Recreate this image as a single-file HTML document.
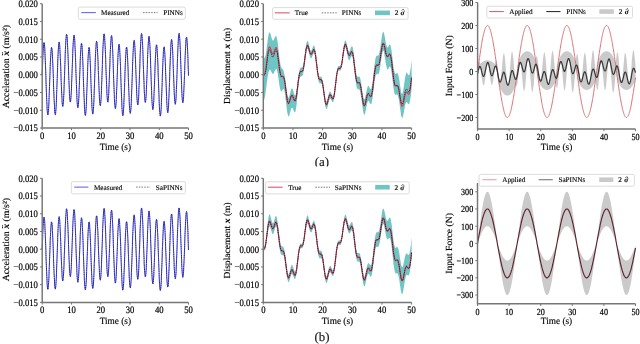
<!DOCTYPE html>
<html><head><meta charset="utf-8"><style>
html,body{margin:0;padding:0;background:#fff;width:640px;height:344px;overflow:hidden}
svg{display:block}
#root{filter:blur(0.3px)}
text{font-family:"Liberation Serif", serif;fill:#000;text-rendering:geometricPrecision}
.tk{font-size:8.8px;stroke:#000;stroke-width:0.2px}
.lb{font-size:9.7px;stroke:#000;stroke-width:0.15px}
.lg{font-size:7.15px;stroke:#000;stroke-width:0.5px}
.cap{font-size:12.8px;fill:#111;stroke:#111;stroke-width:0.12px}
</style></head><body>
<svg id="root" width="640" height="344" viewBox="0 0 640 344">
<rect width="640" height="344" fill="#fff"/>
<path d="M42.2 74.7L42.4 69.7L42.6 64.8L42.7 60.1L42.9 55.8L43.1 51.9L43.3 48.7L43.5 46.0L43.7 44.1L43.8 42.9L44.0 42.5L44.2 42.9L44.4 44.1L44.6 46.1L44.8 48.8L44.9 52.2L45.1 56.2L45.3 60.7L45.5 65.6L45.7 70.8L45.9 76.2L46.0 81.7L46.2 87.1L46.4 92.3L46.6 97.2L46.8 101.6L47.0 105.6L47.1 108.9L47.3 111.6L47.5 113.5L47.7 114.7L47.9 115.0L48.1 114.5L48.2 113.3L48.4 111.2L48.6 108.5L48.8 105.1L49.0 101.1L49.1 96.6L49.3 91.8L49.5 86.8L49.7 81.6L49.9 76.4L50.1 71.3L50.2 66.5L50.4 62.0L50.6 57.9L50.8 54.4L51.0 51.6L51.2 49.4L51.3 48.0L51.5 47.4L51.7 47.6L51.9 48.6L52.1 50.3L52.3 52.8L52.4 56.0L52.6 59.7L52.8 64.0L53.0 68.6L53.2 73.6L53.4 78.7L53.5 83.9L53.7 89.1L53.9 94.0L54.1 98.6L54.3 102.9L54.5 106.6L54.6 109.6L54.8 112.1L55.0 113.7L55.2 114.6L55.4 114.7L55.5 113.9L55.7 112.4L55.9 110.1L56.1 107.1L56.3 103.4L56.5 99.2L56.6 94.5L56.8 89.5L57.0 84.1L57.2 78.7L57.4 73.3L57.6 67.9L57.7 62.8L57.9 58.1L58.1 53.8L58.3 50.1L58.5 47.0L58.7 44.6L58.8 43.0L59.0 42.2L59.2 42.2L59.4 42.9L59.6 44.5L59.8 46.8L59.9 49.7L60.1 53.3L60.3 57.4L60.5 61.9L60.7 66.7L60.9 71.7L61.0 76.7L61.2 81.7L61.4 86.5L61.6 91.0L61.8 95.1L62.0 98.7L62.1 101.7L62.3 104.0L62.5 105.6L62.7 106.4L62.9 106.5L63.0 105.7L63.2 104.1L63.4 101.7L63.6 98.7L63.8 95.0L64.0 90.8L64.1 86.1L64.3 81.0L64.5 75.7L64.7 70.3L64.9 64.8L65.1 59.5L65.2 54.5L65.4 49.8L65.6 45.6L65.8 41.9L66.0 38.9L66.2 36.6L66.3 35.0L66.5 34.3L66.7 34.3L66.9 35.2L67.1 36.9L67.3 39.3L67.4 42.4L67.6 46.1L67.8 50.3L68.0 54.9L68.2 59.9L68.4 65.1L68.5 70.3L68.7 75.4L68.9 80.4L69.1 85.1L69.3 89.5L69.4 93.3L69.6 96.5L69.8 99.0L70.0 100.8L70.2 101.8L70.4 102.1L70.5 101.5L70.7 100.2L70.9 98.1L71.1 95.3L71.3 91.9L71.5 87.9L71.6 83.4L71.8 78.6L72.0 73.6L72.2 68.4L72.4 63.2L72.6 58.2L72.7 53.4L72.9 49.0L73.1 45.0L73.3 41.6L73.5 38.8L73.7 36.8L73.8 35.5L74.0 35.0L74.2 35.3L74.4 36.5L74.6 38.4L74.8 41.0L74.9 44.4L75.1 48.3L75.3 52.8L75.5 57.7L75.7 62.9L75.8 68.3L76.0 73.8L76.2 79.2L76.4 84.4L76.6 89.3L76.8 93.9L76.9 97.9L77.1 101.3L77.3 104.1L77.5 106.1L77.7 107.4L77.9 107.8L78.0 107.5L78.2 106.3L78.4 104.4L78.6 101.8L78.8 98.5L79.0 94.7L79.1 90.4L79.3 85.8L79.5 80.8L79.7 75.8L79.9 70.8L80.1 65.8L80.2 61.2L80.4 56.8L80.6 53.0L80.8 49.6L81.0 47.0L81.2 45.0L81.3 43.7L81.5 43.3L81.7 43.7L81.9 44.8L82.1 46.8L82.2 49.5L82.4 52.8L82.6 56.8L82.8 61.3L83.0 66.1L83.2 71.3L83.3 76.7L83.5 82.1L83.7 87.5L83.9 92.7L84.1 97.6L84.3 102.0L84.4 106.0L84.6 109.4L84.8 112.0L85.0 114.0L85.2 115.1L85.4 115.5L85.5 115.0L85.7 113.7L85.9 111.7L86.1 108.9L86.3 105.5L86.5 101.6L86.6 97.1L86.8 92.3L87.0 87.2L87.2 82.0L87.4 76.8L87.6 71.6L87.7 66.8L87.9 62.2L88.1 58.1L88.3 54.6L88.5 51.7L88.7 49.5L88.8 48.0L89.0 47.3L89.2 47.5L89.4 48.4L89.6 50.1L89.7 52.5L89.9 55.6L90.1 59.3L90.3 63.5L90.5 68.2L90.7 73.1L90.8 78.2L91.0 83.4L91.2 88.5L91.4 93.4L91.6 98.0L91.8 102.2L91.9 105.9L92.1 109.0L92.3 111.4L92.5 113.1L92.7 114.0L92.9 114.1L93.0 113.4L93.2 111.9L93.4 109.6L93.6 106.6L93.8 102.9L94.0 98.7L94.1 94.0L94.3 88.9L94.5 83.6L94.7 78.2L94.9 72.7L95.1 67.3L95.2 62.2L95.4 57.5L95.6 53.2L95.8 49.4L96.0 46.3L96.1 43.9L96.3 42.2L96.5 41.3L96.7 41.3L96.9 42.0L97.1 43.5L97.2 45.8L97.4 48.7L97.6 52.3L97.8 56.3L98.0 60.8L98.2 65.6L98.3 70.6L98.5 75.6L98.7 80.6L98.9 85.5L99.1 90.0L99.3 94.1L99.4 97.8L99.6 100.8L99.8 103.1L100.0 104.8L100.2 105.6L100.4 105.7L100.5 104.9L100.7 103.4L100.9 101.1L101.1 98.1L101.3 94.5L101.5 90.2L101.6 85.6L101.8 80.5L102.0 75.3L102.2 69.8L102.4 64.4L102.5 59.1L102.7 54.1L102.9 49.4L103.1 45.2L103.3 41.5L103.5 38.5L103.6 36.2L103.8 34.6L104.0 33.9L104.2 33.9L104.4 34.8L104.6 36.5L104.7 38.9L104.9 41.9L105.1 45.6L105.3 49.9L105.5 54.5L105.7 59.5L105.8 64.7L106.0 69.9L106.2 75.1L106.4 80.2L106.6 84.9L106.8 89.3L106.9 93.1L107.1 96.4L107.3 99.0L107.5 100.8L107.7 101.9L107.9 102.2L108.0 101.7L108.2 100.5L108.4 98.4L108.6 95.7L108.8 92.3L108.9 88.3L109.1 83.9L109.3 79.2L109.5 74.1L109.7 69.0L109.9 63.9L110.0 58.8L110.2 54.0L110.4 49.6L110.6 45.7L110.8 42.2L111.0 39.5L111.1 37.4L111.3 36.1L111.5 35.6L111.7 35.9L111.9 37.1L112.1 39.0L112.2 41.6L112.4 44.9L112.6 48.9L112.8 53.4L113.0 58.2L113.2 63.5L113.3 68.9L113.5 74.3L113.7 79.8L113.9 85.0L114.1 90.0L114.3 94.5L114.4 98.6L114.6 102.1L114.8 104.9L115.0 106.9L115.2 108.2L115.4 108.7L115.5 108.4L115.7 107.3L115.9 105.4L116.1 102.8L116.3 99.6L116.4 95.7L116.6 91.5L116.8 86.8L117.0 81.9L117.2 76.9L117.4 71.8L117.5 66.9L117.7 62.2L117.9 57.8L118.1 53.9L118.3 50.6L118.5 47.9L118.6 45.8L118.8 44.6L119.0 44.1L119.2 44.4L119.4 45.5L119.6 47.4L119.7 50.1L119.9 53.4L120.1 57.3L120.3 61.7L120.5 66.6L120.7 71.7L120.8 77.1L121.0 82.5L121.2 87.9L121.4 93.0L121.6 97.9L121.8 102.4L121.9 106.3L122.1 109.7L122.3 112.4L122.5 114.3L122.7 115.5L122.8 115.8L123.0 115.4L123.2 114.1L123.4 112.1L123.6 109.3L123.8 105.9L123.9 101.9L124.1 97.5L124.3 92.6L124.5 87.5L124.7 82.3L124.9 77.0L125.0 71.9L125.2 67.0L125.4 62.4L125.6 58.2L125.8 54.6L126.0 51.7L126.1 49.4L126.3 47.9L126.5 47.2L126.7 47.2L126.9 48.1L127.1 49.7L127.2 52.1L127.4 55.2L127.6 58.8L127.8 63.0L128.0 67.6L128.2 72.5L128.3 77.5L128.5 82.7L128.7 87.8L128.9 92.7L129.1 97.3L129.2 101.5L129.4 105.2L129.6 108.3L129.8 110.7L130.0 112.4L130.2 113.3L130.3 113.4L130.5 112.7L130.7 111.2L130.9 109.0L131.1 106.0L131.3 102.3L131.4 98.1L131.6 93.4L131.8 88.3L132.0 83.0L132.2 77.6L132.4 72.1L132.5 66.7L132.7 61.6L132.9 56.8L133.1 52.5L133.3 48.7L133.5 45.5L133.6 43.1L133.8 41.4L134.0 40.5L134.2 40.4L134.4 41.1L134.6 42.6L134.7 44.8L134.9 47.7L135.1 51.2L135.3 55.3L135.5 59.7L135.6 64.5L135.8 69.5L136.0 74.6L136.2 79.6L136.4 84.4L136.6 89.0L136.7 93.2L136.9 96.8L137.1 99.9L137.3 102.3L137.5 103.9L137.7 104.8L137.8 105.0L138.0 104.3L138.2 102.8L138.4 100.5L138.6 97.6L138.8 93.9L138.9 89.8L139.1 85.1L139.3 80.1L139.5 74.9L139.7 69.5L139.9 64.1L140.0 58.8L140.2 53.8L140.4 49.1L140.6 44.9L140.8 41.2L141.0 38.2L141.1 35.9L141.3 34.3L141.5 33.6L141.7 33.6L141.9 34.5L142.0 36.1L142.2 38.5L142.4 41.6L142.6 45.3L142.8 49.6L143.0 54.2L143.1 59.2L143.3 64.4L143.5 69.7L143.7 74.9L143.9 80.0L144.1 84.8L144.2 89.2L144.4 93.1L144.6 96.4L144.8 99.0L145.0 101.0L145.2 102.1L145.3 102.5L145.5 102.1L145.7 100.8L145.9 98.8L146.1 96.1L146.3 92.8L146.4 88.9L146.6 84.5L146.8 79.8L147.0 74.8L147.2 69.7L147.4 64.6L147.5 59.6L147.7 54.8L147.9 50.4L148.1 46.4L148.3 43.0L148.5 40.2L148.6 38.1L148.8 36.8L149.0 36.3L149.2 36.6L149.4 37.7L149.5 39.6L149.7 42.2L149.9 45.6L150.1 49.5L150.3 54.0L150.5 58.9L150.6 64.1L150.8 69.5L151.0 75.0L151.2 80.4L151.4 85.7L151.6 90.7L151.7 95.2L151.9 99.3L152.1 102.8L152.3 105.6L152.5 107.7L152.7 109.1L152.8 109.6L153.0 109.3L153.2 108.2L153.4 106.4L153.6 103.8L153.8 100.6L153.9 96.8L154.1 92.5L154.3 87.9L154.5 83.0L154.7 77.9L154.9 72.9L155.0 67.9L155.2 63.2L155.4 58.8L155.6 54.9L155.8 51.5L155.9 48.7L156.1 46.7L156.3 45.3L156.5 44.8L156.7 45.1L156.9 46.2L157.0 48.0L157.2 50.6L157.4 53.9L157.6 57.7L157.8 62.1L158.0 66.9L158.1 72.1L158.3 77.4L158.5 82.8L158.7 88.1L158.9 93.3L159.1 98.2L159.2 102.6L159.4 106.6L159.6 109.9L159.8 112.6L160.0 114.6L160.2 115.7L160.3 116.1L160.5 115.6L160.7 114.4L160.9 112.3L161.1 109.6L161.3 106.2L161.4 102.2L161.6 97.7L161.8 92.9L162.0 87.7L162.2 82.5L162.3 77.2L162.5 72.0L162.7 67.1L162.9 62.4L163.1 58.2L163.3 54.6L163.4 51.6L163.6 49.3L163.8 47.7L164.0 46.9L164.2 46.9L164.4 47.7L164.5 49.3L164.7 51.6L164.9 54.6L165.1 58.2L165.3 62.4L165.5 66.9L165.6 71.8L165.8 76.8L166.0 81.9L166.2 87.0L166.4 91.9L166.6 96.5L166.7 100.7L166.9 104.4L167.1 107.5L167.3 110.0L167.5 111.7L167.7 112.6L167.8 112.7L168.0 112.0L168.2 110.5L168.4 108.3L168.6 105.3L168.7 101.7L168.9 97.5L169.1 92.8L169.3 87.7L169.5 82.4L169.7 76.9L169.8 71.4L170.0 66.1L170.2 60.9L170.4 56.1L170.6 51.7L170.8 47.9L170.9 44.8L171.1 42.3L171.3 40.5L171.5 39.6L171.7 39.5L171.9 40.2L172.0 41.6L172.2 43.8L172.4 46.7L172.6 50.2L172.8 54.3L173.0 58.7L173.1 63.5L173.3 68.5L173.5 73.6L173.7 78.6L173.9 83.5L174.1 88.0L174.2 92.2L174.4 95.9L174.6 99.0L174.8 101.5L175.0 103.2L175.2 104.1L175.3 104.3L175.5 103.6L175.7 102.2L175.9 100.0L176.1 97.1L176.2 93.5L176.4 89.4L176.6 84.8L176.8 79.8L177.0 74.6L177.2 69.3L177.3 63.9L177.5 58.6L177.7 53.6L177.9 48.9L178.1 44.7L178.3 41.0L178.4 38.0L178.6 35.7L178.8 34.1L179.0 33.4L179.2 33.4L179.4 34.3L179.5 35.9L179.7 38.3L179.9 41.4L180.1 45.1L180.3 49.4L180.5 54.0L180.6 59.1L180.8 64.3L181.0 69.6L181.2 74.8L181.4 79.9L181.6 84.8L181.7 89.2L181.9 93.2L182.1 96.5L182.3 99.2L182.5 101.2L182.6 102.4L182.8 102.8L183.0 102.5L183.2 101.3L183.4 99.4L183.6 96.7L183.7 93.4L183.9 89.6L184.1 85.2L184.3 80.5L184.5 75.6L184.7 70.5L184.8 65.4L185.0 60.4L185.2 55.6L185.4 51.2L185.6 47.2L185.8 43.8L185.9 41.0L186.1 38.9L186.3 37.6L186.5 37.1L186.7 37.4L186.9 38.4L187.0 40.3L187.2 42.9L187.4 46.2L187.6 50.2L187.8 54.6L188.0 59.5L188.1 64.7L188.3 70.1L188.5 75.6" fill="none" stroke="#3434f0" stroke-width="0.95"/>
<path d="M42.2 74.7L42.4 69.7L42.6 64.8L42.7 60.1L42.9 55.8L43.1 51.9L43.3 48.7L43.5 46.0L43.7 44.1L43.8 42.9L44.0 42.5L44.2 42.9L44.4 44.1L44.6 46.1L44.8 48.8L44.9 52.2L45.1 56.2L45.3 60.7L45.5 65.6L45.7 70.8L45.9 76.2L46.0 81.7L46.2 87.1L46.4 92.3L46.6 97.2L46.8 101.6L47.0 105.6L47.1 108.9L47.3 111.6L47.5 113.5L47.7 114.7L47.9 115.0L48.1 114.5L48.2 113.3L48.4 111.2L48.6 108.5L48.8 105.1L49.0 101.1L49.1 96.6L49.3 91.8L49.5 86.8L49.7 81.6L49.9 76.4L50.1 71.3L50.2 66.5L50.4 62.0L50.6 57.9L50.8 54.4L51.0 51.6L51.2 49.4L51.3 48.0L51.5 47.4L51.7 47.6L51.9 48.6L52.1 50.3L52.3 52.8L52.4 56.0L52.6 59.7L52.8 64.0L53.0 68.6L53.2 73.6L53.4 78.7L53.5 83.9L53.7 89.1L53.9 94.0L54.1 98.6L54.3 102.9L54.5 106.6L54.6 109.6L54.8 112.1L55.0 113.7L55.2 114.6L55.4 114.7L55.5 113.9L55.7 112.4L55.9 110.1L56.1 107.1L56.3 103.4L56.5 99.2L56.6 94.5L56.8 89.5L57.0 84.1L57.2 78.7L57.4 73.3L57.6 67.9L57.7 62.8L57.9 58.1L58.1 53.8L58.3 50.1L58.5 47.0L58.7 44.6L58.8 43.0L59.0 42.2L59.2 42.2L59.4 42.9L59.6 44.5L59.8 46.8L59.9 49.7L60.1 53.3L60.3 57.4L60.5 61.9L60.7 66.7L60.9 71.7L61.0 76.7L61.2 81.7L61.4 86.5L61.6 91.0L61.8 95.1L62.0 98.7L62.1 101.7L62.3 104.0L62.5 105.6L62.7 106.4L62.9 106.5L63.0 105.7L63.2 104.1L63.4 101.7L63.6 98.7L63.8 95.0L64.0 90.8L64.1 86.1L64.3 81.0L64.5 75.7L64.7 70.3L64.9 64.8L65.1 59.5L65.2 54.5L65.4 49.8L65.6 45.6L65.8 41.9L66.0 38.9L66.2 36.6L66.3 35.0L66.5 34.3L66.7 34.3L66.9 35.2L67.1 36.9L67.3 39.3L67.4 42.4L67.6 46.1L67.8 50.3L68.0 54.9L68.2 59.9L68.4 65.1L68.5 70.3L68.7 75.4L68.9 80.4L69.1 85.1L69.3 89.5L69.4 93.3L69.6 96.5L69.8 99.0L70.0 100.8L70.2 101.8L70.4 102.1L70.5 101.5L70.7 100.2L70.9 98.1L71.1 95.3L71.3 91.9L71.5 87.9L71.6 83.4L71.8 78.6L72.0 73.6L72.2 68.4L72.4 63.2L72.6 58.2L72.7 53.4L72.9 49.0L73.1 45.0L73.3 41.6L73.5 38.8L73.7 36.8L73.8 35.5L74.0 35.0L74.2 35.3L74.4 36.5L74.6 38.4L74.8 41.0L74.9 44.4L75.1 48.3L75.3 52.8L75.5 57.7L75.7 62.9L75.8 68.3L76.0 73.8L76.2 79.2L76.4 84.4L76.6 89.3L76.8 93.9L76.9 97.9L77.1 101.3L77.3 104.1L77.5 106.1L77.7 107.4L77.9 107.8L78.0 107.5L78.2 106.3L78.4 104.4L78.6 101.8L78.8 98.5L79.0 94.7L79.1 90.4L79.3 85.8L79.5 80.8L79.7 75.8L79.9 70.8L80.1 65.8L80.2 61.2L80.4 56.8L80.6 53.0L80.8 49.6L81.0 47.0L81.2 45.0L81.3 43.7L81.5 43.3L81.7 43.7L81.9 44.8L82.1 46.8L82.2 49.5L82.4 52.8L82.6 56.8L82.8 61.3L83.0 66.1L83.2 71.3L83.3 76.7L83.5 82.1L83.7 87.5L83.9 92.7L84.1 97.6L84.3 102.0L84.4 106.0L84.6 109.4L84.8 112.0L85.0 114.0L85.2 115.1L85.4 115.5L85.5 115.0L85.7 113.7L85.9 111.7L86.1 108.9L86.3 105.5L86.5 101.6L86.6 97.1L86.8 92.3L87.0 87.2L87.2 82.0L87.4 76.8L87.6 71.6L87.7 66.8L87.9 62.2L88.1 58.1L88.3 54.6L88.5 51.7L88.7 49.5L88.8 48.0L89.0 47.3L89.2 47.5L89.4 48.4L89.6 50.1L89.7 52.5L89.9 55.6L90.1 59.3L90.3 63.5L90.5 68.2L90.7 73.1L90.8 78.2L91.0 83.4L91.2 88.5L91.4 93.4L91.6 98.0L91.8 102.2L91.9 105.9L92.1 109.0L92.3 111.4L92.5 113.1L92.7 114.0L92.9 114.1L93.0 113.4L93.2 111.9L93.4 109.6L93.6 106.6L93.8 102.9L94.0 98.7L94.1 94.0L94.3 88.9L94.5 83.6L94.7 78.2L94.9 72.7L95.1 67.3L95.2 62.2L95.4 57.5L95.6 53.2L95.8 49.4L96.0 46.3L96.1 43.9L96.3 42.2L96.5 41.3L96.7 41.3L96.9 42.0L97.1 43.5L97.2 45.8L97.4 48.7L97.6 52.3L97.8 56.3L98.0 60.8L98.2 65.6L98.3 70.6L98.5 75.6L98.7 80.6L98.9 85.5L99.1 90.0L99.3 94.1L99.4 97.8L99.6 100.8L99.8 103.1L100.0 104.8L100.2 105.6L100.4 105.7L100.5 104.9L100.7 103.4L100.9 101.1L101.1 98.1L101.3 94.5L101.5 90.2L101.6 85.6L101.8 80.5L102.0 75.3L102.2 69.8L102.4 64.4L102.5 59.1L102.7 54.1L102.9 49.4L103.1 45.2L103.3 41.5L103.5 38.5L103.6 36.2L103.8 34.6L104.0 33.9L104.2 33.9L104.4 34.8L104.6 36.5L104.7 38.9L104.9 41.9L105.1 45.6L105.3 49.9L105.5 54.5L105.7 59.5L105.8 64.7L106.0 69.9L106.2 75.1L106.4 80.2L106.6 84.9L106.8 89.3L106.9 93.1L107.1 96.4L107.3 99.0L107.5 100.8L107.7 101.9L107.9 102.2L108.0 101.7L108.2 100.5L108.4 98.4L108.6 95.7L108.8 92.3L108.9 88.3L109.1 83.9L109.3 79.2L109.5 74.1L109.7 69.0L109.9 63.9L110.0 58.8L110.2 54.0L110.4 49.6L110.6 45.7L110.8 42.2L111.0 39.5L111.1 37.4L111.3 36.1L111.5 35.6L111.7 35.9L111.9 37.1L112.1 39.0L112.2 41.6L112.4 44.9L112.6 48.9L112.8 53.4L113.0 58.2L113.2 63.5L113.3 68.9L113.5 74.3L113.7 79.8L113.9 85.0L114.1 90.0L114.3 94.5L114.4 98.6L114.6 102.1L114.8 104.9L115.0 106.9L115.2 108.2L115.4 108.7L115.5 108.4L115.7 107.3L115.9 105.4L116.1 102.8L116.3 99.6L116.4 95.7L116.6 91.5L116.8 86.8L117.0 81.9L117.2 76.9L117.4 71.8L117.5 66.9L117.7 62.2L117.9 57.8L118.1 53.9L118.3 50.6L118.5 47.9L118.6 45.8L118.8 44.6L119.0 44.1L119.2 44.4L119.4 45.5L119.6 47.4L119.7 50.1L119.9 53.4L120.1 57.3L120.3 61.7L120.5 66.6L120.7 71.7L120.8 77.1L121.0 82.5L121.2 87.9L121.4 93.0L121.6 97.9L121.8 102.4L121.9 106.3L122.1 109.7L122.3 112.4L122.5 114.3L122.7 115.5L122.8 115.8L123.0 115.4L123.2 114.1L123.4 112.1L123.6 109.3L123.8 105.9L123.9 101.9L124.1 97.5L124.3 92.6L124.5 87.5L124.7 82.3L124.9 77.0L125.0 71.9L125.2 67.0L125.4 62.4L125.6 58.2L125.8 54.6L126.0 51.7L126.1 49.4L126.3 47.9L126.5 47.2L126.7 47.2L126.9 48.1L127.1 49.7L127.2 52.1L127.4 55.2L127.6 58.8L127.8 63.0L128.0 67.6L128.2 72.5L128.3 77.5L128.5 82.7L128.7 87.8L128.9 92.7L129.1 97.3L129.2 101.5L129.4 105.2L129.6 108.3L129.8 110.7L130.0 112.4L130.2 113.3L130.3 113.4L130.5 112.7L130.7 111.2L130.9 109.0L131.1 106.0L131.3 102.3L131.4 98.1L131.6 93.4L131.8 88.3L132.0 83.0L132.2 77.6L132.4 72.1L132.5 66.7L132.7 61.6L132.9 56.8L133.1 52.5L133.3 48.7L133.5 45.5L133.6 43.1L133.8 41.4L134.0 40.5L134.2 40.4L134.4 41.1L134.6 42.6L134.7 44.8L134.9 47.7L135.1 51.2L135.3 55.3L135.5 59.7L135.6 64.5L135.8 69.5L136.0 74.6L136.2 79.6L136.4 84.4L136.6 89.0L136.7 93.2L136.9 96.8L137.1 99.9L137.3 102.3L137.5 103.9L137.7 104.8L137.8 105.0L138.0 104.3L138.2 102.8L138.4 100.5L138.6 97.6L138.8 93.9L138.9 89.8L139.1 85.1L139.3 80.1L139.5 74.9L139.7 69.5L139.9 64.1L140.0 58.8L140.2 53.8L140.4 49.1L140.6 44.9L140.8 41.2L141.0 38.2L141.1 35.9L141.3 34.3L141.5 33.6L141.7 33.6L141.9 34.5L142.0 36.1L142.2 38.5L142.4 41.6L142.6 45.3L142.8 49.6L143.0 54.2L143.1 59.2L143.3 64.4L143.5 69.7L143.7 74.9L143.9 80.0L144.1 84.8L144.2 89.2L144.4 93.1L144.6 96.4L144.8 99.0L145.0 101.0L145.2 102.1L145.3 102.5L145.5 102.1L145.7 100.8L145.9 98.8L146.1 96.1L146.3 92.8L146.4 88.9L146.6 84.5L146.8 79.8L147.0 74.8L147.2 69.7L147.4 64.6L147.5 59.6L147.7 54.8L147.9 50.4L148.1 46.4L148.3 43.0L148.5 40.2L148.6 38.1L148.8 36.8L149.0 36.3L149.2 36.6L149.4 37.7L149.5 39.6L149.7 42.2L149.9 45.6L150.1 49.5L150.3 54.0L150.5 58.9L150.6 64.1L150.8 69.5L151.0 75.0L151.2 80.4L151.4 85.7L151.6 90.7L151.7 95.2L151.9 99.3L152.1 102.8L152.3 105.6L152.5 107.7L152.7 109.1L152.8 109.6L153.0 109.3L153.2 108.2L153.4 106.4L153.6 103.8L153.8 100.6L153.9 96.8L154.1 92.5L154.3 87.9L154.5 83.0L154.7 77.9L154.9 72.9L155.0 67.9L155.2 63.2L155.4 58.8L155.6 54.9L155.8 51.5L155.9 48.7L156.1 46.7L156.3 45.3L156.5 44.8L156.7 45.1L156.9 46.2L157.0 48.0L157.2 50.6L157.4 53.9L157.6 57.7L157.8 62.1L158.0 66.9L158.1 72.1L158.3 77.4L158.5 82.8L158.7 88.1L158.9 93.3L159.1 98.2L159.2 102.6L159.4 106.6L159.6 109.9L159.8 112.6L160.0 114.6L160.2 115.7L160.3 116.1L160.5 115.6L160.7 114.4L160.9 112.3L161.1 109.6L161.3 106.2L161.4 102.2L161.6 97.7L161.8 92.9L162.0 87.7L162.2 82.5L162.3 77.2L162.5 72.0L162.7 67.1L162.9 62.4L163.1 58.2L163.3 54.6L163.4 51.6L163.6 49.3L163.8 47.7L164.0 46.9L164.2 46.9L164.4 47.7L164.5 49.3L164.7 51.6L164.9 54.6L165.1 58.2L165.3 62.4L165.5 66.9L165.6 71.8L165.8 76.8L166.0 81.9L166.2 87.0L166.4 91.9L166.6 96.5L166.7 100.7L166.9 104.4L167.1 107.5L167.3 110.0L167.5 111.7L167.7 112.6L167.8 112.7L168.0 112.0L168.2 110.5L168.4 108.3L168.6 105.3L168.7 101.7L168.9 97.5L169.1 92.8L169.3 87.7L169.5 82.4L169.7 76.9L169.8 71.4L170.0 66.1L170.2 60.9L170.4 56.1L170.6 51.7L170.8 47.9L170.9 44.8L171.1 42.3L171.3 40.5L171.5 39.6L171.7 39.5L171.9 40.2L172.0 41.6L172.2 43.8L172.4 46.7L172.6 50.2L172.8 54.3L173.0 58.7L173.1 63.5L173.3 68.5L173.5 73.6L173.7 78.6L173.9 83.5L174.1 88.0L174.2 92.2L174.4 95.9L174.6 99.0L174.8 101.5L175.0 103.2L175.2 104.1L175.3 104.3L175.5 103.6L175.7 102.2L175.9 100.0L176.1 97.1L176.2 93.5L176.4 89.4L176.6 84.8L176.8 79.8L177.0 74.6L177.2 69.3L177.3 63.9L177.5 58.6L177.7 53.6L177.9 48.9L178.1 44.7L178.3 41.0L178.4 38.0L178.6 35.7L178.8 34.1L179.0 33.4L179.2 33.4L179.4 34.3L179.5 35.9L179.7 38.3L179.9 41.4L180.1 45.1L180.3 49.4L180.5 54.0L180.6 59.1L180.8 64.3L181.0 69.6L181.2 74.8L181.4 79.9L181.6 84.8L181.7 89.2L181.9 93.2L182.1 96.5L182.3 99.2L182.5 101.2L182.6 102.4L182.8 102.8L183.0 102.5L183.2 101.3L183.4 99.4L183.6 96.7L183.7 93.4L183.9 89.6L184.1 85.2L184.3 80.5L184.5 75.6L184.7 70.5L184.8 65.4L185.0 60.4L185.2 55.6L185.4 51.2L185.6 47.2L185.8 43.8L185.9 41.0L186.1 38.9L186.3 37.6L186.5 37.1L186.7 37.4L186.9 38.4L187.0 40.3L187.2 42.9L187.4 46.2L187.6 50.2L187.8 54.6L188.0 59.5L188.1 64.7L188.3 70.1L188.5 75.6" fill="none" stroke="#181828" stroke-width="0.8" stroke-dasharray="1.1,1.1" stroke-opacity="0.7"/>
<path d="M42.20,3.70 L42.20,128.00 L188.50,128.00" fill="none" stroke="#767676" stroke-width="1.45"/>
<line x1="42.20" y1="128.00" x2="42.20" y2="130.20" stroke="#767676" stroke-width="1"/>
<text transform="translate(42.20,139.05) scale(0.880,1)" text-anchor="middle" class="tk" style="font-size:9.85px">0</text>
<line x1="71.46" y1="128.00" x2="71.46" y2="130.20" stroke="#767676" stroke-width="1"/>
<text transform="translate(71.46,139.05) scale(0.880,1)" text-anchor="middle" class="tk" style="font-size:9.85px">10</text>
<line x1="100.72" y1="128.00" x2="100.72" y2="130.20" stroke="#767676" stroke-width="1"/>
<text transform="translate(100.72,139.05) scale(0.880,1)" text-anchor="middle" class="tk" style="font-size:9.85px">20</text>
<line x1="129.98" y1="128.00" x2="129.98" y2="130.20" stroke="#767676" stroke-width="1"/>
<text transform="translate(129.98,139.05) scale(0.880,1)" text-anchor="middle" class="tk" style="font-size:9.85px">30</text>
<line x1="159.24" y1="128.00" x2="159.24" y2="130.20" stroke="#767676" stroke-width="1"/>
<text transform="translate(159.24,139.05) scale(0.880,1)" text-anchor="middle" class="tk" style="font-size:9.85px">40</text>
<line x1="188.50" y1="128.00" x2="188.50" y2="130.20" stroke="#767676" stroke-width="1"/>
<text transform="translate(188.50,139.05) scale(0.880,1)" text-anchor="middle" class="tk" style="font-size:9.85px">50</text>
<line x1="40.00" y1="128.00" x2="42.20" y2="128.00" stroke="#767676" stroke-width="1"/>
<text transform="translate(37.90,131.45) scale(0.880,1)" text-anchor="end" class="tk" style="font-size:9.85px">−0.015</text>
<line x1="40.00" y1="110.24" x2="42.20" y2="110.24" stroke="#767676" stroke-width="1"/>
<text transform="translate(37.90,113.69) scale(0.880,1)" text-anchor="end" class="tk" style="font-size:9.85px">−0.010</text>
<line x1="40.00" y1="92.49" x2="42.20" y2="92.49" stroke="#767676" stroke-width="1"/>
<text transform="translate(37.90,95.94) scale(0.880,1)" text-anchor="end" class="tk" style="font-size:9.85px">−0.005</text>
<line x1="40.00" y1="74.73" x2="42.20" y2="74.73" stroke="#767676" stroke-width="1"/>
<text transform="translate(37.90,78.18) scale(0.880,1)" text-anchor="end" class="tk" style="font-size:9.85px">0.000</text>
<line x1="40.00" y1="56.97" x2="42.20" y2="56.97" stroke="#767676" stroke-width="1"/>
<text transform="translate(37.90,60.42) scale(0.880,1)" text-anchor="end" class="tk" style="font-size:9.85px">0.005</text>
<line x1="40.00" y1="39.21" x2="42.20" y2="39.21" stroke="#767676" stroke-width="1"/>
<text transform="translate(37.90,42.66) scale(0.880,1)" text-anchor="end" class="tk" style="font-size:9.85px">0.010</text>
<line x1="40.00" y1="21.46" x2="42.20" y2="21.46" stroke="#767676" stroke-width="1"/>
<text transform="translate(37.90,24.91) scale(0.880,1)" text-anchor="end" class="tk" style="font-size:9.85px">0.015</text>
<line x1="40.00" y1="3.70" x2="42.20" y2="3.70" stroke="#767676" stroke-width="1"/>
<text transform="translate(37.90,7.15) scale(0.880,1)" text-anchor="end" class="tk" style="font-size:9.85px">0.020</text>
<text transform="translate(115.35,149.80) scale(0.960,1)" text-anchor="middle" class="lb">Time (s)</text>
<text transform="translate(9.00,66.60) scale(0.960,1) rotate(-90)" text-anchor="middle" class="lb" style="font-size:9.80px">Acceleration <tspan font-weight="bold" font-style="italic">x</tspan><tspan dx="-4.6" dy="-6.4" font-weight="bold" style="font-size:7px">..</tspan><tspan dx="1.1" dy="6.4"> (m/s²)</tspan></text>
<rect x="78.30" y="7.10" width="107.00" height="12.20" rx="1.5" fill="#fff" stroke="#d8d8d8" stroke-width="0.9"/>
<line x1="81.30" y1="12.60" x2="95.90" y2="12.60" stroke="#6a6af0" stroke-width="1.1"/>
<text transform="translate(101.00,14.80) scale(0.2500,0.2500)" class="lg" style="font-size:28.80px">Measured</text>
<line x1="143.10" y1="12.60" x2="157.60" y2="12.60" stroke="#555" stroke-width="0.8" stroke-dasharray="1.5,1.2"/>
<text transform="translate(163.20,14.80) scale(0.2500,0.2500)" class="lg" style="font-size:28.80px">PINNs</text>
<path d="M263.3 57.0L263.5 57.2L263.7 57.5L263.9 57.7L264.0 57.8L264.2 57.9L264.4 57.9L264.6 57.8L264.8 57.5L265.0 57.2L265.2 56.7L265.3 56.1L265.5 55.4L265.7 54.6L265.9 53.7L266.1 52.6L266.3 51.5L266.5 50.1L266.6 48.6L266.8 47.0L267.0 45.5L267.2 44.0L267.4 42.4L267.6 41.0L267.7 39.6L267.9 38.3L268.1 37.0L268.3 35.9L268.5 35.0L268.7 34.1L268.9 33.5L269.0 32.9L269.2 32.5L269.4 32.4L269.6 32.4L269.8 32.5L270.0 32.7L270.2 33.1L270.3 33.6L270.5 34.1L270.7 34.7L270.9 35.4L271.1 36.1L271.3 36.7L271.5 37.4L271.6 38.0L271.8 38.6L272.0 39.1L272.2 39.6L272.4 40.0L272.6 40.3L272.8 40.5L272.9 40.7L273.1 40.7L273.3 40.6L273.5 40.4L273.7 40.1L273.9 39.8L274.1 39.3L274.2 38.9L274.4 38.4L274.6 37.9L274.8 37.5L275.0 37.0L275.2 36.7L275.3 36.4L275.5 36.1L275.7 36.0L275.9 36.0L276.1 36.1L276.3 36.3L276.5 36.7L276.6 37.2L276.8 37.9L277.0 38.8L277.2 39.7L277.4 40.8L277.6 42.1L277.8 43.4L277.9 44.8L278.1 46.3L278.3 47.9L278.5 49.5L278.7 51.1L278.9 52.7L279.1 54.3L279.2 56.0L279.4 57.6L279.6 59.1L279.8 60.5L280.0 61.8L280.2 63.0L280.4 64.0L280.5 65.0L280.7 65.8L280.9 66.5L281.1 67.1L281.3 67.5L281.5 67.9L281.7 68.2L281.8 68.5L282.0 68.6L282.2 68.8L282.4 69.0L282.6 69.1L282.8 69.3L282.9 69.5L283.1 69.8L283.3 70.2L283.5 70.7L283.7 71.3L283.9 71.9L284.1 72.7L284.2 73.7L284.4 74.6L284.6 75.6L284.8 76.6L285.0 77.8L285.2 79.1L285.4 80.4L285.5 81.8L285.7 83.3L285.9 84.7L286.1 86.2L286.3 87.7L286.5 89.1L286.7 90.5L286.8 91.8L287.0 93.0L287.2 94.0L287.4 95.0L287.6 95.8L287.8 96.5L288.0 97.0L288.1 97.4L288.3 97.6L288.5 97.7L288.7 97.7L288.9 97.4L289.1 97.0L289.3 96.5L289.4 95.9L289.6 95.3L289.8 94.6L290.0 93.8L290.2 93.0L290.4 92.3L290.6 91.5L290.7 90.8L290.9 90.2L291.1 89.6L291.3 89.1L291.5 88.7L291.7 88.5L291.8 88.3L292.0 88.2L292.2 88.4L292.4 88.7L292.6 89.0L292.8 89.5L293.0 90.1L293.1 90.7L293.3 91.3L293.5 91.9L293.7 92.6L293.9 93.2L294.1 93.8L294.3 94.3L294.4 94.7L294.6 95.0L294.8 95.3L295.0 95.3L295.2 95.3L295.4 95.1L295.6 94.8L295.7 94.3L295.9 93.7L296.1 92.9L296.3 92.0L296.5 90.9L296.7 89.7L296.9 88.5L297.0 87.1L297.2 85.7L297.4 84.3L297.6 82.8L297.8 81.3L298.0 79.8L298.2 78.4L298.3 77.0L298.5 75.7L298.7 74.5L298.9 73.4L299.1 72.3L299.3 71.3L299.4 70.4L299.6 69.7L299.8 69.1L300.0 68.6L300.2 68.2L300.4 68.0L300.6 67.8L300.7 67.7L300.9 67.6L301.1 67.6L301.3 67.6L301.5 67.6L301.7 67.6L301.9 67.6L302.0 67.5L302.2 67.4L302.4 67.2L302.6 66.8L302.8 66.4L303.0 65.8L303.2 65.2L303.3 64.4L303.5 63.5L303.7 62.4L303.9 61.3L304.1 60.1L304.3 58.8L304.5 57.4L304.6 56.0L304.8 54.5L305.0 53.0L305.2 51.5L305.4 50.1L305.6 48.7L305.8 47.4L305.9 46.1L306.1 45.0L306.3 43.9L306.5 43.0L306.7 42.3L306.9 41.7L307.0 41.2L307.2 40.9L307.4 40.8L307.6 40.8L307.8 41.1L308.0 41.4L308.2 41.9L308.3 42.5L308.5 43.1L308.7 43.8L308.9 44.6L309.1 45.4L309.3 46.2L309.5 47.0L309.6 47.7L309.8 48.5L310.0 49.1L310.2 49.7L310.4 50.1L310.6 50.5L310.8 50.8L310.9 50.9L311.1 50.8L311.3 50.7L311.5 50.4L311.7 50.1L311.9 49.7L312.1 49.3L312.2 48.8L312.4 48.2L312.6 47.7L312.8 47.2L313.0 46.7L313.2 46.3L313.4 45.9L313.5 45.6L313.7 45.4L313.9 45.4L314.1 45.5L314.3 45.7L314.5 46.1L314.6 46.7L314.8 47.4L315.0 48.3L315.2 49.3L315.4 50.5L315.6 51.8L315.8 53.2L315.9 54.6L316.1 56.2L316.3 57.8L316.5 59.4L316.7 61.1L316.9 62.7L317.1 64.3L317.2 65.9L317.4 67.4L317.6 68.8L317.8 70.1L318.0 71.3L318.2 72.4L318.4 73.4L318.5 74.2L318.7 74.9L318.9 75.5L319.1 76.0L319.3 76.3L319.5 76.6L319.7 76.8L319.8 76.8L320.0 76.8L320.2 76.7L320.4 76.7L320.6 76.6L320.8 76.6L321.0 76.6L321.1 76.6L321.3 76.8L321.5 77.0L321.7 77.3L321.9 77.7L322.1 78.3L322.2 78.9L322.4 79.7L322.6 80.6L322.8 81.6L323.0 82.7L323.2 83.9L323.4 85.2L323.5 86.5L323.7 87.9L323.9 89.3L324.1 90.7L324.3 92.1L324.5 93.5L324.7 94.8L324.8 96.0L325.0 97.1L325.2 98.1L325.4 99.0L325.6 99.7L325.8 100.3L326.0 100.8L326.1 101.1L326.3 101.2L326.5 101.2L326.7 101.0L326.9 100.7L327.1 100.3L327.3 99.8L327.4 99.2L327.6 98.5L327.8 97.8L328.0 97.1L328.2 96.3L328.4 95.6L328.6 94.8L328.7 94.2L328.9 93.5L329.1 93.0L329.3 92.5L329.5 92.1L329.7 91.8L329.8 91.6L330.0 91.5L330.2 91.6L330.4 91.7L330.6 91.9L330.8 92.2L331.0 92.6L331.1 93.0L331.3 93.5L331.5 94.0L331.7 94.4L331.9 94.9L332.1 95.3L332.3 95.6L332.4 95.9L332.6 96.1L332.8 96.1L333.0 96.1L333.2 95.9L333.4 95.5L333.6 95.1L333.7 94.4L333.9 93.7L334.1 92.7L334.3 91.7L334.5 90.5L334.7 89.2L334.9 87.8L335.0 86.3L335.2 84.8L335.4 83.2L335.6 81.6L335.8 80.0L336.0 78.5L336.2 76.9L336.3 75.4L336.5 74.0L336.7 72.7L336.9 71.5L337.1 70.4L337.3 69.4L337.5 68.6L337.6 67.9L337.8 67.3L338.0 66.8L338.2 66.5L338.4 66.2L338.6 66.1L338.7 66.0L338.9 66.0L339.1 66.0L339.3 66.0L339.5 66.0L339.7 66.0L339.9 66.0L340.0 65.9L340.2 65.8L340.4 65.6L340.6 65.3L340.8 64.8L341.0 64.3L341.2 63.7L341.3 62.9L341.5 62.0L341.7 61.0L341.9 59.9L342.1 58.7L342.3 57.5L342.5 56.1L342.6 54.7L342.8 53.3L343.0 51.9L343.2 50.5L343.4 49.1L343.6 47.7L343.8 46.4L343.9 45.2L344.1 44.1L344.3 43.2L344.5 42.3L344.7 41.6L344.9 41.1L345.1 40.7L345.2 40.5L345.4 40.4L345.6 40.5L345.8 40.8L346.0 41.2L346.2 41.7L346.3 42.3L346.5 43.0L346.7 43.8L346.9 44.6L347.1 45.5L347.3 46.3L347.5 47.2L347.6 48.0L347.8 48.8L348.0 49.5L348.2 50.1L348.4 50.6L348.6 51.1L348.8 51.4L348.9 51.6L349.1 51.7L349.3 51.8L349.5 51.5L349.7 51.2L349.9 50.8L350.1 50.3L350.2 49.8L350.4 49.2L350.6 48.7L350.8 48.1L351.0 47.6L351.2 47.2L351.4 46.8L351.5 46.4L351.7 46.2L351.9 46.1L352.1 46.2L352.3 46.6L352.5 47.0L352.7 47.6L352.8 48.3L353.0 49.2L353.2 50.2L353.4 51.4L353.6 52.7L353.8 54.0L353.9 55.5L354.1 57.0L354.3 58.6L354.5 60.2L354.7 61.9L354.9 63.5L355.1 65.1L355.2 66.6L355.4 68.1L355.6 69.4L355.8 70.7L356.0 71.9L356.2 72.9L356.4 73.9L356.5 74.7L356.7 75.3L356.9 75.8L357.1 76.3L357.3 76.5L357.5 76.7L357.7 76.8L357.8 76.9L358.0 76.8L358.2 76.8L358.4 76.7L358.6 76.6L358.8 76.5L359.0 76.5L359.1 76.5L359.3 76.6L359.5 76.8L359.7 77.1L359.9 77.5L360.1 78.0L360.3 78.6L360.4 79.3L360.6 80.1L360.8 81.1L361.0 82.1L361.2 83.3L361.4 84.5L361.5 85.8L361.7 87.1L361.9 88.4L362.1 89.7L362.3 91.0L362.5 92.3L362.7 93.5L362.8 94.7L363.0 95.7L363.2 96.6L363.4 97.4L363.6 98.1L363.8 98.6L364.0 99.0L364.1 99.2L364.3 99.3L364.5 99.1L364.7 98.8L364.9 98.4L365.1 97.8L365.3 97.2L365.4 96.4L365.6 95.6L365.8 94.7L366.0 93.7L366.2 92.8L366.4 91.8L366.6 90.9L366.7 90.0L366.9 89.2L367.1 88.4L367.3 87.7L367.5 87.1L367.7 86.7L367.9 86.3L368.0 86.0L368.2 85.8L368.4 85.8L368.6 85.8L368.8 86.1L369.0 86.4L369.1 86.8L369.3 87.2L369.5 87.7L369.7 88.1L369.9 88.6L370.1 89.0L370.3 89.2L370.4 89.3L370.6 89.3L370.8 89.2L371.0 89.0L371.2 88.7L371.4 88.2L371.6 87.6L371.7 86.8L371.9 85.9L372.1 84.9L372.3 83.7L372.5 82.4L372.7 80.9L372.9 79.4L373.0 77.8L373.2 76.2L373.4 74.5L373.6 72.8L373.8 71.1L374.0 69.4L374.2 67.8L374.3 66.2L374.5 64.7L374.7 63.3L374.9 61.9L375.1 60.8L375.3 59.7L375.5 58.8L375.6 58.0L375.8 57.3L376.0 56.8L376.2 56.4L376.4 56.0L376.6 55.8L376.7 55.7L376.9 55.6L377.1 55.6L377.3 55.7L377.5 55.7L377.7 55.7L377.9 55.7L378.0 55.6L378.2 55.5L378.4 55.3L378.6 55.1L378.8 54.7L379.0 54.2L379.2 53.6L379.3 52.9L379.5 52.1L379.7 51.1L379.9 50.1L380.1 48.9L380.3 47.7L380.5 46.5L380.6 45.1L380.8 43.8L381.0 42.4L381.2 41.0L381.4 39.7L381.6 38.4L381.8 37.2L381.9 36.1L382.1 35.0L382.3 34.1L382.5 33.4L382.7 32.8L382.9 32.3L383.1 32.0L383.2 31.8L383.4 31.8L383.6 32.1L383.8 32.6L384.0 33.2L384.2 33.9L384.3 34.7L384.5 35.6L384.7 36.6L384.9 37.6L385.1 38.6L385.3 39.7L385.5 40.7L385.6 41.7L385.8 42.7L386.0 43.6L386.2 44.4L386.4 45.2L386.6 45.8L386.8 46.3L386.9 46.7L387.1 47.1L387.3 47.3L387.5 47.4L387.7 47.4L387.9 47.3L388.1 47.2L388.2 47.0L388.4 46.6L388.6 46.2L388.8 45.8L389.0 45.4L389.2 45.1L389.4 44.8L389.5 44.6L389.7 44.5L389.9 44.6L390.1 44.7L390.3 45.0L390.5 45.5L390.7 46.0L390.8 46.7L391.0 47.6L391.2 48.6L391.4 49.7L391.6 51.0L391.8 52.3L392.0 53.7L392.1 55.2L392.3 56.8L392.5 58.3L392.7 59.9L392.9 61.5L393.1 63.0L393.2 64.5L393.4 65.9L393.6 67.2L393.8 68.5L394.0 69.6L394.2 70.5L394.4 71.4L394.5 72.1L394.7 72.7L394.9 73.2L395.1 73.5L395.3 73.7L395.5 73.8L395.7 73.8L395.8 73.7L396.0 73.6L396.2 73.4L396.4 73.3L396.6 73.2L396.8 73.2L397.0 73.1L397.1 73.1L397.3 73.2L397.5 73.3L397.7 73.5L397.9 73.9L398.1 74.3L398.3 74.9L398.4 75.6L398.6 76.4L398.8 77.3L399.0 78.3L399.2 79.3L399.4 80.5L399.6 81.7L399.7 82.9L399.9 84.2L400.1 85.5L400.3 86.7L400.5 87.9L400.7 89.1L400.8 90.2L401.0 91.1L401.2 92.0L401.4 92.7L401.6 93.3L401.8 93.8L402.0 94.1L402.1 94.1L402.3 93.8L402.5 93.3L402.7 92.7L402.9 91.9L403.1 91.0L403.3 90.0L403.4 88.9L403.6 87.7L403.8 86.4L404.0 85.1L404.2 83.8L404.4 82.5L404.6 81.3L404.7 80.0L404.9 78.8L405.1 77.7L405.3 76.7L405.5 75.8L405.7 74.9L405.9 74.2L406.0 73.6L406.2 73.1L406.4 72.7L406.6 72.4L406.8 72.6L407.0 72.8L407.2 73.1L407.3 73.4L407.5 73.8L407.7 74.1L407.9 74.5L408.1 74.8L408.3 75.0L408.4 75.2L408.6 75.3L408.8 75.3L409.0 75.2L409.2 74.9L409.4 74.5L409.6 74.0L409.7 73.3L409.9 72.5L410.1 71.5L410.3 70.4L410.5 69.2L410.7 67.9L410.9 66.5L411.0 65.0L411.2 63.5L411.4 61.8L411.6 60.2L411.6 88.6L411.4 90.2L411.2 91.9L411.0 93.5L410.9 95.0L410.7 96.5L410.5 97.8L410.3 99.1L410.1 100.2L409.9 101.2L409.7 102.1L409.6 102.8L409.4 103.4L409.2 103.8L409.0 104.1L408.8 104.3L408.6 104.3L408.4 104.3L408.3 104.1L408.1 103.9L407.9 103.7L407.7 103.4L407.5 103.1L407.3 102.7L407.2 102.5L407.0 102.2L406.8 102.0L406.6 101.9L406.4 102.0L406.2 102.1L406.0 102.4L405.9 102.8L405.7 103.3L405.5 103.9L405.3 104.6L405.1 105.3L404.9 106.2L404.7 107.2L404.6 108.2L404.4 109.2L404.2 110.3L404.0 111.3L403.8 112.4L403.6 113.4L403.4 114.4L403.3 115.2L403.1 116.0L402.9 116.7L402.7 117.2L402.5 117.6L402.3 117.9L402.1 118.0L402.0 117.8L401.8 117.4L401.6 116.9L401.4 116.2L401.2 115.4L401.0 114.4L400.8 113.4L400.7 112.2L400.5 111.0L400.3 109.7L400.1 108.3L399.9 107.0L399.7 105.6L399.6 104.3L399.4 103.0L399.2 101.7L399.0 100.6L398.8 99.5L398.6 98.5L398.4 97.6L398.3 96.8L398.1 96.2L397.9 95.7L397.7 95.2L397.5 94.9L397.3 94.7L397.1 94.5L397.0 94.4L396.8 94.4L396.6 94.4L396.4 94.4L396.2 94.4L396.0 94.6L395.8 94.7L395.7 94.8L395.5 94.9L395.3 94.8L395.1 94.6L394.9 94.3L394.7 93.9L394.5 93.4L394.4 92.7L394.2 91.9L394.0 90.9L393.8 89.8L393.6 88.6L393.4 87.4L393.2 86.0L393.1 84.5L392.9 83.0L392.7 81.5L392.5 79.9L392.3 78.4L392.1 76.9L392.0 75.4L391.8 74.0L391.6 72.7L391.4 71.5L391.2 70.4L391.0 69.5L390.8 68.6L390.7 68.0L390.5 67.4L390.3 67.0L390.1 66.8L389.9 66.6L389.7 66.6L389.5 66.8L389.4 67.0L389.2 67.3L389.0 67.6L388.8 68.0L388.6 68.5L388.4 68.9L388.2 69.3L388.1 69.5L387.9 69.5L387.7 69.4L387.5 69.3L387.3 69.0L387.1 68.7L386.9 68.2L386.8 67.6L386.6 67.0L386.4 66.2L386.2 65.3L386.0 64.4L385.8 63.3L385.6 62.2L385.5 61.1L385.3 59.9L385.1 58.7L384.9 57.5L384.7 56.4L384.5 55.3L384.3 54.2L384.2 53.3L384.0 52.4L383.8 51.7L383.6 51.1L383.4 50.6L383.2 50.6L383.1 50.8L382.9 51.1L382.7 51.5L382.5 52.2L382.3 52.9L382.1 53.8L381.9 54.8L381.8 55.9L381.6 57.1L381.4 58.4L381.2 59.7L381.0 61.1L380.8 62.5L380.6 63.8L380.5 65.1L380.3 66.4L380.1 67.6L379.9 68.7L379.7 69.8L379.5 70.7L379.3 71.5L379.2 72.2L379.0 72.8L378.8 73.3L378.6 73.6L378.4 73.9L378.2 74.1L378.0 74.2L377.9 74.2L377.7 74.2L377.5 74.2L377.3 74.2L377.1 74.1L376.9 74.1L376.7 74.2L376.6 74.3L376.4 74.4L376.2 74.6L376.0 74.9L375.8 75.3L375.6 75.9L375.5 76.6L375.3 77.4L375.1 78.3L374.9 79.4L374.7 80.6L374.5 81.9L374.3 83.3L374.2 84.8L374.0 86.3L373.8 87.9L373.6 89.5L373.4 91.1L373.2 92.6L373.0 94.2L372.9 95.7L372.7 97.1L372.5 98.4L372.3 99.6L372.1 100.6L371.9 101.6L371.7 102.4L371.6 103.0L371.4 103.5L371.2 103.9L371.0 104.1L370.8 104.2L370.6 104.2L370.4 104.0L370.3 103.8L370.1 103.5L369.9 103.2L369.7 102.8L369.5 102.4L369.3 102.0L369.1 101.6L369.0 101.2L368.8 100.9L368.6 100.7L368.4 100.7L368.2 100.8L368.0 101.0L367.9 101.3L367.7 101.7L367.5 102.2L367.3 102.9L367.1 103.6L366.9 104.4L366.7 105.2L366.6 106.2L366.4 107.1L366.2 108.1L366.0 109.1L365.8 110.1L365.6 111.0L365.4 111.9L365.3 112.7L365.1 113.4L364.9 114.0L364.7 114.4L364.5 114.7L364.3 114.8L364.1 114.7L364.0 114.4L363.8 113.9L363.6 113.3L363.4 112.5L363.2 111.6L363.0 110.6L362.8 109.5L362.7 108.3L362.5 106.9L362.3 105.6L362.1 104.2L361.9 102.7L361.7 101.3L361.5 99.9L361.4 98.5L361.2 97.2L361.0 96.0L360.8 94.9L360.6 93.8L360.4 92.9L360.3 92.0L360.1 91.3L359.9 90.7L359.7 90.3L359.5 89.9L359.3 89.6L359.1 89.4L359.0 89.3L358.8 89.2L358.6 89.2L358.4 89.2L358.2 89.2L358.0 89.2L357.8 89.2L357.7 89.0L357.5 88.9L357.3 88.6L357.1 88.2L356.9 87.8L356.7 87.2L356.5 86.4L356.4 85.6L356.2 84.6L356.0 83.4L355.8 82.2L355.6 80.8L355.4 79.4L355.2 77.8L355.1 76.2L354.9 74.6L354.7 72.9L354.5 71.2L354.3 69.5L354.1 67.8L353.9 66.2L353.8 64.7L353.6 63.2L353.4 61.9L353.2 60.7L353.0 59.6L352.8 58.6L352.7 57.8L352.5 57.1L352.3 56.6L352.1 56.2L351.9 56.0L351.7 56.0L351.5 56.2L351.4 56.4L351.2 56.7L351.0 57.0L350.8 57.5L350.6 57.9L350.4 58.4L350.2 58.8L350.1 59.2L349.9 59.6L349.7 59.9L349.5 60.1L349.3 60.3L349.1 60.2L348.9 60.0L348.8 59.8L348.6 59.4L348.4 58.9L348.2 58.3L348.0 57.6L347.8 56.9L347.6 56.1L347.5 55.2L347.3 54.3L347.1 53.4L346.9 52.5L346.7 51.6L346.5 50.8L346.3 50.0L346.2 49.3L346.0 48.8L345.8 48.3L345.6 48.0L345.4 47.8L345.2 47.8L345.1 47.9L344.9 48.3L344.7 48.7L344.5 49.3L344.3 50.1L344.1 50.9L343.9 51.9L343.8 53.0L343.6 54.2L343.4 55.5L343.2 56.8L343.0 58.1L342.8 59.5L342.6 60.8L342.5 62.1L342.3 63.4L342.1 64.6L341.9 65.7L341.7 66.7L341.5 67.6L341.3 68.3L341.2 69.0L341.0 69.6L340.8 70.0L340.6 70.3L340.4 70.6L340.2 70.7L340.0 70.7L339.9 70.7L339.7 70.7L339.5 70.6L339.3 70.5L339.1 70.4L338.9 70.3L338.7 70.4L338.6 70.5L338.4 70.7L338.2 71.0L338.0 71.4L337.8 71.9L337.6 72.5L337.5 73.3L337.3 74.2L337.1 75.2L336.9 76.3L336.7 77.6L336.5 79.0L336.3 80.4L336.2 82.0L336.0 83.6L335.8 85.2L335.6 86.9L335.4 88.5L335.2 90.1L335.0 91.7L334.9 93.3L334.7 94.7L334.5 96.0L334.3 97.3L334.1 98.4L333.9 99.4L333.7 100.2L333.6 100.9L333.4 101.4L333.2 101.8L333.0 102.0L332.8 102.2L332.6 102.1L332.4 102.0L332.3 101.8L332.1 101.5L331.9 101.2L331.7 100.8L331.5 100.4L331.3 100.0L331.1 99.6L331.0 99.2L330.8 98.9L330.6 98.7L330.4 98.6L330.2 98.5L330.0 98.6L329.8 98.7L329.7 99.0L329.5 99.4L329.3 99.8L329.1 100.4L328.9 101.0L328.7 101.7L328.6 102.5L328.4 103.3L328.2 104.2L328.0 105.0L327.8 105.8L327.6 106.6L327.4 107.3L327.3 107.9L327.1 108.4L326.9 108.8L326.7 109.0L326.5 109.2L326.3 109.1L326.1 108.9L326.0 108.6L325.8 108.1L325.6 107.5L325.4 106.7L325.2 105.8L325.0 104.7L324.8 103.6L324.7 102.3L324.5 101.0L324.3 99.6L324.1 98.1L323.9 96.7L323.7 95.3L323.5 93.8L323.4 92.5L323.2 91.1L323.0 89.9L322.8 88.7L322.6 87.7L322.4 86.7L322.2 85.9L322.1 85.2L321.9 84.6L321.7 84.2L321.5 83.8L321.3 83.5L321.1 83.4L321.0 83.3L320.8 83.2L320.6 83.2L320.4 83.2L320.2 83.3L320.0 83.3L319.8 83.2L319.7 83.2L319.5 83.0L319.3 82.8L319.1 82.5L318.9 82.1L318.7 81.6L318.5 80.9L318.4 80.1L318.2 79.2L318.0 78.2L317.8 77.0L317.6 75.7L317.4 74.4L317.2 72.9L317.1 71.4L316.9 69.8L316.7 68.3L316.5 66.7L316.3 65.1L316.1 63.5L315.9 62.0L315.8 60.6L315.6 59.3L315.4 58.0L315.2 56.9L315.0 55.9L314.8 55.1L314.6 54.4L314.5 53.9L314.3 53.5L314.1 53.2L313.9 53.2L313.7 53.2L313.5 53.4L313.4 53.6L313.2 54.0L313.0 54.4L312.8 54.9L312.6 55.4L312.4 55.9L312.2 56.4L312.1 56.9L311.9 57.3L311.7 57.7L311.5 58.0L311.3 58.2L311.1 58.3L310.9 58.3L310.8 58.2L310.6 58.0L310.4 57.7L310.2 57.2L310.0 56.7L309.8 56.1L309.6 55.4L309.5 54.7L309.3 54.0L309.1 53.2L308.9 52.5L308.7 51.7L308.5 51.1L308.3 50.5L308.2 49.9L308.0 49.5L307.8 49.2L307.6 49.0L307.4 49.0L307.2 49.1L307.0 49.4L306.9 49.9L306.7 50.5L306.5 51.3L306.3 52.2L306.1 53.2L305.9 54.4L305.8 55.7L305.6 57.0L305.4 58.4L305.2 59.9L305.0 61.4L304.8 62.9L304.6 64.4L304.5 65.8L304.3 67.2L304.1 68.5L303.9 69.8L303.7 70.9L303.5 72.0L303.3 72.9L303.2 73.7L303.0 74.4L302.8 74.9L302.6 75.4L302.4 75.7L302.2 76.0L302.0 76.2L301.9 76.2L301.7 76.3L301.5 76.3L301.3 76.3L301.1 76.3L300.9 76.3L300.7 76.4L300.6 76.5L300.4 76.7L300.2 77.0L300.0 77.4L299.8 77.9L299.6 78.5L299.4 79.3L299.3 80.2L299.1 81.2L298.9 82.3L298.7 83.8L298.5 85.4L298.3 87.1L298.2 88.9L298.0 90.7L297.8 92.6L297.6 94.5L297.4 96.4L297.2 98.3L297.0 100.1L296.9 101.8L296.7 103.5L296.5 105.1L296.3 106.5L296.1 107.9L295.9 109.0L295.7 110.1L295.6 111.0L295.4 111.7L295.2 112.1L295.0 112.3L294.8 112.4L294.6 112.3L294.4 112.2L294.3 111.9L294.1 111.5L293.9 111.1L293.7 110.7L293.5 110.2L293.3 109.7L293.1 109.2L293.0 108.8L292.8 108.4L292.6 108.1L292.4 107.9L292.2 107.8L292.0 107.7L291.8 107.7L291.7 107.9L291.5 108.1L291.3 108.5L291.1 108.9L290.9 109.5L290.7 110.1L290.6 110.7L290.4 111.4L290.2 112.2L290.0 112.9L289.8 113.6L289.6 114.3L289.4 114.9L289.3 115.5L289.1 115.9L288.9 116.3L288.7 116.4L288.5 116.4L288.3 116.2L288.1 115.8L288.0 115.3L287.8 114.7L287.6 113.9L287.4 112.9L287.2 111.8L287.0 110.6L286.8 109.3L286.7 107.9L286.5 106.4L286.3 104.9L286.1 103.3L285.9 101.7L285.7 100.1L285.5 98.6L285.4 97.0L285.2 95.6L285.0 94.2L284.8 92.9L284.6 91.7L284.4 90.7L284.2 89.9L284.1 89.5L283.9 89.2L283.7 89.0L283.5 89.0L283.3 89.0L283.1 89.1L282.9 89.3L282.8 89.6L282.6 89.9L282.4 90.2L282.2 90.6L282.0 90.9L281.8 91.1L281.7 91.3L281.5 91.4L281.3 91.4L281.1 91.3L280.9 91.1L280.7 90.7L280.5 90.3L280.4 89.7L280.2 89.0L280.0 88.2L279.8 87.3L279.6 86.3L279.4 85.1L279.2 83.9L279.1 82.7L278.9 81.4L278.7 80.0L278.5 78.7L278.3 77.4L278.1 76.1L277.9 74.9L277.8 73.7L277.6 72.7L277.4 71.7L277.2 70.9L277.0 70.2L276.8 69.7L276.6 69.3L276.5 69.0L276.3 68.9L276.1 69.0L275.9 69.2L275.7 69.4L275.5 69.5L275.3 69.7L275.2 70.1L275.0 70.4L274.8 70.9L274.6 71.3L274.4 71.8L274.2 72.3L274.1 72.7L273.9 73.1L273.7 73.5L273.5 73.8L273.3 73.9L273.1 74.0L272.9 74.0L272.8 73.9L272.6 73.7L272.4 73.4L272.2 73.0L272.0 72.8L271.8 72.6L271.6 72.3L271.5 71.9L271.3 71.6L271.1 71.2L270.9 70.8L270.7 70.4L270.5 70.1L270.3 69.8L270.2 69.7L270.0 69.6L269.8 69.6L269.6 69.8L269.4 70.1L269.2 70.5L269.0 70.8L268.9 71.1L268.7 71.7L268.5 72.3L268.3 73.2L268.1 74.1L267.9 75.2L267.7 76.3L267.6 77.6L267.4 78.9L267.2 80.2L267.0 81.6L266.8 83.0L266.6 84.4L266.5 85.7L266.3 87.0L266.1 88.7L265.9 90.3L265.7 91.8L265.5 93.2L265.3 94.4L265.2 95.6L265.0 96.6L264.8 97.5L264.6 98.3L264.4 98.9L264.2 99.5L264.0 100.0L263.9 100.4L263.7 100.7L263.5 101.1L263.3 101.4Z" fill="#6fc4c4" stroke="none"/>
<path d="M263.3 74.7L263.5 74.8L263.7 74.8L263.9 74.8L264.0 74.7L264.2 74.5L264.4 74.3L264.6 74.0L264.8 73.5L265.0 72.9L265.2 72.3L265.3 71.4L265.5 70.5L265.7 69.5L265.9 68.3L266.1 67.0L266.3 65.7L266.5 64.3L266.6 62.8L266.8 61.3L267.0 59.8L267.2 58.3L267.4 56.8L267.6 55.3L267.7 54.0L267.9 52.7L268.1 51.5L268.3 50.4L268.5 49.4L268.7 48.6L268.9 48.0L269.0 47.5L269.2 47.1L269.4 46.9L269.6 46.8L269.8 46.9L270.0 47.1L270.2 47.4L270.3 47.9L270.5 48.4L270.7 48.9L270.9 49.5L271.1 50.2L271.3 50.8L271.5 51.4L271.6 52.0L271.8 52.6L272.0 53.0L272.2 53.4L272.4 53.7L272.6 54.0L272.8 54.1L272.9 54.1L273.1 54.0L273.3 53.8L273.5 53.5L273.7 53.1L273.9 52.6L274.1 52.1L274.2 51.5L274.4 50.9L274.6 50.4L274.8 49.8L275.0 49.2L275.2 48.7L275.3 48.3L275.5 48.0L275.7 47.8L275.9 47.7L276.1 47.7L276.3 47.9L276.5 48.2L276.6 48.7L276.8 49.3L277.0 50.1L277.2 51.0L277.4 52.0L277.6 53.2L277.8 54.5L277.9 55.8L278.1 57.3L278.3 58.8L278.5 60.3L278.7 61.9L278.9 63.4L279.1 64.9L279.2 66.4L279.4 67.8L279.6 69.2L279.8 70.4L280.0 71.5L280.2 72.5L280.4 73.4L280.5 74.2L280.7 74.8L280.9 75.3L281.1 75.7L281.3 76.0L281.5 76.2L281.7 76.4L281.8 76.4L282.0 76.4L282.2 76.4L282.4 76.3L282.6 76.3L282.8 76.3L282.9 76.3L283.1 76.4L283.3 76.6L283.5 76.9L283.7 77.3L283.9 77.8L284.1 78.4L284.2 79.1L284.4 80.0L284.6 80.9L284.8 82.0L285.0 83.2L285.2 84.5L285.4 85.8L285.5 87.2L285.7 88.7L285.9 90.2L286.1 91.7L286.3 93.2L286.5 94.6L286.7 96.0L286.8 97.3L287.0 98.5L287.2 99.6L287.4 100.6L287.6 101.4L287.8 102.1L288.0 102.7L288.1 103.0L288.3 103.3L288.5 103.4L288.7 103.3L288.9 103.1L289.1 102.8L289.3 102.4L289.4 101.9L289.6 101.3L289.8 100.7L290.0 100.0L290.2 99.3L290.4 98.6L290.6 98.0L290.7 97.4L290.9 96.8L291.1 96.3L291.3 95.9L291.5 95.6L291.7 95.4L291.8 95.3L292.0 95.3L292.2 95.4L292.4 95.6L292.6 95.9L292.8 96.2L293.0 96.7L293.1 97.2L293.3 97.7L293.5 98.2L293.7 98.8L293.9 99.3L294.1 99.8L294.3 100.2L294.4 100.5L294.6 100.7L294.8 100.9L295.0 100.9L295.2 100.7L295.4 100.4L295.6 100.0L295.7 99.4L295.9 98.7L296.1 97.8L296.3 96.8L296.5 95.7L296.7 94.4L296.9 93.0L297.0 91.6L297.2 90.1L297.4 88.5L297.6 87.0L297.8 85.4L298.0 83.8L298.2 82.3L298.3 80.9L298.5 79.5L298.7 78.2L298.9 77.0L299.1 75.9L299.3 74.9L299.4 74.1L299.6 73.4L299.8 72.8L300.0 72.3L300.2 71.9L300.4 71.7L300.6 71.5L300.7 71.4L300.9 71.4L301.1 71.4L301.3 71.5L301.5 71.5L301.7 71.5L301.9 71.5L302.0 71.5L302.2 71.3L302.4 71.1L302.6 70.8L302.8 70.4L303.0 69.9L303.2 69.2L303.3 68.5L303.5 67.6L303.7 66.6L303.9 65.5L304.1 64.3L304.3 63.0L304.5 61.6L304.6 60.2L304.8 58.8L305.0 57.3L305.2 55.9L305.4 54.4L305.6 53.1L305.8 51.8L305.9 50.5L306.1 49.4L306.3 48.4L306.5 47.5L306.7 46.8L306.9 46.2L307.0 45.8L307.2 45.5L307.4 45.4L307.6 45.4L307.8 45.6L308.0 45.9L308.2 46.3L308.3 46.8L308.5 47.4L308.7 48.1L308.9 48.8L309.1 49.5L309.3 50.2L309.5 51.0L309.6 51.7L309.8 52.3L310.0 52.9L310.2 53.4L310.4 53.8L310.6 54.1L310.8 54.3L310.9 54.4L311.1 54.4L311.3 54.3L311.5 54.1L311.7 53.9L311.9 53.5L312.1 53.1L312.2 52.6L312.4 52.1L312.6 51.6L312.8 51.2L313.0 50.7L313.2 50.3L313.4 50.0L313.5 49.7L313.7 49.6L313.9 49.6L314.1 49.7L314.3 49.9L314.5 50.3L314.6 50.9L314.8 51.5L315.0 52.4L315.2 53.4L315.4 54.5L315.6 55.7L315.8 57.0L315.9 58.5L316.1 60.0L316.3 61.5L316.5 63.1L316.7 64.7L316.9 66.3L317.1 67.9L317.2 69.4L317.4 70.8L317.6 72.2L317.8 73.5L318.0 74.6L318.2 75.7L318.4 76.6L318.5 77.4L318.7 78.0L318.9 78.6L319.1 79.0L319.3 79.3L319.5 79.5L319.7 79.6L319.8 79.7L320.0 79.7L320.2 79.6L320.4 79.6L320.6 79.5L320.8 79.5L321.0 79.5L321.1 79.6L321.3 79.7L321.5 80.0L321.7 80.3L321.9 80.8L322.1 81.3L322.2 82.0L322.4 82.8L322.6 83.7L322.8 84.8L323.0 85.9L323.2 87.1L323.4 88.4L323.5 89.7L323.7 91.1L323.9 92.6L324.1 94.0L324.3 95.4L324.5 96.8L324.7 98.1L324.8 99.3L325.0 100.4L325.2 101.5L325.4 102.3L325.6 103.1L325.8 103.7L326.0 104.2L326.1 104.5L326.3 104.7L326.5 104.7L326.7 104.5L326.9 104.2L327.1 103.8L327.3 103.3L327.4 102.7L327.6 102.0L327.8 101.3L328.0 100.5L328.2 99.7L328.4 99.0L328.6 98.2L328.7 97.5L328.9 96.8L329.1 96.2L329.3 95.7L329.5 95.3L329.7 95.0L329.8 94.7L330.0 94.6L330.2 94.6L330.4 94.7L330.6 94.9L330.8 95.2L331.0 95.5L331.1 95.9L331.3 96.4L331.5 96.8L331.7 97.3L331.9 97.7L332.1 98.1L332.3 98.4L332.4 98.7L332.6 98.8L332.8 98.9L333.0 98.8L333.2 98.6L333.4 98.2L333.6 97.7L333.7 97.1L333.9 96.3L334.1 95.3L334.3 94.3L334.5 93.1L334.7 91.7L334.9 90.3L335.0 88.8L335.2 87.3L335.4 85.7L335.6 84.1L335.8 82.5L336.0 80.9L336.2 79.3L336.3 77.8L336.5 76.4L336.7 75.1L336.9 73.8L337.1 72.7L337.3 71.7L337.5 70.9L337.6 70.1L337.8 69.5L338.0 69.0L338.2 68.7L338.4 68.4L338.6 68.3L338.7 68.2L338.9 68.2L339.1 68.2L339.3 68.3L339.5 68.3L339.7 68.4L339.9 68.4L340.0 68.4L340.2 68.3L340.4 68.1L340.6 67.8L340.8 67.5L341.0 67.0L341.2 66.4L341.3 65.7L341.5 64.9L341.7 63.9L341.9 62.9L342.1 61.7L342.3 60.5L342.5 59.2L342.6 57.9L342.8 56.5L343.0 55.1L343.2 53.7L343.4 52.4L343.6 51.1L343.8 49.9L343.9 48.7L344.1 47.7L344.3 46.8L344.5 46.0L344.7 45.3L344.9 44.8L345.1 44.5L345.2 44.3L345.4 44.3L345.6 44.4L345.8 44.6L346.0 45.0L346.2 45.5L346.3 46.1L346.5 46.8L346.7 47.6L346.9 48.4L347.1 49.2L347.3 50.1L347.5 50.9L347.6 51.7L347.8 52.5L348.0 53.1L348.2 53.7L348.4 54.3L348.6 54.7L348.8 55.0L348.9 55.2L349.1 55.3L349.3 55.3L349.5 55.2L349.7 55.0L349.9 54.8L350.1 54.4L350.2 54.1L350.4 53.7L350.6 53.3L350.8 52.9L351.0 52.5L351.2 52.2L351.4 51.9L351.5 51.8L351.7 51.7L351.9 51.8L352.1 51.9L352.3 52.2L352.5 52.7L352.7 53.3L352.8 54.1L353.0 55.0L353.2 56.0L353.4 57.1L353.6 58.4L353.8 59.8L353.9 61.3L354.1 62.8L354.3 64.4L354.5 66.1L354.7 67.7L354.9 69.3L355.1 70.9L355.2 72.5L355.4 73.9L355.6 75.3L355.8 76.6L356.0 77.8L356.2 78.9L356.4 79.8L356.5 80.6L356.7 81.3L356.9 81.8L357.1 82.2L357.3 82.5L357.5 82.7L357.7 82.8L357.8 82.9L358.0 82.9L358.2 82.8L358.4 82.7L358.6 82.7L358.8 82.6L359.0 82.6L359.1 82.6L359.3 82.7L359.5 82.9L359.7 83.2L359.9 83.6L360.1 84.1L360.3 84.7L360.4 85.5L360.6 86.3L360.8 87.3L361.0 88.3L361.2 89.5L361.4 90.7L361.5 92.0L361.7 93.3L361.9 94.6L362.1 96.0L362.3 97.3L362.5 98.6L362.7 99.8L362.8 101.0L363.0 102.0L363.2 103.0L363.4 103.8L363.6 104.5L363.8 105.0L364.0 105.4L364.1 105.6L364.3 105.6L364.5 105.6L364.7 105.3L364.9 104.9L365.1 104.5L365.3 103.8L365.4 103.1L365.6 102.4L365.8 101.5L366.0 100.7L366.2 99.8L366.4 98.9L366.6 98.0L366.7 97.2L366.9 96.4L367.1 95.7L367.3 95.1L367.5 94.6L367.7 94.2L367.9 93.8L368.0 93.6L368.2 93.5L368.4 93.5L368.6 93.6L368.8 93.8L369.0 94.0L369.1 94.3L369.3 94.7L369.5 95.1L369.7 95.4L369.9 95.8L370.1 96.1L370.3 96.3L370.4 96.5L370.6 96.6L370.8 96.6L371.0 96.4L371.2 96.1L371.4 95.7L371.6 95.2L371.7 94.5L371.9 93.6L372.1 92.6L372.3 91.5L372.5 90.3L372.7 88.9L372.9 87.4L373.0 85.9L373.2 84.3L373.4 82.7L373.6 81.0L373.8 79.4L374.0 77.8L374.2 76.2L374.3 74.7L374.5 73.2L374.7 71.9L374.9 70.6L375.1 69.5L375.3 68.5L375.5 67.6L375.6 66.9L375.8 66.3L376.0 65.8L376.2 65.5L376.4 65.2L376.6 65.1L376.7 65.0L376.9 65.0L377.1 65.1L377.3 65.1L377.5 65.2L377.7 65.3L377.9 65.4L378.0 65.4L378.2 65.4L378.4 65.2L378.6 65.0L378.8 64.7L379.0 64.3L379.2 63.8L379.3 63.1L379.5 62.4L379.7 61.5L379.9 60.5L380.1 59.5L380.3 58.3L380.5 57.1L380.6 55.8L380.8 54.5L381.0 53.2L381.2 51.9L381.4 50.7L381.6 49.5L381.8 48.3L381.9 47.2L382.1 46.3L382.3 45.5L382.5 44.8L382.7 44.2L382.9 43.8L383.1 43.5L383.2 43.5L383.4 43.5L383.6 43.7L383.8 44.1L384.0 44.6L384.2 45.2L384.3 45.9L384.5 46.7L384.7 47.5L384.9 48.4L385.1 49.4L385.3 50.3L385.5 51.2L385.6 52.1L385.8 53.0L386.0 53.8L386.2 54.5L386.4 55.1L386.6 55.6L386.8 56.0L386.9 56.4L387.1 56.6L387.3 56.7L387.5 56.7L387.7 56.6L387.9 56.4L388.1 56.2L388.2 55.9L388.4 55.6L388.6 55.2L388.8 54.9L389.0 54.6L389.2 54.4L389.4 54.2L389.5 54.1L389.7 54.1L389.9 54.2L390.1 54.5L390.3 54.8L390.5 55.4L390.7 56.0L390.8 56.8L391.0 57.7L391.2 58.8L391.4 60.0L391.6 61.3L391.8 62.8L392.0 64.3L392.1 65.9L392.3 67.5L392.5 69.1L392.7 70.8L392.9 72.4L393.1 74.1L393.2 75.6L393.4 77.1L393.6 78.5L393.8 79.8L394.0 81.0L394.2 82.1L394.4 83.0L394.5 83.8L394.7 84.5L394.9 85.0L395.1 85.4L395.3 85.7L395.5 85.9L395.7 86.0L395.8 86.0L396.0 86.0L396.2 85.9L396.4 85.8L396.6 85.6L396.8 85.5L397.0 85.5L397.1 85.5L397.3 85.5L397.5 85.7L397.7 85.9L397.9 86.2L398.1 86.6L398.3 87.2L398.4 87.9L398.6 88.6L398.8 89.5L399.0 90.5L399.2 91.6L399.4 92.7L399.6 93.9L399.7 95.2L399.9 96.4L400.1 97.7L400.3 98.9L400.5 100.1L400.7 101.3L400.8 102.3L401.0 103.3L401.2 104.1L401.4 104.8L401.6 105.4L401.8 105.9L402.0 106.2L402.1 106.3L402.3 106.2L402.5 106.1L402.7 105.7L402.9 105.3L403.1 104.7L403.3 104.0L403.4 103.2L403.6 102.3L403.8 101.4L404.0 100.4L404.2 99.4L404.4 98.4L404.6 97.4L404.7 96.5L404.9 95.6L405.1 94.8L405.3 94.1L405.5 93.5L405.7 93.0L405.9 92.6L406.0 92.3L406.2 92.1L406.4 92.0L406.6 92.0L406.8 92.0L407.0 92.2L407.2 92.4L407.3 92.7L407.5 93.0L407.7 93.2L407.9 93.5L408.1 93.8L408.3 93.9L408.4 94.0L408.6 94.1L408.8 94.0L409.0 93.8L409.2 93.5L409.4 93.0L409.6 92.4L409.7 91.6L409.9 90.7L410.1 89.7L410.3 88.6L410.5 87.3L410.7 85.9L410.9 84.4L411.0 82.9L411.2 81.2L411.4 79.6L411.6 77.9" fill="none" stroke="#d8405e" stroke-width="1.2"/>
<path d="M263.3 74.7L263.5 74.9L263.7 75.0L263.9 75.2L264.0 75.2L264.2 75.2L264.4 75.1L264.6 74.9L264.8 74.6L265.0 74.1L265.2 73.6L265.3 72.9L265.5 72.1L265.7 71.2L265.9 70.2L266.1 69.0L266.3 67.8L266.5 66.4L266.6 65.0L266.8 63.5L267.0 62.0L267.2 60.6L267.4 59.1L267.6 57.7L267.7 56.3L267.9 55.1L268.1 53.9L268.3 52.9L268.5 52.0L268.7 51.2L268.9 50.6L269.0 50.1L269.2 49.8L269.4 49.6L269.6 49.6L269.8 49.7L270.0 49.9L270.2 50.3L270.3 50.7L270.5 51.3L270.7 51.9L270.9 52.5L271.1 53.2L271.3 53.8L271.5 54.5L271.6 55.1L271.8 55.7L272.0 56.2L272.2 56.6L272.4 56.9L272.6 57.0L272.8 57.1L272.9 57.0L273.1 56.9L273.3 56.6L273.5 56.3L273.7 55.8L273.9 55.3L274.1 54.7L274.2 54.1L274.4 53.5L274.6 52.8L274.8 52.2L275.0 51.6L275.2 51.1L275.3 50.6L275.5 50.2L275.7 49.9L275.9 49.8L276.1 49.7L276.3 49.9L276.5 50.1L276.6 50.5L276.8 51.1L277.0 51.8L277.2 52.7L277.4 53.7L277.6 54.8L277.8 56.0L277.9 57.3L278.1 58.7L278.3 60.2L278.5 61.7L278.7 63.2L278.9 64.7L279.1 66.1L279.2 67.6L279.4 68.9L279.6 70.2L279.8 71.4L280.0 72.5L280.2 73.5L280.4 74.3L280.5 75.0L280.7 75.6L280.9 76.1L281.1 76.4L281.3 76.7L281.5 76.9L281.7 76.9L281.8 76.9L282.0 76.9L282.2 76.8L282.4 76.7L282.6 76.7L282.8 76.6L282.9 76.6L283.1 76.7L283.3 76.8L283.5 77.0L283.7 77.4L283.9 77.8L284.1 78.4L284.2 79.1L284.4 80.0L284.6 80.9L284.8 82.0L285.0 83.2L285.2 84.5L285.4 85.8L285.5 87.2L285.7 88.7L285.9 90.2L286.1 91.7L286.3 93.2L286.5 94.6L286.7 96.0L286.8 97.3L287.0 98.5L287.2 99.6L287.4 100.6L287.6 101.4L287.8 102.1L288.0 102.7L288.1 103.0L288.3 103.3L288.5 103.4L288.7 103.3L288.9 103.1L289.1 102.8L289.3 102.4L289.4 101.9L289.6 101.3L289.8 100.7L290.0 100.0L290.2 99.3L290.4 98.6L290.6 98.0L290.7 97.4L290.9 96.8L291.1 96.3L291.3 95.9L291.5 95.6L291.7 95.4L291.8 95.3L292.0 95.3L292.2 95.4L292.4 95.6L292.6 95.9L292.8 96.2L293.0 96.7L293.1 97.2L293.3 97.7L293.5 98.2L293.7 98.8L293.9 99.3L294.1 99.8L294.3 100.2L294.4 100.5L294.6 100.7L294.8 100.9L295.0 100.9L295.2 100.7L295.4 100.4L295.6 100.0L295.7 99.4L295.9 98.7L296.1 97.8L296.3 96.8L296.5 95.7L296.7 94.4L296.9 93.0L297.0 91.6L297.2 90.1L297.4 88.5L297.6 87.0L297.8 85.4L298.0 83.8L298.2 82.3L298.3 80.9L298.5 79.5L298.7 78.2L298.9 77.0L299.1 75.9L299.3 74.9L299.4 74.1L299.6 73.4L299.8 72.8L300.0 72.3L300.2 71.9L300.4 71.7L300.6 71.5L300.7 71.4L300.9 71.4L301.1 71.4L301.3 71.5L301.5 71.5L301.7 71.5L301.9 71.5L302.0 71.5L302.2 71.3L302.4 71.1L302.6 70.8L302.8 70.4L303.0 69.9L303.2 69.2L303.3 68.5L303.5 67.6L303.7 66.6L303.9 65.5L304.1 64.3L304.3 63.0L304.5 61.6L304.6 60.2L304.8 58.8L305.0 57.3L305.2 55.9L305.4 54.4L305.6 53.1L305.8 51.8L305.9 50.5L306.1 49.4L306.3 48.4L306.5 47.5L306.7 46.8L306.9 46.2L307.0 45.8L307.2 45.5L307.4 45.4L307.6 45.4L307.8 45.6L308.0 45.9L308.2 46.3L308.3 46.8L308.5 47.4L308.7 48.1L308.9 48.8L309.1 49.5L309.3 50.2L309.5 51.0L309.6 51.7L309.8 52.3L310.0 52.9L310.2 53.4L310.4 53.8L310.6 54.1L310.8 54.3L310.9 54.4L311.1 54.4L311.3 54.3L311.5 54.1L311.7 53.9L311.9 53.5L312.1 53.1L312.2 52.6L312.4 52.1L312.6 51.6L312.8 51.2L313.0 50.7L313.2 50.3L313.4 50.0L313.5 49.7L313.7 49.6L313.9 49.6L314.1 49.7L314.3 49.9L314.5 50.3L314.6 50.9L314.8 51.5L315.0 52.4L315.2 53.4L315.4 54.5L315.6 55.7L315.8 57.0L315.9 58.5L316.1 60.0L316.3 61.5L316.5 63.1L316.7 64.7L316.9 66.3L317.1 67.9L317.2 69.4L317.4 70.8L317.6 72.2L317.8 73.5L318.0 74.6L318.2 75.7L318.4 76.6L318.5 77.4L318.7 78.0L318.9 78.6L319.1 79.0L319.3 79.3L319.5 79.5L319.7 79.6L319.8 79.7L320.0 79.7L320.2 79.6L320.4 79.6L320.6 79.5L320.8 79.5L321.0 79.5L321.1 79.6L321.3 79.7L321.5 80.0L321.7 80.3L321.9 80.8L322.1 81.3L322.2 82.0L322.4 82.8L322.6 83.7L322.8 84.8L323.0 85.9L323.2 87.1L323.4 88.4L323.5 89.7L323.7 91.1L323.9 92.6L324.1 94.0L324.3 95.4L324.5 96.8L324.7 98.1L324.8 99.3L325.0 100.4L325.2 101.5L325.4 102.3L325.6 103.1L325.8 103.7L326.0 104.2L326.1 104.5L326.3 104.7L326.5 104.7L326.7 104.5L326.9 104.2L327.1 103.8L327.3 103.3L327.4 102.7L327.6 102.0L327.8 101.3L328.0 100.5L328.2 99.7L328.4 99.0L328.6 98.2L328.7 97.5L328.9 96.8L329.1 96.2L329.3 95.7L329.5 95.3L329.7 95.0L329.8 94.7L330.0 94.6L330.2 94.6L330.4 94.7L330.6 94.9L330.8 95.2L331.0 95.5L331.1 95.9L331.3 96.4L331.5 96.8L331.7 97.3L331.9 97.7L332.1 98.1L332.3 98.4L332.4 98.7L332.6 98.8L332.8 98.9L333.0 98.8L333.2 98.6L333.4 98.2L333.6 97.7L333.7 97.1L333.9 96.3L334.1 95.3L334.3 94.3L334.5 93.1L334.7 91.7L334.9 90.3L335.0 88.8L335.2 87.3L335.4 85.7L335.6 84.1L335.8 82.5L336.0 80.9L336.2 79.3L336.3 77.8L336.5 76.4L336.7 75.1L336.9 73.8L337.1 72.7L337.3 71.7L337.5 70.9L337.6 70.1L337.8 69.5L338.0 69.0L338.2 68.7L338.4 68.4L338.6 68.3L338.7 68.2L338.9 68.2L339.1 68.2L339.3 68.3L339.5 68.3L339.7 68.4L339.9 68.4L340.0 68.4L340.2 68.3L340.4 68.1L340.6 67.8L340.8 67.5L341.0 67.0L341.2 66.4L341.3 65.7L341.5 64.9L341.7 63.9L341.9 62.9L342.1 61.7L342.3 60.5L342.5 59.2L342.6 57.9L342.8 56.5L343.0 55.1L343.2 53.7L343.4 52.4L343.6 51.1L343.8 49.9L343.9 48.7L344.1 47.7L344.3 46.8L344.5 46.0L344.7 45.3L344.9 44.8L345.1 44.5L345.2 44.3L345.4 44.3L345.6 44.4L345.8 44.6L346.0 45.0L346.2 45.5L346.3 46.1L346.5 46.8L346.7 47.6L346.9 48.4L347.1 49.2L347.3 50.1L347.5 50.9L347.6 51.7L347.8 52.5L348.0 53.1L348.2 53.7L348.4 54.3L348.6 54.7L348.8 55.0L348.9 55.2L349.1 55.3L349.3 55.3L349.5 55.2L349.7 55.0L349.9 54.8L350.1 54.4L350.2 54.1L350.4 53.7L350.6 53.3L350.8 52.9L351.0 52.5L351.2 52.2L351.4 51.9L351.5 51.8L351.7 51.7L351.9 51.8L352.1 51.9L352.3 52.2L352.5 52.7L352.7 53.3L352.8 54.1L353.0 55.0L353.2 56.0L353.4 57.1L353.6 58.4L353.8 59.8L353.9 61.3L354.1 62.8L354.3 64.4L354.5 66.1L354.7 67.7L354.9 69.3L355.1 70.9L355.2 72.5L355.4 73.9L355.6 75.3L355.8 76.6L356.0 77.8L356.2 78.9L356.4 79.8L356.5 80.6L356.7 81.3L356.9 81.8L357.1 82.2L357.3 82.5L357.5 82.7L357.7 82.8L357.8 82.9L358.0 82.9L358.2 82.8L358.4 82.7L358.6 82.7L358.8 82.6L359.0 82.6L359.1 82.6L359.3 82.7L359.5 82.9L359.7 83.2L359.9 83.6L360.1 84.1L360.3 84.7L360.4 85.5L360.6 86.3L360.8 87.3L361.0 88.3L361.2 89.5L361.4 90.7L361.5 92.0L361.7 93.3L361.9 94.6L362.1 96.0L362.3 97.3L362.5 98.6L362.7 99.8L362.8 101.0L363.0 102.0L363.2 103.0L363.4 103.8L363.6 104.5L363.8 105.0L364.0 105.4L364.1 105.6L364.3 105.6L364.5 105.6L364.7 105.3L364.9 104.9L365.1 104.5L365.3 103.8L365.4 103.1L365.6 102.4L365.8 101.5L366.0 100.7L366.2 99.8L366.4 98.9L366.6 98.0L366.7 97.2L366.9 96.4L367.1 95.7L367.3 95.1L367.5 94.6L367.7 94.2L367.9 93.8L368.0 93.6L368.2 93.5L368.4 93.5L368.6 93.6L368.8 93.8L369.0 94.0L369.1 94.3L369.3 94.7L369.5 95.1L369.7 95.4L369.9 95.8L370.1 96.1L370.3 96.3L370.4 96.5L370.6 96.6L370.8 96.6L371.0 96.4L371.2 96.1L371.4 95.7L371.6 95.2L371.7 94.5L371.9 93.6L372.1 92.6L372.3 91.5L372.5 90.3L372.7 88.9L372.9 87.4L373.0 85.9L373.2 84.3L373.4 82.7L373.6 81.0L373.8 79.4L374.0 77.8L374.2 76.2L374.3 74.7L374.5 73.2L374.7 71.9L374.9 70.6L375.1 69.5L375.3 68.5L375.5 67.6L375.6 66.9L375.8 66.3L376.0 65.8L376.2 65.5L376.4 65.2L376.6 65.1L376.7 65.0L376.9 65.0L377.1 65.1L377.3 65.1L377.5 65.2L377.7 65.3L377.9 65.4L378.0 65.4L378.2 65.4L378.4 65.2L378.6 65.0L378.8 64.7L379.0 64.3L379.2 63.8L379.3 63.1L379.5 62.4L379.7 61.5L379.9 60.5L380.1 59.5L380.3 58.3L380.5 57.1L380.6 55.8L380.8 54.5L381.0 53.2L381.2 51.9L381.4 50.7L381.6 49.5L381.8 48.3L381.9 47.2L382.1 46.3L382.3 45.5L382.5 44.8L382.7 44.2L382.9 43.8L383.1 43.5L383.2 43.5L383.4 43.5L383.6 43.7L383.8 44.1L384.0 44.6L384.2 45.2L384.3 45.9L384.5 46.7L384.7 47.5L384.9 48.4L385.1 49.4L385.3 50.3L385.5 51.2L385.6 52.1L385.8 53.0L386.0 53.8L386.2 54.5L386.4 55.1L386.6 55.6L386.8 56.0L386.9 56.4L387.1 56.6L387.3 56.7L387.5 56.7L387.7 56.6L387.9 56.4L388.1 56.2L388.2 55.9L388.4 55.6L388.6 55.2L388.8 54.9L389.0 54.6L389.2 54.4L389.4 54.2L389.5 54.1L389.7 54.1L389.9 54.2L390.1 54.5L390.3 54.8L390.5 55.4L390.7 56.0L390.8 56.8L391.0 57.7L391.2 58.8L391.4 60.0L391.6 61.3L391.8 62.8L392.0 64.3L392.1 65.9L392.3 67.5L392.5 69.1L392.7 70.8L392.9 72.4L393.1 74.1L393.2 75.6L393.4 77.1L393.6 78.5L393.8 79.8L394.0 81.0L394.2 82.1L394.4 83.0L394.5 83.8L394.7 84.5L394.9 85.0L395.1 85.4L395.3 85.7L395.5 85.9L395.7 86.0L395.8 86.0L396.0 86.0L396.2 85.9L396.4 85.8L396.6 85.6L396.8 85.5L397.0 85.5L397.1 85.5L397.3 85.5L397.5 85.7L397.7 85.9L397.9 86.2L398.1 86.6L398.3 87.2L398.4 87.9L398.6 88.6L398.8 89.5L399.0 90.5L399.2 91.6L399.4 92.7L399.6 93.9L399.7 95.2L399.9 96.2L400.1 97.3L400.3 98.4L400.5 99.4L400.7 100.4L400.8 101.2L401.0 102.0L401.2 102.7L401.4 103.3L401.6 103.7L401.8 103.9L402.0 104.0L402.1 104.0L402.3 103.8L402.5 103.4L402.7 102.9L402.9 102.4L403.1 101.8L403.3 101.1L403.4 100.3L403.6 99.5L403.8 98.5L404.0 97.5L404.2 96.6L404.4 95.6L404.6 94.6L404.7 93.7L404.9 92.8L405.1 92.0L405.3 91.3L405.5 90.6L405.7 90.1L405.9 89.7L406.0 89.4L406.2 89.2L406.4 89.1L406.6 89.1L406.8 89.2L407.0 89.4L407.2 89.6L407.3 89.9L407.5 90.3L407.7 90.6L407.9 91.0L408.1 91.3L408.3 91.5L408.4 91.7L408.6 91.8L408.8 91.8L409.0 91.7L409.2 91.4L409.4 91.0L409.6 90.5L409.7 89.8L409.9 89.0L410.1 88.1L410.3 87.0L410.5 85.8L410.7 84.5L410.9 83.0L411.0 81.6L411.2 80.0L411.4 78.4L411.6 76.8" fill="none" stroke="#181818" stroke-width="0.9" stroke-dasharray="1.4,0.9"/>
<path d="M263.30,3.70 L263.30,128.00 L411.60,128.00" fill="none" stroke="#767676" stroke-width="1.45"/>
<line x1="263.30" y1="128.00" x2="263.30" y2="130.20" stroke="#767676" stroke-width="1"/>
<text transform="translate(263.30,139.05) scale(0.880,1)" text-anchor="middle" class="tk" style="font-size:9.85px">0</text>
<line x1="292.96" y1="128.00" x2="292.96" y2="130.20" stroke="#767676" stroke-width="1"/>
<text transform="translate(292.96,139.05) scale(0.880,1)" text-anchor="middle" class="tk" style="font-size:9.85px">10</text>
<line x1="322.62" y1="128.00" x2="322.62" y2="130.20" stroke="#767676" stroke-width="1"/>
<text transform="translate(322.62,139.05) scale(0.880,1)" text-anchor="middle" class="tk" style="font-size:9.85px">20</text>
<line x1="352.28" y1="128.00" x2="352.28" y2="130.20" stroke="#767676" stroke-width="1"/>
<text transform="translate(352.28,139.05) scale(0.880,1)" text-anchor="middle" class="tk" style="font-size:9.85px">30</text>
<line x1="381.94" y1="128.00" x2="381.94" y2="130.20" stroke="#767676" stroke-width="1"/>
<text transform="translate(381.94,139.05) scale(0.880,1)" text-anchor="middle" class="tk" style="font-size:9.85px">40</text>
<line x1="411.60" y1="128.00" x2="411.60" y2="130.20" stroke="#767676" stroke-width="1"/>
<text transform="translate(411.60,139.05) scale(0.880,1)" text-anchor="middle" class="tk" style="font-size:9.85px">50</text>
<line x1="261.10" y1="128.00" x2="263.30" y2="128.00" stroke="#767676" stroke-width="1"/>
<text transform="translate(259.00,131.45) scale(0.880,1)" text-anchor="end" class="tk" style="font-size:9.85px">−0.015</text>
<line x1="261.10" y1="110.24" x2="263.30" y2="110.24" stroke="#767676" stroke-width="1"/>
<text transform="translate(259.00,113.69) scale(0.880,1)" text-anchor="end" class="tk" style="font-size:9.85px">−0.010</text>
<line x1="261.10" y1="92.49" x2="263.30" y2="92.49" stroke="#767676" stroke-width="1"/>
<text transform="translate(259.00,95.94) scale(0.880,1)" text-anchor="end" class="tk" style="font-size:9.85px">−0.005</text>
<line x1="261.10" y1="74.73" x2="263.30" y2="74.73" stroke="#767676" stroke-width="1"/>
<text transform="translate(259.00,78.18) scale(0.880,1)" text-anchor="end" class="tk" style="font-size:9.85px">0.000</text>
<line x1="261.10" y1="56.97" x2="263.30" y2="56.97" stroke="#767676" stroke-width="1"/>
<text transform="translate(259.00,60.42) scale(0.880,1)" text-anchor="end" class="tk" style="font-size:9.85px">0.005</text>
<line x1="261.10" y1="39.21" x2="263.30" y2="39.21" stroke="#767676" stroke-width="1"/>
<text transform="translate(259.00,42.66) scale(0.880,1)" text-anchor="end" class="tk" style="font-size:9.85px">0.010</text>
<line x1="261.10" y1="21.46" x2="263.30" y2="21.46" stroke="#767676" stroke-width="1"/>
<text transform="translate(259.00,24.91) scale(0.880,1)" text-anchor="end" class="tk" style="font-size:9.85px">0.015</text>
<line x1="261.10" y1="3.70" x2="263.30" y2="3.70" stroke="#767676" stroke-width="1"/>
<text transform="translate(259.00,7.15) scale(0.880,1)" text-anchor="end" class="tk" style="font-size:9.85px">0.020</text>
<text transform="translate(337.45,149.80) scale(0.960,1)" text-anchor="middle" class="lb">Time (s)</text>
<text transform="translate(229.80,65.85) scale(0.960,1) rotate(-90)" text-anchor="middle" class="lb" style="font-size:9.60px">Displacement <tspan font-weight="bold" font-style="italic">x</tspan> (m)</text>
<rect x="272.60" y="7.60" width="135.50" height="11.70" rx="1.5" fill="#fff" stroke="#d8d8d8" stroke-width="0.9"/>
<line x1="274.80" y1="12.85" x2="289.70" y2="12.85" stroke="#e2566e" stroke-width="1.1"/>
<text transform="translate(294.70,15.05) scale(0.2500,0.2500)" class="lg" style="font-size:28.80px">True</text>
<line x1="321.80" y1="12.85" x2="336.70" y2="12.85" stroke="#555" stroke-width="0.8" stroke-dasharray="1.5,1.2"/>
<text transform="translate(341.80,15.05) scale(0.2500,0.2500)" class="lg" style="font-size:28.80px">PINNs</text>
<rect x="375.00" y="10.55" width="14.90" height="4.6" fill="#6fc4c4"/>
<text transform="translate(394.70,15.05) scale(0.2500)" class="lg" style="font-size:28.80px;stroke-width:0.8px">2</text>
<text transform="translate(400.60,15.05) scale(0.2500)" class="lg" font-weight="bold" font-style="italic" style="font-size:28.80px">σ</text>
<path d="M401.80,10.55 l1.3,-1.3 l1.3,1.3" fill="none" stroke="#111" stroke-width="0.75"/>
<path d="M477.6 67.9L477.8 66.6L478.0 65.4L478.2 64.3L478.4 63.5L478.6 62.8L478.8 62.3L479.0 62.0L479.2 61.8L479.4 61.8L479.6 61.9L479.8 62.2L480.0 62.5L480.2 63.0L480.4 63.6L480.6 63.7L480.8 63.5L481.0 63.3L481.2 63.1L481.4 62.9L481.5 62.8L481.7 62.6L481.9 62.4L482.1 62.3L482.3 62.1L482.5 62.0L482.7 61.9L482.9 61.7L483.1 61.6L483.3 61.5L483.5 61.4L483.7 61.3L483.9 61.2L484.1 61.1L484.3 61.0L484.5 60.9L484.7 60.9L484.9 60.8L485.1 60.7L485.3 60.7L485.5 60.6L485.7 60.6L485.9 60.5L486.1 60.5L486.3 60.5L486.5 60.4L486.7 60.4L486.9 60.4L487.1 60.4L487.3 60.4L487.5 60.3L487.7 60.2L487.9 60.2L488.1 60.4L488.3 60.4L488.5 60.4L488.7 60.4L488.9 60.5L489.0 60.5L489.2 60.6L489.4 60.6L489.6 60.7L489.8 60.7L490.0 60.8L490.2 60.8L490.4 60.9L490.6 61.0L490.8 61.1L491.0 61.2L491.2 61.2L491.4 61.3L491.6 61.4L491.8 61.6L492.0 61.7L492.2 61.8L492.4 61.9L492.6 62.1L492.8 62.2L493.0 62.3L493.2 62.5L493.4 62.7L493.6 62.8L493.8 63.0L494.0 63.2L494.2 63.4L494.4 63.6L494.6 63.8L494.8 63.7L495.0 63.0L495.2 62.3L495.4 61.7L495.6 61.2L495.8 60.8L496.0 60.5L496.2 60.4L496.4 60.5L496.5 60.7L496.7 61.1L496.9 61.7L497.1 62.6L497.3 63.6L497.5 64.9L497.7 66.4L497.9 68.0L498.1 69.8L498.3 71.6L498.5 73.4L498.7 75.2L498.9 76.9L499.1 78.0L499.3 78.7L499.5 79.2L499.7 79.5L499.9 79.7L500.1 79.8L500.3 79.7L500.5 79.5L500.7 79.1L500.9 77.7L501.1 76.0L501.3 74.1L501.5 72.1L501.7 69.9L501.9 67.7L502.1 65.4L502.3 63.2L502.5 61.1L502.7 59.1L502.9 57.4L503.1 55.9L503.3 54.7L503.5 53.8L503.7 53.2L503.9 53.0L504.0 53.2L504.2 53.7L504.4 54.6L504.6 55.8L504.8 57.3L505.0 59.0L505.2 61.0L505.4 63.2L505.6 65.5L505.8 67.9L506.0 70.3L506.2 72.7L506.4 75.0L506.6 77.2L506.8 79.2L507.0 80.9L507.2 82.0L507.4 82.4L507.6 82.7L507.8 82.9L508.0 82.9L508.2 82.7L508.4 82.5L508.6 82.0L508.8 81.4L509.0 79.8L509.2 77.9L509.4 75.7L509.6 73.4L509.8 71.0L510.0 68.5L510.2 66.1L510.4 63.6L510.6 61.3L510.8 59.1L511.0 57.1L511.2 55.4L511.4 54.0L511.5 52.9L511.7 52.1L511.9 51.7L512.1 51.6L512.3 52.0L512.5 52.6L512.7 53.6L512.9 54.9L513.1 56.5L513.3 58.3L513.5 60.2L513.7 62.3L513.9 64.5L514.1 66.7L514.3 68.9L514.5 70.9L514.7 72.8L514.9 74.5L515.1 75.9L515.3 76.8L515.5 77.0L515.7 77.1L515.9 77.1L516.1 76.9L516.3 76.6L516.5 76.2L516.7 75.5L516.9 74.8L517.1 73.4L517.3 72.0L517.5 67.4L517.7 65.8L517.9 64.6L518.1 63.6L518.3 62.8L518.5 62.0L518.7 61.4L518.9 60.7L519.0 60.2L519.2 59.6L519.4 59.1L519.6 58.6L519.8 58.2L520.0 57.8L520.2 57.4L520.4 57.0L520.6 56.6L520.8 56.3L521.0 55.9L521.2 55.6L521.4 55.3L521.6 55.0L521.8 54.7L522.0 54.5L522.2 54.2L522.4 54.0L522.6 53.8L522.8 53.5L523.0 53.3L523.2 53.1L523.4 53.0L523.6 52.8L523.8 52.6L524.0 52.5L524.2 52.3L524.4 52.2L524.6 52.1L524.8 51.9L525.0 51.8L525.2 51.7L525.4 51.6L525.6 51.6L525.8 51.5L526.0 51.4L526.2 51.4L526.4 51.3L526.5 51.3L526.7 51.3L526.9 51.3L527.1 51.3L527.3 51.3L527.5 51.3L527.7 51.3L527.9 51.3L528.1 51.4L528.3 51.4L528.5 51.5L528.7 51.5L528.9 51.6L529.1 51.7L529.3 51.8L529.5 51.9L529.7 52.0L529.9 52.1L530.1 52.2L530.3 52.4L530.5 52.5L530.7 52.7L530.9 52.8L531.1 53.0L531.3 53.2L531.5 53.4L531.7 53.6L531.9 53.8L532.1 54.1L532.3 54.3L532.5 54.6L532.7 54.8L532.9 55.1L533.1 55.4L533.3 55.7L533.5 56.0L533.7 56.4L533.9 56.7L534.0 57.1L534.2 57.5L534.4 57.9L534.6 58.4L534.8 58.8L535.0 59.3L535.2 59.8L535.4 59.9L535.6 59.1L535.8 58.3L536.0 57.5L536.2 57.0L536.4 56.5L536.6 56.3L536.8 56.3L537.0 56.5L537.2 57.0L537.4 57.8L537.6 58.9L537.8 60.2L538.0 61.9L538.2 63.7L538.4 65.7L538.6 67.7L538.8 69.8L539.0 71.9L539.2 73.9L539.4 75.7L539.6 77.0L539.8 77.6L540.0 78.1L540.2 78.5L540.4 78.8L540.6 78.8L540.8 78.8L541.0 78.6L541.2 78.2L541.4 76.9L541.5 75.2L541.7 73.4L541.9 71.3L542.1 69.1L542.3 66.9L542.5 64.7L542.7 62.5L542.9 60.4L543.1 58.4L543.3 56.7L543.5 55.2L543.7 54.0L543.9 53.1L544.1 52.5L544.3 52.3L544.5 52.4L544.7 52.9L544.9 53.8L545.1 55.0L545.3 56.5L545.5 58.2L545.7 60.2L545.9 62.4L546.1 64.7L546.3 67.1L546.5 69.5L546.7 71.9L546.9 74.2L547.1 76.4L547.3 78.3L547.5 80.1L547.7 81.2L547.9 81.6L548.1 81.9L548.3 82.1L548.5 82.1L548.7 82.0L548.9 81.7L549.0 81.2L549.2 80.6L549.4 79.0L549.6 77.1L549.8 75.0L550.0 72.7L550.2 70.2L550.4 67.8L550.6 65.3L550.8 62.8L551.0 60.5L551.2 58.3L551.4 56.3L551.6 54.6L551.8 53.2L552.0 52.0L552.2 51.3L552.4 50.9L552.6 50.8L552.8 51.1L553.0 51.8L553.2 52.8L553.4 54.1L553.6 55.6L553.8 57.4L554.0 59.4L554.2 61.5L554.4 63.7L554.6 65.9L554.8 68.0L555.0 70.0L555.2 71.9L555.4 73.5L555.6 74.8L555.8 75.7L556.0 75.9L556.2 76.1L556.4 76.0L556.5 75.9L556.7 75.6L556.9 75.1L557.1 67.5L557.3 65.9L557.5 64.7L557.7 63.7L557.9 62.8L558.1 62.1L558.3 61.4L558.5 60.8L558.7 60.2L558.9 59.7L559.1 59.2L559.3 58.7L559.5 58.2L559.7 57.8L559.9 57.4L560.1 57.0L560.3 56.6L560.5 56.3L560.7 56.0L560.9 55.6L561.1 55.3L561.3 55.0L561.5 54.8L561.7 54.5L561.9 54.2L562.1 54.0L562.3 53.8L562.5 53.6L562.7 53.4L562.9 53.2L563.1 53.0L563.3 52.8L563.5 52.6L563.7 52.5L563.9 52.3L564.1 52.2L564.2 52.1L564.4 51.9L564.6 51.8L564.8 51.7L565.0 51.7L565.2 51.6L565.4 51.5L565.6 51.4L565.8 51.4L566.0 51.3L566.2 51.3L566.4 51.3L566.6 51.3L566.8 51.3L567.0 51.3L567.2 51.3L567.4 51.3L567.6 51.3L567.8 51.4L568.0 51.4L568.2 51.5L568.4 51.5L568.6 51.6L568.8 51.7L569.0 51.8L569.2 51.9L569.4 52.0L569.6 52.1L569.8 52.2L570.0 52.4L570.2 52.5L570.4 52.7L570.6 52.8L570.8 53.0L571.0 53.2L571.2 53.4L571.4 53.6L571.6 53.8L571.7 54.1L571.9 54.3L572.1 54.6L572.3 54.8L572.5 55.1L572.7 55.4L572.9 55.7L573.1 56.0L573.3 56.4L573.5 56.7L573.7 57.1L573.9 57.5L574.1 57.9L574.3 58.3L574.5 58.8L574.7 59.3L574.9 59.8L575.1 60.3L575.3 60.9L575.5 61.4L575.7 60.1L575.9 58.9L576.1 57.7L576.3 56.6L576.5 55.6L576.7 54.9L576.9 54.3L577.1 54.1L577.3 54.1L577.5 54.5L577.7 55.2L577.9 56.3L578.1 57.7L578.3 59.4L578.5 61.3L578.7 63.5L578.9 65.7L579.1 68.0L579.2 70.3L579.4 72.5L579.6 74.5L579.8 76.4L580.0 77.7L580.2 78.4L580.4 78.9L580.6 79.3L580.8 79.5L581.0 79.6L581.2 79.5L581.4 79.3L581.6 79.0L581.8 77.6L582.0 75.9L582.2 74.0L582.4 72.0L582.6 69.8L582.8 67.5L583.0 65.3L583.2 63.1L583.4 60.9L583.6 59.0L583.8 57.2L584.0 55.7L584.2 54.4L584.4 53.5L584.6 52.9L584.8 52.6L585.0 52.7L585.2 53.2L585.4 54.0L585.6 55.2L585.8 56.6L586.0 58.4L586.2 60.3L586.4 62.5L586.6 64.7L586.7 67.1L586.9 69.5L587.1 71.8L587.3 74.1L587.5 76.3L587.7 78.2L587.9 79.9L588.1 81.1L588.3 81.5L588.5 81.8L588.7 81.9L588.9 81.9L589.1 81.7L589.3 81.4L589.5 80.9L589.7 80.3L589.9 78.7L590.1 76.8L590.3 74.7L590.5 72.4L590.7 69.9L590.9 67.4L591.1 64.9L591.3 62.5L591.5 60.1L591.7 57.9L591.9 55.9L592.1 54.2L592.3 52.7L592.5 51.6L592.7 50.9L592.9 50.4L593.1 50.4L593.3 50.7L593.5 51.4L593.7 52.4L593.9 53.8L594.1 55.4L594.2 57.2L594.4 59.2L594.6 61.3L594.8 63.4L595.0 65.6L595.2 67.6L595.4 69.6L595.6 71.3L595.8 72.8L596.0 74.0L596.2 74.8L596.4 75.1L596.6 75.2L596.8 67.6L597.0 65.9L597.2 64.7L597.4 63.7L597.6 62.9L597.8 62.1L598.0 61.4L598.2 60.8L598.4 60.2L598.6 59.7L598.8 59.2L599.0 58.7L599.2 58.3L599.4 57.8L599.6 57.4L599.8 57.0L600.0 56.7L600.2 56.3L600.4 56.0L600.6 55.7L600.8 55.3L601.0 55.1L601.2 54.8L601.4 54.5L601.6 54.3L601.7 54.0L601.9 53.8L602.1 53.6L602.3 53.4L602.5 53.2L602.7 53.0L602.9 52.8L603.1 52.6L603.3 52.5L603.5 52.3L603.7 52.2L603.9 52.1L604.1 52.0L604.3 51.8L604.5 51.7L604.7 51.7L604.9 51.6L605.1 51.5L605.3 51.4L605.5 51.4L605.7 51.3L605.9 51.3L606.1 51.3L606.3 51.3L606.5 51.3L606.7 51.3L606.9 51.3L607.1 51.3L607.3 51.3L607.5 51.4L607.7 51.4L607.9 51.5L608.1 51.5L608.3 51.6L608.5 51.7L608.7 51.8L608.9 51.9L609.1 52.0L609.2 52.1L609.4 52.2L609.6 52.3L609.8 52.5L610.0 52.7L610.2 52.8L610.4 53.0L610.6 53.2L610.8 53.4L611.0 53.6L611.2 53.8L611.4 54.0L611.6 54.3L611.8 54.5L612.0 54.8L612.2 55.1L612.4 55.4L612.6 55.7L612.8 56.0L613.0 56.3L613.2 56.7L613.4 57.1L613.6 57.5L613.8 57.9L614.0 58.3L614.2 58.8L614.4 59.2L614.6 59.7L614.8 60.3L615.0 60.9L615.2 61.5L615.4 62.2L615.6 63.0L615.8 61.9L616.0 60.3L616.2 58.7L616.4 57.2L616.6 55.8L616.7 54.5L616.9 53.4L617.1 52.7L617.3 52.2L617.5 52.1L617.7 52.4L617.9 53.1L618.1 54.1L618.3 55.5L618.5 57.2L618.7 59.1L618.9 61.3L619.1 63.6L619.3 66.0L619.5 68.4L619.7 70.8L619.9 73.0L620.1 75.1L620.3 77.0L620.5 78.4L620.7 79.1L620.9 79.6L621.1 79.9L621.3 80.2L621.5 80.2L621.7 80.1L621.9 79.9L622.1 79.6L622.3 78.2L622.5 76.5L622.7 74.6L622.9 72.6L623.1 70.4L623.3 68.1L623.5 65.8L623.7 63.5L623.9 61.4L624.1 59.4L624.2 57.6L624.4 56.0L624.6 54.7L624.8 53.7L625.0 53.1L625.2 52.8L625.4 52.9L625.6 53.3L625.8 54.1L626.0 55.2L626.2 56.6L626.4 58.3L626.6 60.3L626.8 62.4L627.0 64.6L627.2 67.0L627.4 69.3L627.6 71.7L627.8 73.9L628.0 76.0L628.2 78.0L628.4 79.7L628.6 80.8L628.8 81.2L629.0 81.5L629.2 81.6L629.4 81.6L629.6 81.4L629.8 81.0L630.0 80.6L630.2 79.9L630.4 78.4L630.6 76.4L630.8 74.3L631.0 71.9L631.2 69.5L631.4 67.0L631.6 64.5L631.7 62.0L631.9 59.7L632.1 57.5L632.3 55.5L632.5 53.8L632.7 52.4L632.9 51.3L633.1 50.5L633.3 50.2L633.5 50.2L633.7 50.6L633.9 51.3L634.1 52.4L634.3 53.8L634.5 55.5L634.7 57.3L634.9 59.3L635.1 61.4L635.3 63.5L635.5 65.6L635.5 78.9L635.3 79.6L635.1 80.3L634.9 80.9L634.7 81.4L634.5 82.0L634.3 82.4L634.1 82.9L633.9 83.3L633.7 83.7L633.5 84.1L633.3 84.5L633.1 84.8L632.9 85.1L632.7 85.4L632.5 85.7L632.3 86.0L632.1 86.3L631.9 86.6L631.7 86.8L631.6 87.0L631.4 87.3L631.2 87.5L631.0 87.7L630.8 87.9L630.6 88.1L630.4 88.2L630.2 88.4L630.0 88.6L629.8 88.7L629.6 88.8L629.4 89.0L629.2 89.1L629.0 89.2L628.8 89.3L628.6 89.4L628.4 89.5L628.2 89.6L628.0 89.6L627.8 89.7L627.6 89.8L627.4 89.8L627.2 89.8L627.0 89.9L626.8 89.9L626.6 89.9L626.4 89.9L626.2 89.9L626.0 89.9L625.8 89.9L625.6 89.8L625.4 89.8L625.2 89.8L625.0 89.7L624.8 89.6L624.6 89.6L624.4 89.5L624.2 89.4L624.1 89.3L623.9 89.2L623.7 89.1L623.5 89.0L623.3 88.9L623.1 88.7L622.9 88.6L622.7 88.4L622.5 88.2L622.3 88.1L622.1 87.9L621.9 87.7L621.7 87.5L621.5 87.3L621.3 87.1L621.1 86.8L620.9 86.6L620.7 86.3L620.5 86.0L620.3 85.8L620.1 85.5L619.9 85.1L619.7 84.8L619.5 84.5L619.3 84.1L619.1 83.7L618.9 83.3L618.7 82.9L618.5 82.5L618.3 82.0L618.1 81.5L617.9 80.9L617.7 80.3L617.5 79.7L617.3 78.9L617.1 78.1L616.9 77.1L616.7 75.8L616.6 73.7L616.4 68.9L616.2 69.9L616.0 71.2L615.8 72.7L615.6 74.5L615.4 76.5L615.2 78.5L615.0 80.7L614.8 82.8L614.6 84.8L614.4 86.8L614.2 88.5L614.0 90.0L613.8 91.2L613.6 92.1L613.4 92.6L613.2 92.8L613.0 92.6L612.8 92.0L612.6 91.1L612.4 89.8L612.2 88.2L612.0 86.3L611.8 84.2L611.6 81.9L611.4 79.5L611.2 77.0L611.0 74.5L610.8 72.0L610.6 69.7L610.4 67.4L610.2 65.4L610.0 63.6L609.8 62.5L609.6 62.0L609.4 61.6L609.2 61.3L609.1 61.2L608.9 61.3L608.7 61.5L608.5 61.8L608.3 62.4L608.1 64.0L607.9 65.8L607.7 67.9L607.5 70.1L607.3 72.4L607.1 74.8L606.9 77.1L606.7 79.5L606.5 81.7L606.3 83.7L606.1 85.5L605.9 87.1L605.7 88.4L605.5 89.4L605.3 90.0L605.1 90.3L604.9 90.2L604.7 89.7L604.5 88.9L604.3 87.8L604.1 86.4L603.9 84.7L603.7 82.8L603.5 80.8L603.3 78.6L603.1 76.3L602.9 74.0L602.7 71.8L602.5 69.7L602.3 67.7L602.1 65.9L601.9 64.3L601.7 63.5L601.6 63.3L601.4 63.1L601.2 63.1L601.0 63.3L600.8 63.5L600.6 64.0L600.4 64.6L600.2 65.4L600.0 67.2L599.8 69.2L599.6 71.4L599.4 73.7L599.2 76.0L599.0 78.4L598.8 80.6L598.6 82.8L598.4 84.7L598.2 86.4L598.0 87.8L597.8 88.9L597.6 89.6L597.4 89.9L597.2 89.9L597.0 89.6L596.8 88.9L596.6 88.0L596.4 86.8L596.2 85.6L596.0 84.2L595.8 82.8L595.6 81.4L595.4 80.3L595.2 80.9L595.0 81.4L594.8 81.9L594.6 82.4L594.4 82.9L594.2 83.3L594.1 83.7L593.9 84.1L593.7 84.4L593.5 84.8L593.3 85.1L593.1 85.4L592.9 85.7L592.7 86.0L592.5 86.3L592.3 86.5L592.1 86.8L591.9 87.0L591.7 87.3L591.5 87.5L591.3 87.7L591.1 87.9L590.9 88.1L590.7 88.2L590.5 88.4L590.3 88.6L590.1 88.7L589.9 88.8L589.7 89.0L589.5 89.1L589.3 89.2L589.1 89.3L588.9 89.4L588.7 89.5L588.5 89.6L588.3 89.6L588.1 89.7L587.9 89.8L587.7 89.8L587.5 89.8L587.3 89.9L587.1 89.9L586.9 89.9L586.7 89.9L586.6 89.9L586.4 89.9L586.2 89.9L586.0 89.8L585.8 89.8L585.6 89.8L585.4 89.7L585.2 89.6L585.0 89.6L584.8 89.5L584.6 89.4L584.4 89.3L584.2 89.2L584.0 89.1L583.8 89.0L583.6 88.9L583.4 88.7L583.2 88.6L583.0 88.4L582.8 88.3L582.6 88.1L582.4 87.9L582.2 87.7L582.0 87.5L581.8 87.3L581.6 87.1L581.4 86.8L581.2 86.6L581.0 86.3L580.8 86.1L580.6 85.8L580.4 85.5L580.2 85.2L580.0 84.8L579.8 84.5L579.6 84.1L579.4 83.8L579.2 83.4L579.1 82.9L578.9 82.5L578.7 82.0L578.5 81.5L578.3 81.0L578.1 80.4L577.9 79.7L577.7 79.0L577.5 78.2L577.3 77.2L577.1 75.9L576.9 73.9L576.7 67.5L576.5 67.4L576.3 67.4L576.1 67.6L575.9 68.0L575.7 69.2L575.5 70.6L575.3 72.3L575.1 74.2L574.9 76.3L574.7 78.4L574.5 80.6L574.3 82.7L574.1 84.8L573.9 86.7L573.7 88.4L573.5 89.8L573.3 91.0L573.1 91.8L572.9 92.3L572.7 92.4L572.5 92.2L572.3 91.6L572.1 90.6L571.9 89.4L571.7 87.8L571.6 85.9L571.4 83.8L571.2 81.5L571.0 79.1L570.8 76.6L570.6 74.1L570.4 71.7L570.2 69.3L570.0 67.1L569.8 65.0L569.6 63.2L569.4 62.2L569.2 61.7L569.0 61.3L568.8 61.0L568.6 61.0L568.4 61.0L568.2 61.2L568.0 61.6L567.8 62.2L567.6 63.8L567.4 65.7L567.2 67.7L567.0 69.9L566.8 72.3L566.6 74.7L566.4 77.1L566.2 79.4L566.0 81.6L565.8 83.7L565.6 85.6L565.4 87.2L565.2 88.5L565.0 89.5L564.8 90.2L564.6 90.5L564.4 90.5L564.2 90.1L564.1 89.3L563.9 88.2L563.7 86.8L563.5 85.2L563.3 83.3L563.1 81.3L562.9 79.1L562.7 76.9L562.5 74.6L562.3 72.4L562.1 70.3L561.9 68.3L561.7 66.5L561.5 65.0L561.3 64.2L561.1 63.9L560.9 63.8L560.7 63.8L560.5 63.9L560.3 64.3L560.1 64.7L559.9 65.3L559.7 66.1L559.5 67.9L559.3 69.8L559.1 71.9L558.9 74.1L558.7 76.3L558.5 78.4L558.3 80.5L558.1 82.4L557.9 84.0L557.7 85.4L557.5 86.5L557.3 87.3L557.1 87.7L556.9 87.9L556.7 87.7L556.5 87.3L556.4 86.7L556.2 85.9L556.0 85.0L555.8 84.0L555.6 83.0L555.4 81.9L555.2 81.9L555.0 82.4L554.8 82.8L554.6 83.3L554.4 83.7L554.2 84.0L554.0 84.4L553.8 84.8L553.6 85.1L553.4 85.4L553.2 85.7L553.0 86.0L552.8 86.3L552.6 86.5L552.4 86.8L552.2 87.0L552.0 87.2L551.8 87.5L551.6 87.7L551.4 87.9L551.2 88.0L551.0 88.2L550.8 88.4L550.6 88.5L550.4 88.7L550.2 88.8L550.0 89.0L549.8 89.1L549.6 89.2L549.4 89.3L549.2 89.4L549.0 89.5L548.9 89.6L548.7 89.6L548.5 89.7L548.3 89.7L548.1 89.8L547.9 89.8L547.7 89.9L547.5 89.9L547.3 89.9L547.1 89.9L546.9 89.9L546.7 89.9L546.5 89.9L546.3 89.8L546.1 89.8L545.9 89.8L545.7 89.7L545.5 89.6L545.3 89.6L545.1 89.5L544.9 89.4L544.7 89.3L544.5 89.2L544.3 89.1L544.1 89.0L543.9 88.9L543.7 88.7L543.5 88.6L543.3 88.4L543.1 88.3L542.9 88.1L542.7 87.9L542.5 87.7L542.3 87.5L542.1 87.3L541.9 87.1L541.7 86.8L541.5 86.6L541.4 86.3L541.2 86.1L541.0 85.8L540.8 85.5L540.6 85.2L540.4 84.9L540.2 84.5L540.0 84.2L539.8 83.8L539.6 83.4L539.4 83.0L539.2 82.5L539.0 82.0L538.8 81.5L538.6 81.0L538.4 80.4L538.2 79.7L538.0 79.0L537.8 78.2L537.6 77.2L537.4 76.0L537.2 74.1L537.0 68.4L536.8 67.8L536.6 67.2L536.4 66.9L536.2 66.6L536.0 66.5L535.8 66.6L535.6 66.8L535.4 67.2L535.2 68.4L535.0 70.0L534.8 71.8L534.6 73.7L534.4 75.8L534.2 78.0L534.0 80.2L533.9 82.3L533.7 84.4L533.5 86.3L533.3 88.0L533.1 89.4L532.9 90.6L532.7 91.4L532.5 91.9L532.3 92.0L532.1 91.8L531.9 91.2L531.7 90.3L531.5 89.0L531.3 87.4L531.1 85.6L530.9 83.5L530.7 81.3L530.5 78.9L530.3 76.4L530.1 73.9L529.9 71.5L529.7 69.1L529.5 66.9L529.3 64.9L529.1 63.1L528.9 62.0L528.7 61.5L528.5 61.2L528.3 61.0L528.1 60.9L527.9 61.0L527.7 61.2L527.5 61.6L527.3 62.2L527.1 63.8L526.9 65.7L526.7 67.8L526.5 70.0L526.4 72.4L526.2 74.8L526.0 77.2L525.8 79.6L525.6 81.9L525.4 84.0L525.2 85.9L525.0 87.5L524.8 88.9L524.6 89.9L524.4 90.6L524.2 91.0L524.0 91.0L523.8 90.6L523.6 89.9L523.4 88.8L523.2 87.5L523.0 85.9L522.8 84.0L522.6 82.0L522.4 79.9L522.2 77.7L522.0 75.4L521.8 73.2L521.6 71.1L521.4 69.2L521.2 67.4L521.0 65.9L520.8 65.1L520.6 64.8L520.4 64.7L520.2 64.7L520.0 64.9L519.8 65.2L519.6 65.6L519.4 66.2L519.2 67.0L519.0 68.7L518.9 70.5L518.7 72.5L518.5 74.5L518.3 76.4L518.1 78.3L517.9 80.1L517.7 81.7L517.5 83.0L517.3 84.1L517.1 85.0L516.9 85.5L516.7 85.9L516.5 86.0L516.3 85.9L516.1 85.7L515.9 85.3L515.7 84.8L515.5 85.1L515.3 85.7L515.1 86.3L514.9 86.9L514.7 87.4L514.5 87.9L514.3 88.4L514.1 88.9L513.9 89.3L513.7 89.7L513.5 90.1L513.3 90.5L513.1 90.9L512.9 91.2L512.7 91.5L512.5 91.8L512.3 92.1L512.1 92.4L511.9 92.7L511.7 93.0L511.5 93.2L511.4 93.4L511.2 93.7L511.0 93.9L510.8 94.1L510.6 94.2L510.4 94.4L510.2 94.6L510.0 94.7L509.8 94.9L509.6 95.0L509.4 95.1L509.2 95.2L509.0 95.3L508.8 95.4L508.6 95.4L508.4 95.5L508.2 95.6L508.0 95.6L507.8 95.6L507.6 95.6L507.4 95.6L507.2 95.6L507.0 95.6L506.8 95.6L506.6 95.6L506.4 95.5L506.2 95.5L506.0 95.4L505.8 95.3L505.6 95.2L505.4 95.1L505.2 95.0L505.0 94.9L504.8 94.8L504.6 94.6L504.4 94.5L504.2 94.3L504.0 94.1L503.9 93.9L503.7 93.7L503.5 93.5L503.3 93.3L503.1 93.1L502.9 92.8L502.7 92.5L502.5 92.3L502.3 92.0L502.1 91.7L501.9 91.3L501.7 91.0L501.5 90.6L501.3 90.3L501.1 89.9L500.9 89.5L500.7 89.1L500.5 88.6L500.3 88.1L500.1 87.6L499.9 87.1L499.7 86.6L499.5 86.0L499.3 85.7L499.1 85.3L498.9 84.8L498.7 84.2L498.5 83.4L498.3 82.4L498.1 81.3L497.9 80.0L497.7 78.7L497.5 77.2L497.3 74.4L497.1 73.1L496.9 71.9L496.7 70.8L496.5 70.0L496.4 69.3L496.2 68.8L496.0 68.5L495.8 68.3L495.6 68.3L495.4 68.3L495.2 68.6L495.0 69.0L494.8 69.8L494.6 70.8L494.4 72.0L494.2 73.2L494.0 74.6L493.8 76.0L493.6 77.4L493.4 78.7L493.2 80.0L493.0 81.2L492.8 82.3L492.6 83.2L492.4 84.0L492.2 84.5L492.0 84.8L491.8 84.9L491.6 84.7L491.4 84.4L491.2 83.8L491.0 83.0L490.8 82.0L490.6 80.8L490.4 79.5L490.2 78.0L490.0 76.5L489.8 75.0L489.6 73.4L489.4 71.9L489.2 70.4L489.0 69.0L488.9 67.7L488.7 66.6L488.5 65.8L488.3 65.3L488.1 65.0L487.9 64.9L487.7 64.8L487.5 65.0L487.3 65.3L487.1 65.7L486.9 66.3L486.7 67.3L486.5 68.5L486.3 69.9L486.1 71.4L485.9 73.0L485.7 74.6L485.5 76.2L485.3 77.7L485.1 79.2L484.9 80.6L484.7 81.9L484.5 83.0L484.3 83.9L484.1 84.7L483.9 85.2L483.7 85.4L483.5 85.5L483.3 85.3L483.1 84.9L482.9 84.3L482.7 83.4L482.5 82.4L482.3 81.3L482.1 80.0L481.9 78.7L481.7 77.3L481.5 75.9L481.4 74.5L481.2 73.2L481.0 72.0L480.8 70.9L480.6 69.9L480.4 69.3L480.2 69.0L480.0 68.8L479.8 68.7L479.6 68.8L479.4 69.1L479.2 69.5L479.0 70.0L478.8 70.7L478.6 71.7L478.4 72.9L478.2 74.1L478.0 75.3L477.8 76.6L477.6 77.9Z" fill="#cacaca" stroke="none"/>
<path d="M477.6 71.5L477.8 70.1L478.0 68.6L478.2 67.2L478.4 65.8L478.6 64.3L478.8 62.9L479.0 61.5L479.2 60.1L479.4 58.7L479.6 57.4L479.8 56.0L480.0 54.7L480.2 53.3L480.4 52.0L480.6 50.7L480.8 49.4L481.0 48.2L481.2 47.0L481.4 45.8L481.5 44.6L481.7 43.4L481.9 42.3L482.1 41.2L482.3 40.1L482.5 39.1L482.7 38.1L482.9 37.1L483.1 36.2L483.3 35.3L483.5 34.4L483.7 33.6L483.9 32.8L484.1 32.0L484.3 31.3L484.5 30.6L484.7 30.0L484.9 29.4L485.1 28.8L485.3 28.3L485.5 27.8L485.7 27.4L485.9 27.0L486.1 26.7L486.3 26.4L486.5 26.1L486.7 25.9L486.9 25.7L487.1 25.6L487.3 25.5L487.5 25.5L487.7 25.5L487.9 25.6L488.1 25.7L488.3 25.8L488.5 26.0L488.7 26.2L488.9 26.5L489.0 26.8L489.2 27.2L489.4 27.6L489.6 28.1L489.8 28.6L490.0 29.1L490.2 29.7L490.4 30.3L490.6 30.9L490.8 31.6L491.0 32.4L491.2 33.2L491.4 34.0L491.6 34.8L491.8 35.7L492.0 36.6L492.2 37.6L492.4 38.6L492.6 39.6L492.8 40.6L493.0 41.7L493.2 42.8L493.4 44.0L493.6 45.1L493.8 46.3L494.0 47.5L494.2 48.8L494.4 50.0L494.6 51.3L494.8 52.6L495.0 53.9L495.2 55.3L495.4 56.6L495.6 58.0L495.8 59.4L496.0 60.8L496.2 62.2L496.4 63.6L496.5 65.0L496.7 66.4L496.9 67.9L497.1 69.3L497.3 70.7L497.5 72.2L497.7 73.6L497.9 75.0L498.1 76.5L498.3 77.9L498.5 79.3L498.7 80.7L498.9 82.1L499.1 83.5L499.3 84.9L499.5 86.3L499.7 87.6L499.9 89.0L500.1 90.3L500.3 91.6L500.5 92.9L500.7 94.1L500.9 95.4L501.1 96.6L501.3 97.8L501.5 99.0L501.7 100.1L501.9 101.2L502.1 102.3L502.3 103.3L502.5 104.4L502.7 105.4L502.9 106.3L503.1 107.2L503.3 108.1L503.5 109.0L503.7 109.8L503.9 110.6L504.0 111.3L504.2 112.0L504.4 112.7L504.6 113.3L504.8 113.9L505.0 114.4L505.2 114.9L505.4 115.4L505.6 115.8L505.8 116.1L506.0 116.5L506.2 116.7L506.4 117.0L506.6 117.2L506.8 117.3L507.0 117.4L507.2 117.5L507.4 117.5L507.6 117.5L507.8 117.4L508.0 117.3L508.2 117.1L508.4 116.9L508.6 116.6L508.8 116.3L509.0 116.0L509.2 115.6L509.4 115.2L509.6 114.7L509.8 114.2L510.0 113.6L510.2 113.0L510.4 112.4L510.6 111.7L510.8 111.0L511.0 110.3L511.2 109.5L511.4 108.6L511.5 107.8L511.7 106.9L511.9 105.9L512.1 105.0L512.3 104.0L512.5 102.9L512.7 101.9L512.9 100.8L513.1 99.6L513.3 98.5L513.5 97.3L513.7 96.1L513.9 94.9L514.1 93.6L514.3 92.4L514.5 91.1L514.7 89.8L514.9 88.4L515.1 87.1L515.3 85.7L515.5 84.4L515.7 83.0L515.9 81.6L516.1 80.2L516.3 78.7L516.5 77.3L516.7 75.9L516.9 74.5L517.1 73.0L517.3 71.6L517.5 70.2L517.7 68.7L517.9 67.3L518.1 65.9L518.3 64.4L518.5 63.0L518.7 61.6L518.9 60.2L519.0 58.8L519.2 57.4L519.4 56.1L519.6 54.7L519.8 53.4L520.0 52.1L520.2 50.8L520.4 49.5L520.6 48.3L520.8 47.0L521.0 45.8L521.2 44.7L521.4 43.5L521.6 42.4L521.8 41.3L522.0 40.2L522.2 39.2L522.4 38.2L522.6 37.2L522.8 36.3L523.0 35.3L523.2 34.5L523.4 33.6L523.6 32.8L523.8 32.1L524.0 31.4L524.2 30.7L524.4 30.0L524.6 29.4L524.8 28.9L525.0 28.4L525.2 27.9L525.4 27.4L525.6 27.0L525.8 26.7L526.0 26.4L526.2 26.1L526.4 25.9L526.5 25.7L526.7 25.6L526.9 25.5L527.1 25.5L527.3 25.5L527.5 25.6L527.7 25.7L527.9 25.8L528.1 26.0L528.3 26.2L528.5 26.5L528.7 26.8L528.9 27.2L529.1 27.6L529.3 28.0L529.5 28.5L529.7 29.1L529.9 29.6L530.1 30.3L530.3 30.9L530.5 31.6L530.7 32.3L530.9 33.1L531.1 33.9L531.3 34.8L531.5 35.7L531.7 36.6L531.9 37.5L532.1 38.5L532.3 39.5L532.5 40.6L532.7 41.7L532.9 42.8L533.1 43.9L533.3 45.1L533.5 46.3L533.7 47.5L533.9 48.7L534.0 50.0L534.2 51.2L534.4 52.5L534.6 53.9L534.8 55.2L535.0 56.5L535.2 57.9L535.4 59.3L535.6 60.7L535.8 62.1L536.0 63.5L536.2 64.9L536.4 66.3L536.6 67.8L536.8 69.2L537.0 70.6L537.2 72.1L537.4 73.5L537.6 75.0L537.8 76.4L538.0 77.8L538.2 79.2L538.4 80.6L538.6 82.1L538.8 83.4L539.0 84.8L539.2 86.2L539.4 87.6L539.6 88.9L539.8 90.2L540.0 91.5L540.2 92.8L540.4 94.1L540.6 95.3L540.8 96.5L541.0 97.7L541.2 98.9L541.4 100.0L541.5 101.1L541.7 102.2L541.9 103.3L542.1 104.3L542.3 105.3L542.5 106.3L542.7 107.2L542.9 108.1L543.1 108.9L543.3 109.7L543.5 110.5L543.7 111.3L543.9 112.0L544.1 112.6L544.3 113.3L544.5 113.8L544.7 114.4L544.9 114.9L545.1 115.3L545.3 115.7L545.5 116.1L545.7 116.4L545.9 116.7L546.1 117.0L546.3 117.2L546.5 117.3L546.7 117.4L546.9 117.5L547.1 117.5L547.3 117.5L547.5 117.4L547.7 117.3L547.9 117.1L548.1 116.9L548.3 116.7L548.5 116.4L548.7 116.0L548.9 115.6L549.0 115.2L549.2 114.7L549.4 114.2L549.6 113.7L549.8 113.1L550.0 112.4L550.2 111.8L550.4 111.1L550.6 110.3L550.8 109.5L551.0 108.7L551.2 107.8L551.4 106.9L551.6 106.0L551.8 105.0L552.0 104.0L552.2 103.0L552.4 101.9L552.6 100.8L552.8 99.7L553.0 98.6L553.2 97.4L553.4 96.2L553.6 95.0L553.8 93.7L554.0 92.4L554.2 91.2L554.4 89.8L554.6 88.5L554.8 87.2L555.0 85.8L555.2 84.4L555.4 83.1L555.6 81.7L555.8 80.2L556.0 78.8L556.2 77.4L556.4 76.0L556.5 74.6L556.7 73.1L556.9 71.7L557.1 70.2L557.3 68.8L557.5 67.4L557.7 65.9L557.9 64.5L558.1 63.1L558.3 61.7L558.5 60.3L558.7 58.9L558.9 57.5L559.1 56.2L559.3 54.8L559.5 53.5L559.7 52.2L559.9 50.9L560.1 49.6L560.3 48.3L560.5 47.1L560.7 45.9L560.9 44.7L561.1 43.6L561.3 42.4L561.5 41.3L561.7 40.3L561.9 39.2L562.1 38.2L562.3 37.3L562.5 36.3L562.7 35.4L562.9 34.5L563.1 33.7L563.3 32.9L563.5 32.1L563.7 31.4L563.9 30.7L564.1 30.1L564.2 29.5L564.4 28.9L564.6 28.4L564.8 27.9L565.0 27.5L565.2 27.1L565.4 26.7L565.6 26.4L565.8 26.2L566.0 25.9L566.2 25.8L566.4 25.6L566.6 25.5L566.8 25.5L567.0 25.5L567.2 25.6L567.4 25.7L567.6 25.8L567.8 26.0L568.0 26.2L568.2 26.5L568.4 26.8L568.6 27.2L568.8 27.6L569.0 28.0L569.2 28.5L569.4 29.0L569.6 29.6L569.8 30.2L570.0 30.9L570.2 31.6L570.4 32.3L570.6 33.1L570.8 33.9L571.0 34.7L571.2 35.6L571.4 36.5L571.6 37.5L571.7 38.4L571.9 39.5L572.1 40.5L572.3 41.6L572.5 42.7L572.7 43.8L572.9 45.0L573.1 46.2L573.3 47.4L573.5 48.6L573.7 49.9L573.9 51.2L574.1 52.5L574.3 53.8L574.5 55.1L574.7 56.5L574.9 57.8L575.1 59.2L575.3 60.6L575.5 62.0L575.7 63.4L575.9 64.8L576.1 66.3L576.3 67.7L576.5 69.1L576.7 70.6L576.9 72.0L577.1 73.4L577.3 74.9L577.5 76.3L577.7 77.7L577.9 79.1L578.1 80.6L578.3 82.0L578.5 83.4L578.7 84.7L578.9 86.1L579.1 87.5L579.2 88.8L579.4 90.1L579.6 91.4L579.8 92.7L580.0 94.0L580.2 95.2L580.4 96.5L580.6 97.6L580.8 98.8L581.0 100.0L581.2 101.1L581.4 102.2L581.6 103.2L581.8 104.2L582.0 105.2L582.2 106.2L582.4 107.1L582.6 108.0L582.8 108.9L583.0 109.7L583.2 110.5L583.4 111.2L583.6 111.9L583.8 112.6L584.0 113.2L584.2 113.8L584.4 114.3L584.6 114.8L584.8 115.3L585.0 115.7L585.2 116.1L585.4 116.4L585.6 116.7L585.8 117.0L586.0 117.2L586.2 117.3L586.4 117.4L586.6 117.5L586.7 117.5L586.9 117.5L587.1 117.4L587.3 117.3L587.5 117.1L587.7 116.9L587.9 116.7L588.1 116.4L588.3 116.0L588.5 115.7L588.7 115.2L588.9 114.8L589.1 114.3L589.3 113.7L589.5 113.1L589.7 112.5L589.9 111.8L590.1 111.1L590.3 110.4L590.5 109.6L590.7 108.7L590.9 107.9L591.1 107.0L591.3 106.0L591.5 105.1L591.7 104.1L591.9 103.1L592.1 102.0L592.3 100.9L592.5 99.8L592.7 98.6L592.9 97.5L593.1 96.3L593.3 95.0L593.5 93.8L593.7 92.5L593.9 91.2L594.1 89.9L594.2 88.6L594.4 87.3L594.6 85.9L594.8 84.5L595.0 83.1L595.2 81.7L595.4 80.3L595.6 78.9L595.8 77.5L596.0 76.1L596.2 74.6L596.4 73.2L596.6 71.8L596.8 70.3L597.0 68.9L597.2 67.5L597.4 66.0L597.6 64.6L597.8 63.2L598.0 61.8L598.2 60.4L598.4 59.0L598.6 57.6L598.8 56.2L599.0 54.9L599.2 53.6L599.4 52.3L599.6 51.0L599.8 49.7L600.0 48.4L600.2 47.2L600.4 46.0L600.6 44.8L600.8 43.6L601.0 42.5L601.2 41.4L601.4 40.3L601.6 39.3L601.7 38.3L601.9 37.3L602.1 36.4L602.3 35.5L602.5 34.6L602.7 33.7L602.9 32.9L603.1 32.2L603.3 31.4L603.5 30.8L603.7 30.1L603.9 29.5L604.1 28.9L604.3 28.4L604.5 27.9L604.7 27.5L604.9 27.1L605.1 26.7L605.3 26.4L605.5 26.2L605.7 25.9L605.9 25.8L606.1 25.6L606.3 25.5L606.5 25.5L606.7 25.5L606.9 25.6L607.1 25.6L607.3 25.8L607.5 26.0L607.7 26.2L607.9 26.5L608.1 26.8L608.3 27.1L608.5 27.5L608.7 28.0L608.9 28.5L609.1 29.0L609.2 29.6L609.4 30.2L609.6 30.8L609.8 31.5L610.0 32.2L610.2 33.0L610.4 33.8L610.6 34.7L610.8 35.5L611.0 36.5L611.2 37.4L611.4 38.4L611.6 39.4L611.8 40.4L612.0 41.5L612.2 42.6L612.4 43.8L612.6 44.9L612.8 46.1L613.0 47.3L613.2 48.5L613.4 49.8L613.6 51.1L613.8 52.4L614.0 53.7L614.2 55.0L614.4 56.4L614.6 57.7L614.8 59.1L615.0 60.5L615.2 61.9L615.4 63.3L615.6 64.7L615.8 66.2L616.0 67.6L616.2 69.0L616.4 70.5L616.6 71.9L616.7 73.3L616.9 74.8L617.1 76.2L617.3 77.6L617.5 79.1L617.7 80.5L617.9 81.9L618.1 83.3L618.3 84.7L618.5 86.0L618.7 87.4L618.9 88.7L619.1 90.1L619.3 91.4L619.5 92.6L619.7 93.9L619.9 95.2L620.1 96.4L620.3 97.6L620.5 98.7L620.7 99.9L620.9 101.0L621.1 102.1L621.3 103.2L621.5 104.2L621.7 105.2L621.9 106.1L622.1 107.1L622.3 108.0L622.5 108.8L622.7 109.6L622.9 110.4L623.1 111.2L623.3 111.9L623.5 112.5L623.7 113.2L623.9 113.8L624.1 114.3L624.2 114.8L624.4 115.3L624.6 115.7L624.8 116.1L625.0 116.4L625.2 116.7L625.4 116.9L625.6 117.1L625.8 117.3L626.0 117.4L626.2 117.5L626.4 117.5L626.6 117.5L626.8 117.4L627.0 117.3L627.2 117.1L627.4 116.9L627.6 116.7L627.8 116.4L628.0 116.1L628.2 115.7L628.4 115.3L628.6 114.8L628.8 114.3L629.0 113.7L629.2 113.2L629.4 112.5L629.6 111.9L629.8 111.1L630.0 110.4L630.2 109.6L630.4 108.8L630.6 107.9L630.8 107.0L631.0 106.1L631.2 105.1L631.4 104.1L631.6 103.1L631.7 102.1L631.9 101.0L632.1 99.8L632.3 98.7L632.5 97.5L632.7 96.3L632.9 95.1L633.1 93.9L633.3 92.6L633.5 91.3L633.7 90.0L633.9 88.7L634.1 87.3L634.3 86.0L634.5 84.6L634.7 83.2L634.9 81.8L635.1 80.4L635.3 79.0L635.5 77.6" fill="none" stroke="#d66a6e" stroke-width="0.95"/>
<path d="M477.6 74.0L477.8 73.0L478.0 71.9L478.2 70.9L478.4 70.0L478.6 69.1L478.8 68.3L479.0 67.7L479.2 67.2L479.4 66.8L479.6 66.5L479.8 66.4L480.0 66.5L480.2 66.7L480.4 67.0L480.6 67.4L480.8 68.0L481.0 68.6L481.2 69.3L481.4 70.1L481.5 70.9L481.7 71.7L481.9 72.6L482.1 73.3L482.3 74.1L482.5 74.7L482.7 75.3L482.9 75.7L483.1 76.1L483.3 76.3L483.5 76.4L483.7 76.3L483.9 76.1L484.1 75.7L484.3 75.2L484.5 74.6L484.7 73.9L484.9 73.1L485.1 72.2L485.3 71.2L485.5 70.2L485.7 69.2L485.9 68.2L486.1 67.2L486.3 66.3L486.5 65.4L486.7 64.6L486.9 63.9L487.1 63.4L487.3 63.0L487.5 62.7L487.7 62.5L487.9 62.6L488.1 62.7L488.3 63.0L488.5 63.5L488.7 64.1L488.9 64.8L489.0 65.6L489.2 66.4L489.4 67.4L489.6 68.3L489.8 69.3L490.0 70.3L490.2 71.3L490.4 72.2L490.6 73.0L490.8 73.8L491.0 74.4L491.2 74.9L491.4 75.4L491.6 75.6L491.8 75.7L492.0 75.7L492.2 75.6L492.4 75.3L492.6 74.9L492.8 74.4L493.0 73.8L493.2 73.1L493.4 72.3L493.6 71.5L493.8 70.7L494.0 69.9L494.2 69.1L494.4 68.4L494.6 67.7L494.8 67.1L495.0 66.6L495.2 66.3L495.4 66.0L495.6 66.0L495.8 66.0L496.0 66.2L496.2 66.5L496.4 67.0L496.5 67.7L496.7 68.4L496.9 69.3L497.1 70.2L497.3 71.2L497.5 72.3L497.7 73.4L497.9 74.6L498.1 75.7L498.3 76.7L498.5 77.8L498.7 78.7L498.9 79.6L499.1 80.3L499.3 81.0L499.5 81.5L499.7 81.8L499.9 82.0L500.1 82.1L500.3 82.0L500.5 81.8L500.7 81.4L500.9 80.9L501.1 80.3L501.3 79.7L501.5 78.9L501.7 78.1L501.9 77.3L502.1 76.5L502.3 75.7L502.5 75.0L502.7 74.3L502.9 73.6L503.1 73.1L503.3 72.7L503.5 72.4L503.7 72.2L503.9 72.2L504.0 72.3L504.2 72.6L504.4 73.0L504.6 73.5L504.8 74.1L505.0 74.9L505.2 75.7L505.4 76.6L505.6 77.6L505.8 78.5L506.0 79.5L506.2 80.5L506.4 81.4L506.6 82.3L506.8 83.0L507.0 83.7L507.2 84.3L507.4 84.7L507.6 85.0L507.8 85.2L508.0 85.2L508.2 85.0L508.4 84.8L508.6 84.3L508.8 83.7L509.0 83.0L509.2 82.2L509.4 81.3L509.6 80.4L509.8 79.4L510.0 78.3L510.2 77.3L510.4 76.2L510.6 75.2L510.8 74.3L511.0 73.4L511.2 72.7L511.4 72.0L511.5 71.5L511.7 71.1L511.9 70.8L512.1 70.7L512.3 70.7L512.5 70.9L512.7 71.1L512.9 71.5L513.1 72.1L513.3 72.6L513.5 73.3L513.7 74.0L513.9 74.8L514.1 75.5L514.3 76.3L514.5 77.0L514.7 77.6L514.9 78.2L515.1 78.7L515.3 79.1L515.5 79.3L515.7 79.4L515.9 79.4L516.1 79.2L516.3 78.9L516.5 78.5L516.7 77.8L516.9 77.1L517.1 76.3L517.3 75.3L517.5 74.3L517.7 73.2L517.9 72.1L518.1 70.9L518.3 69.7L518.5 68.6L518.7 67.5L518.9 66.5L519.0 65.5L519.2 64.7L519.4 63.9L519.6 63.3L519.8 62.9L520.0 62.6L520.2 62.4L520.4 62.4L520.6 62.5L520.8 62.8L521.0 63.2L521.2 63.7L521.4 64.3L521.6 65.0L521.8 65.7L522.0 66.5L522.2 67.3L522.4 68.0L522.6 68.8L522.8 69.5L523.0 70.2L523.2 70.7L523.4 71.2L523.6 71.5L523.8 71.7L524.0 71.8L524.2 71.7L524.4 71.5L524.6 71.2L524.8 70.7L525.0 70.2L525.2 69.5L525.4 68.7L525.6 67.8L525.8 66.9L526.0 65.9L526.2 64.9L526.4 63.9L526.5 63.0L526.7 62.0L526.9 61.2L527.1 60.5L527.3 59.8L527.5 59.3L527.7 58.9L527.9 58.7L528.1 58.6L528.3 58.7L528.5 58.9L528.7 59.2L528.9 59.7L529.1 60.4L529.3 61.1L529.5 61.9L529.7 62.9L529.9 63.9L530.1 64.9L530.3 65.9L530.5 67.0L530.7 68.0L530.9 69.0L531.1 69.9L531.3 70.7L531.5 71.4L531.7 72.0L531.9 72.5L532.1 72.8L532.3 73.0L532.5 73.0L532.7 72.9L532.9 72.7L533.1 72.4L533.3 71.9L533.5 71.4L533.7 70.7L533.9 70.0L534.0 69.3L534.2 68.6L534.4 67.8L534.6 67.1L534.8 66.4L535.0 65.8L535.2 65.2L535.4 64.8L535.6 64.5L535.8 64.3L536.0 64.2L536.2 64.3L536.4 64.6L536.6 64.9L536.8 65.5L537.0 66.1L537.2 66.9L537.4 67.8L537.6 68.8L537.8 69.9L538.0 71.0L538.2 72.1L538.4 73.3L538.6 74.4L538.8 75.5L539.0 76.6L539.2 77.6L539.4 78.5L539.6 79.3L539.8 79.9L540.0 80.4L540.2 80.8L540.4 81.1L540.6 81.1L540.8 81.1L541.0 80.9L541.2 80.5L541.4 80.1L541.5 79.5L541.7 78.9L541.9 78.2L542.1 77.4L542.3 76.6L542.5 75.8L542.7 75.0L542.9 74.2L543.1 73.6L543.3 72.9L543.5 72.4L543.7 72.0L543.9 71.7L544.1 71.5L544.3 71.5L544.5 71.6L544.7 71.9L544.9 72.3L545.1 72.8L545.3 73.4L545.5 74.2L545.7 75.0L545.9 75.9L546.1 76.8L546.3 77.8L546.5 78.7L546.7 79.7L546.9 80.6L547.1 81.5L547.3 82.3L547.5 82.9L547.7 83.5L547.9 83.9L548.1 84.2L548.3 84.4L548.5 84.4L548.7 84.3L548.9 84.0L549.0 83.5L549.2 82.9L549.4 82.2L549.6 81.4L549.8 80.5L550.0 79.6L550.2 78.5L550.4 77.5L550.6 76.4L550.8 75.4L551.0 74.4L551.2 73.4L551.4 72.5L551.6 71.8L551.8 71.1L552.0 70.5L552.2 70.1L552.4 69.8L552.6 69.7L552.8 69.7L553.0 69.8L553.2 70.1L553.4 70.5L553.6 71.0L553.8 71.6L554.0 72.2L554.2 73.0L554.4 73.7L554.6 74.4L554.8 75.2L555.0 75.9L555.2 76.5L555.4 77.1L555.6 77.6L555.8 78.0L556.0 78.2L556.2 78.4L556.4 78.3L556.5 78.2L556.7 77.9L556.9 77.4L557.1 76.8L557.3 76.1L557.5 75.2L557.7 74.3L557.9 73.3L558.1 72.2L558.3 71.1L558.5 69.9L558.7 68.7L558.9 67.6L559.1 66.5L559.3 65.5L559.5 64.6L559.7 63.7L559.9 63.0L560.1 62.4L560.3 62.0L560.5 61.6L560.7 61.5L560.9 61.5L561.1 61.6L561.3 61.9L561.5 62.3L561.7 62.8L561.9 63.4L562.1 64.1L562.3 64.9L562.5 65.7L562.7 66.5L562.9 67.3L563.1 68.1L563.3 68.8L563.5 69.5L563.7 70.1L563.9 70.6L564.1 70.9L564.2 71.2L564.4 71.3L564.6 71.3L564.8 71.1L565.0 70.8L565.2 70.3L565.4 69.8L565.6 69.1L565.8 68.3L566.0 67.5L566.2 66.6L566.4 65.7L566.6 64.7L566.8 63.7L567.0 62.8L567.2 61.9L567.4 61.1L567.6 60.4L567.8 59.8L568.0 59.3L568.2 58.9L568.4 58.7L568.6 58.7L568.8 58.7L569.0 59.0L569.2 59.4L569.4 59.9L569.6 60.5L569.8 61.3L570.0 62.2L570.2 63.1L570.4 64.1L570.6 65.2L570.8 66.3L571.0 67.3L571.2 68.4L571.4 69.4L571.6 70.3L571.7 71.1L571.9 71.9L572.1 72.5L572.3 73.0L572.5 73.3L572.7 73.6L572.9 73.6L573.1 73.6L573.3 73.4L573.5 73.1L573.7 72.6L573.9 72.1L574.1 71.5L574.3 70.8L574.5 70.1L574.7 69.3L574.9 68.6L575.1 67.9L575.3 67.2L575.5 66.6L575.7 66.0L575.9 65.6L576.1 65.3L576.3 65.1L576.5 65.1L576.7 65.2L576.9 65.4L577.1 65.8L577.3 66.3L577.5 67.0L577.7 67.7L577.9 68.6L578.1 69.6L578.3 70.7L578.5 71.8L578.7 72.9L578.9 74.1L579.1 75.2L579.2 76.3L579.4 77.4L579.6 78.4L579.8 79.3L580.0 80.0L580.2 80.7L580.4 81.2L580.6 81.6L580.8 81.8L581.0 81.9L581.2 81.8L581.4 81.6L581.6 81.3L581.8 80.8L582.0 80.2L582.2 79.5L582.4 78.8L582.6 78.0L582.8 77.2L583.0 76.4L583.2 75.6L583.4 74.8L583.6 74.1L583.8 73.4L584.0 72.9L584.2 72.4L584.4 72.1L584.6 71.9L584.8 71.9L585.0 72.0L585.2 72.2L585.4 72.5L585.6 73.0L585.8 73.6L586.0 74.3L586.2 75.1L586.4 76.0L586.6 76.9L586.7 77.8L586.9 78.8L587.1 79.7L587.3 80.6L587.5 81.4L587.7 82.2L587.9 82.8L588.1 83.4L588.3 83.8L588.5 84.1L588.7 84.2L588.9 84.2L589.1 84.0L589.3 83.7L589.5 83.2L589.7 82.6L589.9 81.9L590.1 81.1L590.3 80.2L590.5 79.2L590.7 78.1L590.9 77.1L591.1 76.0L591.3 74.9L591.5 73.9L591.7 72.9L591.9 72.0L592.1 71.2L592.3 70.5L592.5 69.9L592.7 69.5L592.9 69.2L593.1 69.0L593.3 69.0L593.5 69.1L593.7 69.4L593.9 69.8L594.1 70.2L594.2 70.8L594.4 71.4L594.6 72.1L594.8 72.9L595.0 73.6L595.2 74.3L595.4 75.0L595.6 75.7L595.8 76.3L596.0 76.7L596.2 77.1L596.4 77.4L596.6 77.5L596.8 77.5L597.0 77.3L597.2 77.0L597.4 76.6L597.6 76.0L597.8 75.3L598.0 74.4L598.2 73.5L598.4 72.5L598.6 71.4L598.8 70.3L599.0 69.1L599.2 68.0L599.4 66.8L599.6 65.8L599.8 64.7L600.0 63.8L600.2 63.0L600.4 62.3L600.6 61.7L600.8 61.2L601.0 61.0L601.2 60.8L601.4 60.8L601.6 61.0L601.7 61.2L601.9 61.7L602.1 62.2L602.3 62.8L602.5 63.5L602.7 64.3L602.9 65.1L603.1 66.0L603.3 66.8L603.5 67.6L603.7 68.4L603.9 69.1L604.1 69.7L604.3 70.2L604.5 70.6L604.7 70.9L604.9 71.0L605.1 71.0L605.3 70.9L605.5 70.6L605.7 70.2L605.9 69.7L606.1 69.0L606.3 68.3L606.5 67.5L606.7 66.6L606.9 65.7L607.1 64.7L607.3 63.8L607.5 62.9L607.7 62.1L607.9 61.3L608.1 60.6L608.3 60.0L608.5 59.5L608.7 59.2L608.9 59.0L609.1 58.9L609.2 59.0L609.4 59.3L609.6 59.7L609.8 60.2L610.0 60.9L610.2 61.7L610.4 62.6L610.6 63.5L610.8 64.6L611.0 65.6L611.2 66.7L611.4 67.8L611.6 68.9L611.8 69.9L612.0 70.9L612.2 71.7L612.4 72.5L612.6 73.1L612.8 73.6L613.0 74.0L613.2 74.3L613.4 74.4L613.6 74.3L613.8 74.1L614.0 73.8L614.2 73.4L614.4 72.9L614.6 72.3L614.8 71.6L615.0 70.9L615.2 70.2L615.4 69.5L615.6 68.7L615.8 68.1L616.0 67.4L616.2 66.9L616.4 66.5L616.6 66.2L616.7 66.0L616.9 65.9L617.1 66.0L617.3 66.2L617.5 66.6L617.7 67.1L617.9 67.8L618.1 68.5L618.3 69.4L618.5 70.4L618.7 71.4L618.9 72.5L619.1 73.7L619.3 74.8L619.5 76.0L619.7 77.1L619.9 78.1L620.1 79.1L620.3 80.0L620.5 80.7L620.7 81.4L620.9 81.9L621.1 82.2L621.3 82.5L621.5 82.5L621.7 82.4L621.9 82.2L622.1 81.9L622.3 81.4L622.5 80.8L622.7 80.1L622.9 79.3L623.1 78.5L623.3 77.7L623.5 76.8L623.7 76.0L623.9 75.2L624.1 74.5L624.2 73.8L624.4 73.2L624.6 72.7L624.8 72.4L625.0 72.2L625.2 72.1L625.4 72.1L625.6 72.3L625.8 72.6L626.0 73.1L626.2 73.7L626.4 74.3L626.6 75.1L626.8 75.9L627.0 76.8L627.2 77.7L627.4 78.6L627.6 79.6L627.8 80.4L628.0 81.2L628.2 82.0L628.4 82.6L628.6 83.1L628.8 83.5L629.0 83.8L629.2 83.9L629.4 83.9L629.6 83.7L629.8 83.3L630.0 82.9L630.2 82.2L630.4 81.5L630.6 80.7L630.8 79.7L631.0 78.7L631.2 77.6L631.4 76.5L631.6 75.4L631.7 74.3L631.9 73.3L632.1 72.3L632.3 71.4L632.5 70.6L632.7 69.8L632.9 69.2L633.1 68.8L633.3 68.5L633.5 68.3L633.7 68.3L633.9 68.4L634.1 68.6L634.3 68.9L634.5 69.4L634.7 70.0L634.9 70.6L635.1 71.3L635.3 72.0L635.5 72.7" fill="none" stroke="#363636" stroke-width="1.2"/>
<path d="M477.60,2.50 L477.60,129.00 L635.50,129.00" fill="none" stroke="#767676" stroke-width="1.45"/>
<line x1="477.60" y1="129.00" x2="477.60" y2="131.20" stroke="#767676" stroke-width="1"/>
<text transform="translate(477.60,140.05) scale(0.870,1)" text-anchor="middle" class="tk" style="font-size:9.30px">0</text>
<line x1="509.18" y1="129.00" x2="509.18" y2="131.20" stroke="#767676" stroke-width="1"/>
<text transform="translate(509.18,140.05) scale(0.870,1)" text-anchor="middle" class="tk" style="font-size:9.30px">10</text>
<line x1="540.76" y1="129.00" x2="540.76" y2="131.20" stroke="#767676" stroke-width="1"/>
<text transform="translate(540.76,140.05) scale(0.870,1)" text-anchor="middle" class="tk" style="font-size:9.30px">20</text>
<line x1="572.34" y1="129.00" x2="572.34" y2="131.20" stroke="#767676" stroke-width="1"/>
<text transform="translate(572.34,140.05) scale(0.870,1)" text-anchor="middle" class="tk" style="font-size:9.30px">30</text>
<line x1="603.92" y1="129.00" x2="603.92" y2="131.20" stroke="#767676" stroke-width="1"/>
<text transform="translate(603.92,140.05) scale(0.870,1)" text-anchor="middle" class="tk" style="font-size:9.30px">40</text>
<line x1="635.50" y1="129.00" x2="635.50" y2="131.20" stroke="#767676" stroke-width="1"/>
<text transform="translate(635.50,140.05) scale(0.870,1)" text-anchor="middle" class="tk" style="font-size:9.30px">50</text>
<line x1="475.40" y1="117.50" x2="477.60" y2="117.50" stroke="#767676" stroke-width="1"/>
<text transform="translate(473.30,120.95) scale(0.870,1)" text-anchor="end" class="tk" style="font-size:9.30px">−200</text>
<line x1="475.40" y1="94.50" x2="477.60" y2="94.50" stroke="#767676" stroke-width="1"/>
<text transform="translate(473.30,97.95) scale(0.870,1)" text-anchor="end" class="tk" style="font-size:9.30px">−100</text>
<line x1="475.40" y1="71.50" x2="477.60" y2="71.50" stroke="#767676" stroke-width="1"/>
<text transform="translate(473.30,74.95) scale(0.870,1)" text-anchor="end" class="tk" style="font-size:9.30px">0</text>
<line x1="475.40" y1="48.50" x2="477.60" y2="48.50" stroke="#767676" stroke-width="1"/>
<text transform="translate(473.30,51.95) scale(0.870,1)" text-anchor="end" class="tk" style="font-size:9.30px">100</text>
<line x1="475.40" y1="25.50" x2="477.60" y2="25.50" stroke="#767676" stroke-width="1"/>
<text transform="translate(473.30,28.95) scale(0.870,1)" text-anchor="end" class="tk" style="font-size:9.30px">200</text>
<line x1="475.40" y1="2.50" x2="477.60" y2="2.50" stroke="#767676" stroke-width="1"/>
<text transform="translate(473.30,5.95) scale(0.870,1)" text-anchor="end" class="tk" style="font-size:9.30px">300</text>
<text transform="translate(556.55,149.80) scale(0.960,1)" text-anchor="middle" class="lb">Time (s)</text>
<text transform="translate(452.20,65.75) scale(0.960,1) rotate(-90)" text-anchor="middle" class="lb" style="font-size:9.70px">Input Force (N)</text>
<rect x="486.80" y="6.30" width="145.70" height="11.70" rx="1.5" fill="#fff" stroke="#d8d8d8" stroke-width="0.9"/>
<line x1="489.30" y1="11.55" x2="503.80" y2="11.55" stroke="#d66a6e" stroke-width="1.1"/>
<text transform="translate(509.30,14.35) scale(0.2500,0.2500)" class="lg" style="font-size:28.80px">Applied</text>
<line x1="546.30" y1="11.55" x2="560.50" y2="11.55" stroke="#333" stroke-width="1.1"/>
<text transform="translate(566.30,14.35) scale(0.2500,0.2500)" class="lg" style="font-size:28.80px">PINNs</text>
<rect x="599.30" y="9.25" width="14.50" height="4.6" fill="#cacaca"/>
<text transform="translate(618.80,14.35) scale(0.2500)" class="lg" style="font-size:28.80px;stroke-width:0.8px">2</text>
<text transform="translate(624.70,14.35) scale(0.2500)" class="lg" font-weight="bold" font-style="italic" style="font-size:28.80px">σ</text>
<path d="M625.90,9.85 l1.3,-1.3 l1.3,1.3" fill="none" stroke="#111" stroke-width="0.75"/>
<path d="M42.2 249.2L42.4 244.2L42.6 239.3L42.7 234.6L42.9 230.3L43.1 226.5L43.3 223.2L43.5 220.5L43.7 218.6L43.8 217.4L44.0 217.0L44.2 217.4L44.4 218.6L44.6 220.6L44.8 223.3L44.9 226.7L45.1 230.7L45.3 235.2L45.5 240.1L45.7 245.3L45.9 250.7L46.0 256.2L46.2 261.5L46.4 266.7L46.6 271.6L46.8 276.1L47.0 280.0L47.1 283.4L47.3 286.0L47.5 288.0L47.7 289.1L47.9 289.4L48.1 289.0L48.2 287.7L48.4 285.6L48.6 282.9L48.8 279.5L49.0 275.5L49.1 271.1L49.3 266.3L49.5 261.2L49.7 256.1L49.9 250.9L50.1 245.8L50.2 240.9L50.4 236.5L50.6 232.4L50.8 228.9L51.0 226.1L51.2 223.9L51.3 222.6L51.5 221.9L51.7 222.1L51.9 223.1L52.1 224.9L52.3 227.3L52.4 230.5L52.6 234.2L52.8 238.5L53.0 243.1L53.2 248.1L53.4 253.2L53.5 258.4L53.7 263.5L53.9 268.5L54.1 273.1L54.3 277.3L54.5 281.0L54.6 284.1L54.8 286.5L55.0 288.1L55.2 289.0L55.4 289.1L55.5 288.4L55.7 286.8L55.9 284.5L56.1 281.5L56.3 277.9L56.5 273.7L56.6 269.0L56.8 263.9L57.0 258.6L57.2 253.2L57.4 247.7L57.6 242.4L57.7 237.3L57.9 232.6L58.1 228.3L58.3 224.6L58.5 221.5L58.7 219.2L58.8 217.5L59.0 216.7L59.2 216.7L59.4 217.5L59.6 219.0L59.8 221.3L59.9 224.3L60.1 227.8L60.3 231.9L60.5 236.4L60.7 241.2L60.9 246.2L61.0 251.2L61.2 256.2L61.4 261.0L61.6 265.5L61.8 269.6L62.0 273.2L62.1 276.2L62.3 278.5L62.5 280.1L62.7 280.9L62.9 280.9L63.0 280.1L63.2 278.5L63.4 276.2L63.6 273.1L63.8 269.5L64.0 265.2L64.1 260.5L64.3 255.5L64.5 250.2L64.7 244.8L64.9 239.3L65.1 234.1L65.2 229.0L65.4 224.3L65.6 220.1L65.8 216.4L66.0 213.4L66.2 211.1L66.3 209.6L66.5 208.8L66.7 208.9L66.9 209.8L67.1 211.4L67.3 213.8L67.4 216.9L67.6 220.6L67.8 224.8L68.0 229.5L68.2 234.4L68.4 239.6L68.5 244.8L68.7 249.9L68.9 254.9L69.1 259.6L69.3 263.9L69.4 267.7L69.6 270.9L69.8 273.4L70.0 275.3L70.2 276.3L70.4 276.5L70.5 276.0L70.7 274.6L70.9 272.5L71.1 269.8L71.3 266.3L71.5 262.3L71.6 257.9L71.8 253.1L72.0 248.0L72.2 242.9L72.4 237.7L72.6 232.7L72.7 227.9L72.9 223.5L73.1 219.5L73.3 216.1L73.5 213.4L73.7 211.3L73.8 210.0L74.0 209.5L74.2 209.9L74.4 211.0L74.6 212.9L74.8 215.6L74.9 218.9L75.1 222.9L75.3 227.3L75.5 232.2L75.7 237.4L75.8 242.8L76.0 248.2L76.2 253.6L76.4 258.9L76.6 263.8L76.8 268.3L76.9 272.4L77.1 275.8L77.3 278.5L77.5 280.6L77.7 281.8L77.9 282.3L78.0 281.9L78.2 280.8L78.4 278.8L78.6 276.2L78.8 273.0L79.0 269.2L79.1 264.9L79.3 260.2L79.5 255.3L79.7 250.3L79.9 245.3L80.1 240.3L80.2 235.7L80.4 231.3L80.6 227.5L80.8 224.2L81.0 221.5L81.2 219.5L81.3 218.3L81.5 217.8L81.7 218.2L81.9 219.4L82.1 221.3L82.2 224.0L82.4 227.3L82.6 231.3L82.8 235.8L83.0 240.6L83.2 245.8L83.3 251.2L83.5 256.6L83.7 262.0L83.9 267.1L84.1 272.0L84.3 276.5L84.4 280.4L84.6 283.8L84.8 286.5L85.0 288.4L85.2 289.5L85.4 289.9L85.5 289.4L85.7 288.2L85.9 286.1L86.1 283.4L86.3 280.0L86.5 276.0L86.6 271.6L86.8 266.7L87.0 261.7L87.2 256.5L87.4 251.2L87.6 246.1L87.7 241.3L87.9 236.7L88.1 232.6L88.3 229.1L88.5 226.2L88.7 224.0L88.8 222.5L89.0 221.9L89.2 222.0L89.4 222.9L89.6 224.6L89.7 227.0L89.9 230.1L90.1 233.8L90.3 238.0L90.5 242.6L90.7 247.6L90.8 252.7L91.0 257.8L91.2 262.9L91.4 267.9L91.6 272.5L91.8 276.7L91.9 280.4L92.1 283.5L92.3 285.9L92.5 287.5L92.7 288.4L92.9 288.5L93.0 287.8L93.2 286.3L93.4 284.0L93.6 281.0L93.8 277.3L94.0 273.1L94.1 268.4L94.3 263.4L94.5 258.1L94.7 252.6L94.9 247.2L95.1 241.8L95.2 236.7L95.4 232.0L95.6 227.7L95.8 223.9L96.0 220.8L96.1 218.4L96.3 216.7L96.5 215.9L96.7 215.8L96.9 216.5L97.1 218.1L97.2 220.3L97.4 223.2L97.6 226.8L97.8 230.8L98.0 235.3L98.2 240.1L98.3 245.1L98.5 250.1L98.7 255.1L98.9 259.9L99.1 264.5L99.3 268.6L99.4 272.2L99.6 275.2L99.8 277.6L100.0 279.2L100.2 280.1L100.4 280.1L100.5 279.4L100.7 277.8L100.9 275.5L101.1 272.5L101.3 268.9L101.5 264.7L101.6 260.0L101.8 255.0L102.0 249.7L102.2 244.3L102.4 238.9L102.5 233.7L102.7 228.6L102.9 223.9L103.1 219.7L103.3 216.1L103.5 213.0L103.6 210.7L103.8 209.2L104.0 208.4L104.2 208.5L104.4 209.3L104.6 211.0L104.7 213.4L104.9 216.5L105.1 220.2L105.3 224.4L105.5 229.1L105.7 234.0L105.8 239.2L106.0 244.4L106.2 249.6L106.4 254.6L106.6 259.4L106.8 263.7L106.9 267.6L107.1 270.8L107.3 273.4L107.5 275.3L107.7 276.4L107.9 276.7L108.0 276.2L108.2 274.9L108.4 272.9L108.6 270.1L108.8 266.7L108.9 262.8L109.1 258.4L109.3 253.6L109.5 248.6L109.7 243.5L109.9 238.4L110.0 233.3L110.2 228.6L110.4 224.1L110.6 220.2L110.8 216.8L111.0 214.0L111.1 212.0L111.3 210.7L111.5 210.2L111.7 210.5L111.9 211.6L112.1 213.5L112.2 216.1L112.4 219.5L112.6 223.4L112.8 227.9L113.0 232.8L113.2 238.0L113.3 243.4L113.5 248.8L113.7 254.2L113.9 259.5L114.1 264.4L114.3 269.0L114.4 273.1L114.6 276.5L114.8 279.3L115.0 281.4L115.2 282.6L115.4 283.1L115.5 282.8L115.7 281.7L115.9 279.8L116.1 277.2L116.3 274.0L116.4 270.2L116.6 265.9L116.8 261.3L117.0 256.4L117.2 251.4L117.4 246.3L117.5 241.4L117.7 236.7L117.9 232.3L118.1 228.5L118.3 225.1L118.5 222.4L118.6 220.4L118.8 219.1L119.0 218.6L119.2 218.9L119.4 220.1L119.6 222.0L119.7 224.6L119.9 227.9L120.1 231.8L120.3 236.2L120.5 241.1L120.7 246.2L120.8 251.6L121.0 257.0L121.2 262.3L121.4 267.5L121.6 272.4L121.8 276.8L121.9 280.8L122.1 284.1L122.3 286.8L122.5 288.7L122.7 289.9L122.8 290.2L123.0 289.8L123.2 288.5L123.4 286.5L123.6 283.7L123.8 280.3L123.9 276.4L124.1 271.9L124.3 267.1L124.5 262.0L124.7 256.8L124.9 251.5L125.0 246.4L125.2 241.5L125.4 236.9L125.6 232.8L125.8 229.2L126.0 226.2L126.1 223.9L126.3 222.4L126.5 221.7L126.7 221.8L126.9 222.6L127.1 224.3L127.2 226.6L127.4 229.7L127.6 233.3L127.8 237.5L128.0 242.1L128.2 247.0L128.3 252.0L128.5 257.2L128.7 262.2L128.9 267.2L129.1 271.8L129.2 276.0L129.4 279.7L129.6 282.8L129.8 285.2L130.0 286.9L130.2 287.8L130.3 287.9L130.5 287.2L130.7 285.7L130.9 283.4L131.1 280.4L131.3 276.8L131.4 272.5L131.6 267.9L131.8 262.8L132.0 257.5L132.2 252.0L132.4 246.6L132.5 241.2L132.7 236.1L132.9 231.3L133.1 227.0L133.3 223.2L133.5 220.1L133.6 217.6L133.8 215.9L134.0 215.0L134.2 214.9L134.4 215.6L134.6 217.1L134.7 219.3L134.9 222.2L135.1 225.8L135.3 229.8L135.5 234.3L135.6 239.0L135.8 244.0L136.0 249.1L136.2 254.1L136.4 258.9L136.6 263.5L136.7 267.6L136.9 271.3L137.1 274.3L137.3 276.7L137.5 278.4L137.7 279.3L137.8 279.4L138.0 278.7L138.2 277.2L138.4 275.0L138.6 272.0L138.8 268.4L138.9 264.2L139.1 259.6L139.3 254.6L139.5 249.4L139.7 244.0L139.9 238.6L140.0 233.4L140.2 228.3L140.4 223.6L140.6 219.4L140.8 215.8L141.0 212.7L141.1 210.4L141.3 208.9L141.5 208.1L141.7 208.2L141.9 209.0L142.0 210.7L142.2 213.1L142.4 216.2L142.6 219.9L142.8 224.1L143.0 228.8L143.1 233.7L143.3 238.9L143.5 244.2L143.7 249.4L143.9 254.5L144.1 259.3L144.2 263.6L144.4 267.5L144.6 270.8L144.8 273.5L145.0 275.4L145.2 276.6L145.3 276.9L145.5 276.5L145.7 275.3L145.9 273.3L146.1 270.6L146.3 267.3L146.4 263.4L146.6 259.0L146.8 254.3L147.0 249.3L147.2 244.2L147.4 239.1L147.5 234.1L147.7 229.3L147.9 224.9L148.1 220.9L148.3 217.5L148.5 214.8L148.6 212.7L148.8 211.4L149.0 210.9L149.2 211.2L149.4 212.3L149.5 214.2L149.7 216.8L149.9 220.1L150.1 224.0L150.3 228.5L150.5 233.4L150.6 238.6L150.8 244.0L151.0 249.4L151.2 254.9L151.4 260.1L151.6 265.1L151.7 269.7L151.9 273.8L152.1 277.3L152.3 280.1L152.5 282.2L152.7 283.5L152.8 284.0L153.0 283.7L153.2 282.6L153.4 280.8L153.6 278.2L153.8 275.0L153.9 271.2L154.1 267.0L154.3 262.3L154.5 257.4L154.7 252.4L154.9 247.4L155.0 242.4L155.2 237.7L155.4 233.3L155.6 229.4L155.8 226.0L155.9 223.2L156.1 221.2L156.3 219.9L156.5 219.3L156.7 219.6L156.9 220.7L157.0 222.5L157.2 225.1L157.4 228.4L157.6 232.3L157.8 236.6L158.0 241.4L158.1 246.6L158.3 251.9L158.5 257.3L158.7 262.6L158.9 267.7L159.1 272.6L159.2 277.1L159.4 281.0L159.6 284.4L159.8 287.0L160.0 289.0L160.2 290.1L160.3 290.5L160.5 290.0L160.7 288.8L160.9 286.8L161.1 284.0L161.3 280.6L161.4 276.6L161.6 272.2L161.8 267.3L162.0 262.2L162.2 257.0L162.3 251.7L162.5 246.5L162.7 241.5L162.9 236.9L163.1 232.8L163.3 229.1L163.4 226.1L163.6 223.8L163.8 222.2L164.0 221.4L164.2 221.4L164.4 222.2L164.5 223.8L164.7 226.1L164.9 229.1L165.1 232.7L165.3 236.9L165.5 241.4L165.6 246.2L165.8 251.3L166.0 256.4L166.2 261.5L166.4 266.4L166.6 271.0L166.7 275.2L166.9 278.9L167.1 282.0L167.3 284.4L167.5 286.1L167.7 287.0L167.8 287.1L168.0 286.5L168.2 285.0L168.4 282.7L168.6 279.7L168.7 276.1L168.9 271.9L169.1 267.2L169.3 262.2L169.5 256.9L169.7 251.4L169.8 245.9L170.0 240.6L170.2 235.4L170.4 230.6L170.6 226.3L170.8 222.5L170.9 219.3L171.1 216.8L171.3 215.1L171.5 214.2L171.7 214.0L171.9 214.7L172.0 216.2L172.2 218.4L172.4 221.2L172.6 224.7L172.8 228.8L173.0 233.2L173.1 238.0L173.3 243.0L173.5 248.0L173.7 253.1L173.9 257.9L174.1 262.5L174.2 266.7L174.4 270.4L174.6 273.5L174.8 275.9L175.0 277.6L175.2 278.6L175.3 278.7L175.5 278.1L175.7 276.6L175.9 274.4L176.1 271.5L176.2 268.0L176.4 263.9L176.6 259.3L176.8 254.3L177.0 249.1L177.2 243.7L177.3 238.4L177.5 233.1L177.7 228.1L177.9 223.5L178.1 219.2L178.3 215.6L178.4 212.6L178.6 210.2L178.8 208.7L179.0 207.9L179.2 208.0L179.4 208.8L179.5 210.5L179.7 212.9L179.9 215.9L180.1 219.6L180.3 223.9L180.5 228.6L180.6 233.6L180.8 238.8L181.0 244.1L181.2 249.3L181.4 254.4L181.6 259.2L181.7 263.7L181.9 267.6L182.1 271.0L182.3 273.7L182.5 275.6L182.6 276.9L182.8 277.3L183.0 276.9L183.2 275.7L183.4 273.8L183.6 271.2L183.7 267.9L183.9 264.0L184.1 259.7L184.3 255.0L184.5 250.1L184.7 245.0L184.8 239.9L185.0 234.9L185.2 230.1L185.4 225.7L185.6 221.8L185.8 218.3L185.9 215.6L186.1 213.5L186.3 212.2L186.5 211.6L186.7 211.9L186.9 213.0L187.0 214.9L187.2 217.5L187.4 220.8L187.6 224.7L187.8 229.1L188.0 234.0L188.1 239.2L188.3 244.6L188.5 250.1" fill="none" stroke="#3434f0" stroke-width="0.95"/>
<path d="M42.2 249.2L42.4 244.2L42.6 239.3L42.7 234.6L42.9 230.3L43.1 226.5L43.3 223.2L43.5 220.5L43.7 218.6L43.8 217.4L44.0 217.0L44.2 217.4L44.4 218.6L44.6 220.6L44.8 223.3L44.9 226.7L45.1 230.7L45.3 235.2L45.5 240.1L45.7 245.3L45.9 250.7L46.0 256.2L46.2 261.5L46.4 266.7L46.6 271.6L46.8 276.1L47.0 280.0L47.1 283.4L47.3 286.0L47.5 288.0L47.7 289.1L47.9 289.4L48.1 289.0L48.2 287.7L48.4 285.6L48.6 282.9L48.8 279.5L49.0 275.5L49.1 271.1L49.3 266.3L49.5 261.2L49.7 256.1L49.9 250.9L50.1 245.8L50.2 240.9L50.4 236.5L50.6 232.4L50.8 228.9L51.0 226.1L51.2 223.9L51.3 222.6L51.5 221.9L51.7 222.1L51.9 223.1L52.1 224.9L52.3 227.3L52.4 230.5L52.6 234.2L52.8 238.5L53.0 243.1L53.2 248.1L53.4 253.2L53.5 258.4L53.7 263.5L53.9 268.5L54.1 273.1L54.3 277.3L54.5 281.0L54.6 284.1L54.8 286.5L55.0 288.1L55.2 289.0L55.4 289.1L55.5 288.4L55.7 286.8L55.9 284.5L56.1 281.5L56.3 277.9L56.5 273.7L56.6 269.0L56.8 263.9L57.0 258.6L57.2 253.2L57.4 247.7L57.6 242.4L57.7 237.3L57.9 232.6L58.1 228.3L58.3 224.6L58.5 221.5L58.7 219.2L58.8 217.5L59.0 216.7L59.2 216.7L59.4 217.5L59.6 219.0L59.8 221.3L59.9 224.3L60.1 227.8L60.3 231.9L60.5 236.4L60.7 241.2L60.9 246.2L61.0 251.2L61.2 256.2L61.4 261.0L61.6 265.5L61.8 269.6L62.0 273.2L62.1 276.2L62.3 278.5L62.5 280.1L62.7 280.9L62.9 280.9L63.0 280.1L63.2 278.5L63.4 276.2L63.6 273.1L63.8 269.5L64.0 265.2L64.1 260.5L64.3 255.5L64.5 250.2L64.7 244.8L64.9 239.3L65.1 234.1L65.2 229.0L65.4 224.3L65.6 220.1L65.8 216.4L66.0 213.4L66.2 211.1L66.3 209.6L66.5 208.8L66.7 208.9L66.9 209.8L67.1 211.4L67.3 213.8L67.4 216.9L67.6 220.6L67.8 224.8L68.0 229.5L68.2 234.4L68.4 239.6L68.5 244.8L68.7 249.9L68.9 254.9L69.1 259.6L69.3 263.9L69.4 267.7L69.6 270.9L69.8 273.4L70.0 275.3L70.2 276.3L70.4 276.5L70.5 276.0L70.7 274.6L70.9 272.5L71.1 269.8L71.3 266.3L71.5 262.3L71.6 257.9L71.8 253.1L72.0 248.0L72.2 242.9L72.4 237.7L72.6 232.7L72.7 227.9L72.9 223.5L73.1 219.5L73.3 216.1L73.5 213.4L73.7 211.3L73.8 210.0L74.0 209.5L74.2 209.9L74.4 211.0L74.6 212.9L74.8 215.6L74.9 218.9L75.1 222.9L75.3 227.3L75.5 232.2L75.7 237.4L75.8 242.8L76.0 248.2L76.2 253.6L76.4 258.9L76.6 263.8L76.8 268.3L76.9 272.4L77.1 275.8L77.3 278.5L77.5 280.6L77.7 281.8L77.9 282.3L78.0 281.9L78.2 280.8L78.4 278.8L78.6 276.2L78.8 273.0L79.0 269.2L79.1 264.9L79.3 260.2L79.5 255.3L79.7 250.3L79.9 245.3L80.1 240.3L80.2 235.7L80.4 231.3L80.6 227.5L80.8 224.2L81.0 221.5L81.2 219.5L81.3 218.3L81.5 217.8L81.7 218.2L81.9 219.4L82.1 221.3L82.2 224.0L82.4 227.3L82.6 231.3L82.8 235.8L83.0 240.6L83.2 245.8L83.3 251.2L83.5 256.6L83.7 262.0L83.9 267.1L84.1 272.0L84.3 276.5L84.4 280.4L84.6 283.8L84.8 286.5L85.0 288.4L85.2 289.5L85.4 289.9L85.5 289.4L85.7 288.2L85.9 286.1L86.1 283.4L86.3 280.0L86.5 276.0L86.6 271.6L86.8 266.7L87.0 261.7L87.2 256.5L87.4 251.2L87.6 246.1L87.7 241.3L87.9 236.7L88.1 232.6L88.3 229.1L88.5 226.2L88.7 224.0L88.8 222.5L89.0 221.9L89.2 222.0L89.4 222.9L89.6 224.6L89.7 227.0L89.9 230.1L90.1 233.8L90.3 238.0L90.5 242.6L90.7 247.6L90.8 252.7L91.0 257.8L91.2 262.9L91.4 267.9L91.6 272.5L91.8 276.7L91.9 280.4L92.1 283.5L92.3 285.9L92.5 287.5L92.7 288.4L92.9 288.5L93.0 287.8L93.2 286.3L93.4 284.0L93.6 281.0L93.8 277.3L94.0 273.1L94.1 268.4L94.3 263.4L94.5 258.1L94.7 252.6L94.9 247.2L95.1 241.8L95.2 236.7L95.4 232.0L95.6 227.7L95.8 223.9L96.0 220.8L96.1 218.4L96.3 216.7L96.5 215.9L96.7 215.8L96.9 216.5L97.1 218.1L97.2 220.3L97.4 223.2L97.6 226.8L97.8 230.8L98.0 235.3L98.2 240.1L98.3 245.1L98.5 250.1L98.7 255.1L98.9 259.9L99.1 264.5L99.3 268.6L99.4 272.2L99.6 275.2L99.8 277.6L100.0 279.2L100.2 280.1L100.4 280.1L100.5 279.4L100.7 277.8L100.9 275.5L101.1 272.5L101.3 268.9L101.5 264.7L101.6 260.0L101.8 255.0L102.0 249.7L102.2 244.3L102.4 238.9L102.5 233.7L102.7 228.6L102.9 223.9L103.1 219.7L103.3 216.1L103.5 213.0L103.6 210.7L103.8 209.2L104.0 208.4L104.2 208.5L104.4 209.3L104.6 211.0L104.7 213.4L104.9 216.5L105.1 220.2L105.3 224.4L105.5 229.1L105.7 234.0L105.8 239.2L106.0 244.4L106.2 249.6L106.4 254.6L106.6 259.4L106.8 263.7L106.9 267.6L107.1 270.8L107.3 273.4L107.5 275.3L107.7 276.4L107.9 276.7L108.0 276.2L108.2 274.9L108.4 272.9L108.6 270.1L108.8 266.7L108.9 262.8L109.1 258.4L109.3 253.6L109.5 248.6L109.7 243.5L109.9 238.4L110.0 233.3L110.2 228.6L110.4 224.1L110.6 220.2L110.8 216.8L111.0 214.0L111.1 212.0L111.3 210.7L111.5 210.2L111.7 210.5L111.9 211.6L112.1 213.5L112.2 216.1L112.4 219.5L112.6 223.4L112.8 227.9L113.0 232.8L113.2 238.0L113.3 243.4L113.5 248.8L113.7 254.2L113.9 259.5L114.1 264.4L114.3 269.0L114.4 273.1L114.6 276.5L114.8 279.3L115.0 281.4L115.2 282.6L115.4 283.1L115.5 282.8L115.7 281.7L115.9 279.8L116.1 277.2L116.3 274.0L116.4 270.2L116.6 265.9L116.8 261.3L117.0 256.4L117.2 251.4L117.4 246.3L117.5 241.4L117.7 236.7L117.9 232.3L118.1 228.5L118.3 225.1L118.5 222.4L118.6 220.4L118.8 219.1L119.0 218.6L119.2 218.9L119.4 220.1L119.6 222.0L119.7 224.6L119.9 227.9L120.1 231.8L120.3 236.2L120.5 241.1L120.7 246.2L120.8 251.6L121.0 257.0L121.2 262.3L121.4 267.5L121.6 272.4L121.8 276.8L121.9 280.8L122.1 284.1L122.3 286.8L122.5 288.7L122.7 289.9L122.8 290.2L123.0 289.8L123.2 288.5L123.4 286.5L123.6 283.7L123.8 280.3L123.9 276.4L124.1 271.9L124.3 267.1L124.5 262.0L124.7 256.8L124.9 251.5L125.0 246.4L125.2 241.5L125.4 236.9L125.6 232.8L125.8 229.2L126.0 226.2L126.1 223.9L126.3 222.4L126.5 221.7L126.7 221.8L126.9 222.6L127.1 224.3L127.2 226.6L127.4 229.7L127.6 233.3L127.8 237.5L128.0 242.1L128.2 247.0L128.3 252.0L128.5 257.2L128.7 262.2L128.9 267.2L129.1 271.8L129.2 276.0L129.4 279.7L129.6 282.8L129.8 285.2L130.0 286.9L130.2 287.8L130.3 287.9L130.5 287.2L130.7 285.7L130.9 283.4L131.1 280.4L131.3 276.8L131.4 272.5L131.6 267.9L131.8 262.8L132.0 257.5L132.2 252.0L132.4 246.6L132.5 241.2L132.7 236.1L132.9 231.3L133.1 227.0L133.3 223.2L133.5 220.1L133.6 217.6L133.8 215.9L134.0 215.0L134.2 214.9L134.4 215.6L134.6 217.1L134.7 219.3L134.9 222.2L135.1 225.8L135.3 229.8L135.5 234.3L135.6 239.0L135.8 244.0L136.0 249.1L136.2 254.1L136.4 258.9L136.6 263.5L136.7 267.6L136.9 271.3L137.1 274.3L137.3 276.7L137.5 278.4L137.7 279.3L137.8 279.4L138.0 278.7L138.2 277.2L138.4 275.0L138.6 272.0L138.8 268.4L138.9 264.2L139.1 259.6L139.3 254.6L139.5 249.4L139.7 244.0L139.9 238.6L140.0 233.4L140.2 228.3L140.4 223.6L140.6 219.4L140.8 215.8L141.0 212.7L141.1 210.4L141.3 208.9L141.5 208.1L141.7 208.2L141.9 209.0L142.0 210.7L142.2 213.1L142.4 216.2L142.6 219.9L142.8 224.1L143.0 228.8L143.1 233.7L143.3 238.9L143.5 244.2L143.7 249.4L143.9 254.5L144.1 259.3L144.2 263.6L144.4 267.5L144.6 270.8L144.8 273.5L145.0 275.4L145.2 276.6L145.3 276.9L145.5 276.5L145.7 275.3L145.9 273.3L146.1 270.6L146.3 267.3L146.4 263.4L146.6 259.0L146.8 254.3L147.0 249.3L147.2 244.2L147.4 239.1L147.5 234.1L147.7 229.3L147.9 224.9L148.1 220.9L148.3 217.5L148.5 214.8L148.6 212.7L148.8 211.4L149.0 210.9L149.2 211.2L149.4 212.3L149.5 214.2L149.7 216.8L149.9 220.1L150.1 224.0L150.3 228.5L150.5 233.4L150.6 238.6L150.8 244.0L151.0 249.4L151.2 254.9L151.4 260.1L151.6 265.1L151.7 269.7L151.9 273.8L152.1 277.3L152.3 280.1L152.5 282.2L152.7 283.5L152.8 284.0L153.0 283.7L153.2 282.6L153.4 280.8L153.6 278.2L153.8 275.0L153.9 271.2L154.1 267.0L154.3 262.3L154.5 257.4L154.7 252.4L154.9 247.4L155.0 242.4L155.2 237.7L155.4 233.3L155.6 229.4L155.8 226.0L155.9 223.2L156.1 221.2L156.3 219.9L156.5 219.3L156.7 219.6L156.9 220.7L157.0 222.5L157.2 225.1L157.4 228.4L157.6 232.3L157.8 236.6L158.0 241.4L158.1 246.6L158.3 251.9L158.5 257.3L158.7 262.6L158.9 267.7L159.1 272.6L159.2 277.1L159.4 281.0L159.6 284.4L159.8 287.0L160.0 289.0L160.2 290.1L160.3 290.5L160.5 290.0L160.7 288.8L160.9 286.8L161.1 284.0L161.3 280.6L161.4 276.6L161.6 272.2L161.8 267.3L162.0 262.2L162.2 257.0L162.3 251.7L162.5 246.5L162.7 241.5L162.9 236.9L163.1 232.8L163.3 229.1L163.4 226.1L163.6 223.8L163.8 222.2L164.0 221.4L164.2 221.4L164.4 222.2L164.5 223.8L164.7 226.1L164.9 229.1L165.1 232.7L165.3 236.9L165.5 241.4L165.6 246.2L165.8 251.3L166.0 256.4L166.2 261.5L166.4 266.4L166.6 271.0L166.7 275.2L166.9 278.9L167.1 282.0L167.3 284.4L167.5 286.1L167.7 287.0L167.8 287.1L168.0 286.5L168.2 285.0L168.4 282.7L168.6 279.7L168.7 276.1L168.9 271.9L169.1 267.2L169.3 262.2L169.5 256.9L169.7 251.4L169.8 245.9L170.0 240.6L170.2 235.4L170.4 230.6L170.6 226.3L170.8 222.5L170.9 219.3L171.1 216.8L171.3 215.1L171.5 214.2L171.7 214.0L171.9 214.7L172.0 216.2L172.2 218.4L172.4 221.2L172.6 224.7L172.8 228.8L173.0 233.2L173.1 238.0L173.3 243.0L173.5 248.0L173.7 253.1L173.9 257.9L174.1 262.5L174.2 266.7L174.4 270.4L174.6 273.5L174.8 275.9L175.0 277.6L175.2 278.6L175.3 278.7L175.5 278.1L175.7 276.6L175.9 274.4L176.1 271.5L176.2 268.0L176.4 263.9L176.6 259.3L176.8 254.3L177.0 249.1L177.2 243.7L177.3 238.4L177.5 233.1L177.7 228.1L177.9 223.5L178.1 219.2L178.3 215.6L178.4 212.6L178.6 210.2L178.8 208.7L179.0 207.9L179.2 208.0L179.4 208.8L179.5 210.5L179.7 212.9L179.9 215.9L180.1 219.6L180.3 223.9L180.5 228.6L180.6 233.6L180.8 238.8L181.0 244.1L181.2 249.3L181.4 254.4L181.6 259.2L181.7 263.7L181.9 267.6L182.1 271.0L182.3 273.7L182.5 275.6L182.6 276.9L182.8 277.3L183.0 276.9L183.2 275.7L183.4 273.8L183.6 271.2L183.7 267.9L183.9 264.0L184.1 259.7L184.3 255.0L184.5 250.1L184.7 245.0L184.8 239.9L185.0 234.9L185.2 230.1L185.4 225.7L185.6 221.8L185.8 218.3L185.9 215.6L186.1 213.5L186.3 212.2L186.5 211.6L186.7 211.9L186.9 213.0L187.0 214.9L187.2 217.5L187.4 220.8L187.6 224.7L187.8 229.1L188.0 234.0L188.1 239.2L188.3 244.6L188.5 250.1" fill="none" stroke="#181828" stroke-width="0.8" stroke-dasharray="1.1,1.1" stroke-opacity="0.7"/>
<path d="M42.20,178.30 L42.20,302.40 L188.50,302.40" fill="none" stroke="#767676" stroke-width="1.45"/>
<line x1="42.20" y1="302.40" x2="42.20" y2="304.60" stroke="#767676" stroke-width="1"/>
<text transform="translate(42.20,313.45) scale(0.880,1)" text-anchor="middle" class="tk" style="font-size:9.85px">0</text>
<line x1="71.46" y1="302.40" x2="71.46" y2="304.60" stroke="#767676" stroke-width="1"/>
<text transform="translate(71.46,313.45) scale(0.880,1)" text-anchor="middle" class="tk" style="font-size:9.85px">10</text>
<line x1="100.72" y1="302.40" x2="100.72" y2="304.60" stroke="#767676" stroke-width="1"/>
<text transform="translate(100.72,313.45) scale(0.880,1)" text-anchor="middle" class="tk" style="font-size:9.85px">20</text>
<line x1="129.98" y1="302.40" x2="129.98" y2="304.60" stroke="#767676" stroke-width="1"/>
<text transform="translate(129.98,313.45) scale(0.880,1)" text-anchor="middle" class="tk" style="font-size:9.85px">30</text>
<line x1="159.24" y1="302.40" x2="159.24" y2="304.60" stroke="#767676" stroke-width="1"/>
<text transform="translate(159.24,313.45) scale(0.880,1)" text-anchor="middle" class="tk" style="font-size:9.85px">40</text>
<line x1="188.50" y1="302.40" x2="188.50" y2="304.60" stroke="#767676" stroke-width="1"/>
<text transform="translate(188.50,313.45) scale(0.880,1)" text-anchor="middle" class="tk" style="font-size:9.85px">50</text>
<line x1="40.00" y1="302.40" x2="42.20" y2="302.40" stroke="#767676" stroke-width="1"/>
<text transform="translate(37.90,305.85) scale(0.880,1)" text-anchor="end" class="tk" style="font-size:9.85px">−0.015</text>
<line x1="40.00" y1="284.67" x2="42.20" y2="284.67" stroke="#767676" stroke-width="1"/>
<text transform="translate(37.90,288.12) scale(0.880,1)" text-anchor="end" class="tk" style="font-size:9.85px">−0.010</text>
<line x1="40.00" y1="266.94" x2="42.20" y2="266.94" stroke="#767676" stroke-width="1"/>
<text transform="translate(37.90,270.39) scale(0.880,1)" text-anchor="end" class="tk" style="font-size:9.85px">−0.005</text>
<line x1="40.00" y1="249.21" x2="42.20" y2="249.21" stroke="#767676" stroke-width="1"/>
<text transform="translate(37.90,252.66) scale(0.880,1)" text-anchor="end" class="tk" style="font-size:9.85px">0.000</text>
<line x1="40.00" y1="231.49" x2="42.20" y2="231.49" stroke="#767676" stroke-width="1"/>
<text transform="translate(37.90,234.94) scale(0.880,1)" text-anchor="end" class="tk" style="font-size:9.85px">0.005</text>
<line x1="40.00" y1="213.76" x2="42.20" y2="213.76" stroke="#767676" stroke-width="1"/>
<text transform="translate(37.90,217.21) scale(0.880,1)" text-anchor="end" class="tk" style="font-size:9.85px">0.010</text>
<line x1="40.00" y1="196.03" x2="42.20" y2="196.03" stroke="#767676" stroke-width="1"/>
<text transform="translate(37.90,199.48) scale(0.880,1)" text-anchor="end" class="tk" style="font-size:9.85px">0.015</text>
<line x1="40.00" y1="178.30" x2="42.20" y2="178.30" stroke="#767676" stroke-width="1"/>
<text transform="translate(37.90,181.75) scale(0.880,1)" text-anchor="end" class="tk" style="font-size:9.85px">0.020</text>
<text transform="translate(115.35,324.30) scale(0.960,1)" text-anchor="middle" class="lb">Time (s)</text>
<text transform="translate(9.00,239.60) scale(0.960,1) rotate(-90)" text-anchor="middle" class="lb" style="font-size:9.80px">Acceleration <tspan font-weight="bold" font-style="italic">x</tspan><tspan dx="-4.6" dy="-6.4" font-weight="bold" style="font-size:7px">..</tspan><tspan dx="1.1" dy="6.4"> (m/s²)</tspan></text>
<rect x="71.40" y="181.60" width="114.00" height="12.20" rx="1.5" fill="#fff" stroke="#d8d8d8" stroke-width="0.9"/>
<line x1="74.20" y1="187.10" x2="88.40" y2="187.10" stroke="#6a6af0" stroke-width="1.1"/>
<text transform="translate(93.90,189.80) scale(0.2500,0.2500)" class="lg" style="font-size:28.80px">Measured</text>
<line x1="136.10" y1="187.10" x2="150.10" y2="187.10" stroke="#555" stroke-width="0.8" stroke-dasharray="1.5,1.2"/>
<text transform="translate(155.80,189.80) scale(0.2500,0.2500)" class="lg" style="font-size:28.80px">SaPINNs</text>
<path d="M263.3 248.4L263.5 248.2L263.7 248.0L263.9 247.8L264.0 247.5L264.2 247.2L264.4 246.7L264.6 246.2L264.8 245.5L265.0 244.8L265.2 243.9L265.3 242.9L265.5 241.8L265.7 240.5L265.9 239.2L266.1 237.7L266.3 236.2L266.5 234.5L266.6 232.9L266.8 231.2L267.0 229.5L267.2 227.7L267.4 226.1L267.6 224.4L267.7 222.8L267.9 221.3L268.1 219.9L268.3 218.7L268.5 217.5L268.7 216.5L268.9 215.7L269.0 215.0L269.2 214.4L269.4 214.3L269.6 214.3L269.8 214.5L270.0 214.8L270.2 215.2L270.3 215.8L270.5 216.4L270.7 217.0L270.9 217.7L271.1 218.5L271.3 219.2L271.5 220.0L271.6 220.6L271.8 221.3L272.0 221.9L272.2 222.4L272.4 222.8L272.6 223.1L272.8 223.3L272.9 223.4L273.1 223.4L273.3 223.1L273.5 222.7L273.7 222.2L273.9 221.6L274.1 221.0L274.2 220.4L274.4 219.7L274.6 219.0L274.8 218.4L275.0 217.8L275.2 217.2L275.3 216.7L275.5 216.3L275.7 215.9L275.9 215.9L276.1 216.0L276.3 216.2L276.5 216.6L276.6 217.1L276.8 217.8L277.0 218.6L277.2 219.6L277.4 220.7L277.6 221.9L277.8 223.2L277.9 224.7L278.1 226.2L278.3 227.7L278.5 229.3L278.7 230.9L278.9 232.5L279.1 234.1L279.2 235.6L279.4 237.1L279.6 238.5L279.8 239.8L280.0 240.9L280.2 242.0L280.4 243.0L280.5 243.8L280.7 244.5L280.9 245.0L281.1 245.5L281.3 245.9L281.5 246.1L281.7 246.3L281.8 246.4L282.0 246.5L282.2 246.5L282.4 246.5L282.6 246.5L282.8 246.6L282.9 246.6L283.1 246.8L283.3 247.0L283.5 247.3L283.7 247.7L283.9 248.2L284.1 248.8L284.2 249.6L284.4 250.4L284.6 251.4L284.8 252.5L285.0 253.7L285.2 255.0L285.4 256.4L285.5 257.9L285.7 259.3L285.9 260.9L286.1 262.4L286.3 263.9L286.5 265.3L286.7 266.7L286.8 268.1L287.0 269.3L287.2 270.4L287.4 271.4L287.6 272.3L287.8 273.0L288.0 273.6L288.1 274.0L288.3 274.3L288.5 274.4L288.7 274.3L288.9 274.1L289.1 273.7L289.3 273.2L289.4 272.6L289.6 271.9L289.8 271.2L290.0 270.4L290.2 269.7L290.4 268.9L290.6 268.1L290.7 267.4L290.9 266.7L291.1 266.2L291.3 265.7L291.5 265.2L291.7 264.9L291.8 264.7L292.0 264.6L292.2 264.8L292.4 265.1L292.6 265.4L292.8 265.9L293.0 266.4L293.1 267.0L293.3 267.6L293.5 268.2L293.7 268.8L293.9 269.4L294.1 270.0L294.3 270.5L294.4 270.9L294.6 271.2L294.8 271.4L295.0 271.5L295.2 271.4L295.4 271.2L295.6 270.9L295.7 270.4L295.9 269.7L296.1 268.9L296.3 267.9L296.5 266.8L296.7 265.6L296.9 264.3L297.0 262.9L297.2 261.4L297.4 259.9L297.6 258.4L297.8 256.9L298.0 255.3L298.2 253.9L298.3 252.4L298.5 251.1L298.7 249.8L298.9 248.7L299.1 247.6L299.3 246.7L299.4 245.9L299.6 245.2L299.8 244.7L300.0 244.3L300.2 243.9L300.4 243.7L300.6 243.6L300.7 243.6L300.9 243.6L301.1 243.6L301.3 243.7L301.5 243.8L301.7 243.9L301.9 243.9L302.0 243.8L302.2 243.5L302.4 243.3L302.6 242.9L302.8 242.4L303.0 241.8L303.2 241.0L303.3 240.2L303.5 239.2L303.7 238.1L303.9 236.9L304.1 235.6L304.3 234.3L304.5 232.8L304.6 231.3L304.8 229.8L305.0 228.3L305.2 226.7L305.4 225.2L305.6 223.8L305.8 222.4L305.9 221.1L306.1 219.9L306.3 218.8L306.5 217.8L306.7 217.0L306.9 216.4L307.0 215.9L307.2 215.5L307.4 215.3L307.6 215.3L307.8 215.6L308.0 215.9L308.2 216.4L308.3 217.0L308.5 217.7L308.7 218.4L308.9 219.2L309.1 220.0L309.3 220.8L309.5 221.6L309.6 222.3L309.8 223.1L310.0 223.7L310.2 224.3L310.4 224.8L310.6 225.2L310.8 225.4L310.9 225.6L311.1 225.6L311.3 225.5L311.5 225.3L311.7 225.0L311.9 224.6L312.1 224.2L312.2 223.7L312.4 223.3L312.6 222.8L312.8 222.3L313.0 221.8L313.2 221.4L313.4 221.1L313.5 220.8L313.7 220.7L313.9 220.7L314.1 220.8L314.3 221.0L314.5 221.4L314.6 222.0L314.8 222.7L315.0 223.5L315.2 224.5L315.4 225.6L315.6 226.8L315.8 228.1L315.9 229.6L316.1 231.1L316.3 232.6L316.5 234.2L316.7 235.8L316.9 237.4L317.1 239.0L317.2 240.5L317.4 241.9L317.6 243.3L317.8 244.5L318.0 245.7L318.2 246.7L318.4 247.7L318.5 248.4L318.7 249.1L318.9 249.6L319.1 250.1L319.3 250.4L319.5 250.6L319.7 250.7L319.8 250.8L320.0 250.8L320.2 250.7L320.4 250.7L320.6 250.7L320.8 250.6L321.0 250.7L321.1 250.8L321.3 250.9L321.5 251.2L321.7 251.5L321.9 252.0L322.1 252.5L322.2 253.2L322.4 254.0L322.6 255.0L322.8 256.0L323.0 257.1L323.2 258.4L323.4 259.7L323.5 261.0L323.7 262.4L323.9 263.8L324.1 265.3L324.3 266.7L324.5 268.1L324.7 269.4L324.8 270.6L325.0 271.8L325.2 272.8L325.4 273.7L325.6 274.5L325.8 275.1L326.0 275.6L326.1 275.9L326.3 276.1L326.5 276.1L326.7 275.9L326.9 275.7L327.1 275.3L327.3 274.8L327.4 274.2L327.6 273.5L327.8 272.7L328.0 271.9L328.2 271.1L328.4 270.3L328.6 269.5L328.7 268.8L328.9 268.1L329.1 267.5L329.3 267.0L329.5 266.5L329.7 266.2L329.8 266.0L330.0 265.8L330.2 265.8L330.4 265.9L330.6 266.1L330.8 266.3L331.0 266.7L331.1 267.0L331.3 267.4L331.5 267.9L331.7 268.3L331.9 268.8L332.1 269.2L332.3 269.6L332.4 269.9L332.6 270.0L332.8 270.1L333.0 270.1L333.2 269.9L333.4 269.6L333.6 269.1L333.7 268.5L333.9 267.7L334.1 266.8L334.3 265.8L334.5 264.6L334.7 263.3L334.9 262.0L335.0 260.5L335.2 259.0L335.4 257.4L335.6 255.9L335.8 254.3L336.0 252.7L336.2 251.2L336.3 249.7L336.5 248.3L336.7 247.0L336.9 245.8L337.1 244.8L337.3 243.8L337.5 243.0L337.6 242.3L337.8 241.7L338.0 241.3L338.2 240.9L338.4 240.7L338.6 240.6L338.7 240.5L338.9 240.5L339.1 240.5L339.3 240.5L339.5 240.5L339.7 240.5L339.9 240.5L340.0 240.4L340.2 240.2L340.4 240.0L340.6 239.7L340.8 239.2L341.0 238.7L341.2 238.0L341.3 237.3L341.5 236.4L341.7 235.4L341.9 234.3L342.1 233.1L342.3 231.8L342.5 230.5L342.6 229.1L342.8 227.6L343.0 226.2L343.2 224.7L343.4 223.3L343.6 222.0L343.8 220.7L343.9 219.5L344.1 218.4L344.3 217.4L344.5 216.6L344.7 215.9L344.9 215.3L345.1 214.9L345.2 214.7L345.4 214.6L345.6 214.7L345.8 214.9L346.0 215.3L346.2 215.8L346.3 216.4L346.5 217.1L346.7 217.9L346.9 218.7L347.1 219.5L347.3 220.3L347.5 221.2L347.6 222.0L347.8 222.7L348.0 223.4L348.2 224.0L348.4 224.5L348.6 224.9L348.8 225.3L348.9 225.5L349.1 225.6L349.3 225.6L349.5 225.5L349.7 225.3L349.9 225.0L350.1 224.7L350.2 224.3L350.4 223.9L350.6 223.5L350.8 223.1L351.0 222.8L351.2 222.5L351.4 222.2L351.5 222.0L351.7 222.0L351.9 222.0L352.1 222.2L352.3 222.5L352.5 223.0L352.7 223.6L352.8 224.3L353.0 225.2L353.2 226.2L353.4 227.4L353.6 228.7L353.8 230.1L353.9 231.5L354.1 233.1L354.3 234.7L354.5 236.3L354.7 237.9L354.9 239.6L355.1 241.2L355.2 242.7L355.4 244.2L355.6 245.6L355.8 246.9L356.0 248.0L356.2 249.1L356.4 250.0L356.5 250.8L356.7 251.5L356.9 252.0L357.1 252.4L357.3 252.7L357.5 253.0L357.7 253.1L357.8 253.1L358.0 253.1L358.2 253.0L358.4 253.0L358.6 252.9L358.8 252.9L359.0 252.9L359.1 253.0L359.3 253.1L359.5 253.3L359.7 253.6L359.9 254.0L360.1 254.6L360.3 255.2L360.4 256.0L360.6 256.9L360.8 257.8L361.0 258.9L361.2 260.1L361.4 261.3L361.5 262.6L361.7 264.0L361.9 265.4L362.1 266.7L362.3 268.1L362.5 269.4L362.7 270.6L362.8 271.8L363.0 272.9L363.2 273.8L363.4 274.7L363.6 275.4L363.8 275.9L364.0 276.3L364.1 276.6L364.3 276.7L364.5 276.6L364.7 276.3L364.9 275.8L365.1 275.2L365.3 274.6L365.4 273.8L365.6 273.0L365.8 272.1L366.0 271.1L366.2 270.1L366.4 269.2L366.6 268.3L366.7 267.4L366.9 266.5L367.1 265.8L367.3 265.1L367.5 264.5L367.7 264.0L367.9 263.6L368.0 263.3L368.2 263.2L368.4 263.1L368.6 263.1L368.8 263.2L369.0 263.4L369.1 263.6L369.3 263.9L369.5 264.2L369.7 264.5L369.9 264.7L370.1 265.0L370.3 265.2L370.4 265.3L370.6 265.3L370.8 265.3L371.0 265.1L371.2 264.8L371.4 264.3L371.6 263.7L371.7 262.9L371.9 262.1L372.1 261.0L372.3 259.8L372.5 258.6L372.7 257.2L372.9 255.7L373.0 254.1L373.2 252.4L373.4 250.8L373.6 249.1L373.8 247.4L374.0 245.7L374.2 244.1L374.3 242.5L374.5 241.0L374.7 239.6L374.9 238.3L375.1 237.2L375.3 236.1L375.5 235.2L375.6 234.4L375.8 233.8L376.0 233.2L376.2 232.8L376.4 232.5L376.6 232.3L376.7 232.2L376.9 232.2L377.1 232.2L377.3 232.2L377.5 232.2L377.7 232.3L377.9 232.3L378.0 232.2L378.2 232.1L378.4 231.9L378.6 231.7L378.8 231.3L379.0 230.8L379.2 230.2L379.3 229.5L379.5 228.7L379.7 227.8L379.9 226.8L380.1 225.6L380.3 224.4L380.5 223.2L380.6 221.9L380.8 220.5L381.0 219.1L381.2 217.8L381.4 216.5L381.6 215.2L381.8 214.0L381.9 212.9L382.1 211.9L382.3 211.0L382.5 210.2L382.7 209.6L382.9 209.1L383.1 208.8L383.2 208.7L383.4 208.7L383.6 208.8L383.8 209.1L384.0 209.6L384.2 210.1L384.3 210.8L384.5 211.5L384.7 212.3L384.9 213.2L385.1 214.1L385.3 215.0L385.5 215.8L385.6 216.7L385.8 217.5L386.0 218.2L386.2 218.9L386.4 219.5L386.6 219.9L386.8 220.3L386.9 220.6L387.1 220.7L387.3 220.8L387.5 220.7L387.7 220.6L387.9 220.4L388.1 220.1L388.2 219.7L388.4 219.4L388.6 219.0L388.8 218.6L389.0 218.3L389.2 218.0L389.4 217.8L389.5 217.6L389.7 217.6L389.9 217.7L390.1 217.8L390.3 218.2L390.5 218.6L390.7 219.2L390.8 220.0L391.0 220.9L391.2 221.9L391.4 223.0L391.6 224.3L391.8 225.7L392.0 227.1L392.1 228.7L392.3 230.2L392.5 231.8L392.7 233.5L392.9 235.1L393.1 236.6L393.2 238.1L393.4 239.6L393.6 240.9L393.8 242.2L394.0 243.3L394.2 244.3L394.4 245.2L394.5 246.0L394.7 246.6L394.9 247.1L395.1 247.4L395.3 247.7L395.5 247.8L395.7 247.8L395.8 247.8L396.0 247.7L396.2 247.6L396.4 247.4L396.6 247.3L396.8 247.2L397.0 247.1L397.1 247.0L397.3 247.1L397.5 247.2L397.7 247.4L397.9 247.7L398.1 248.1L398.3 248.6L398.4 249.2L398.6 250.0L398.8 250.9L399.0 251.8L399.2 252.8L399.4 254.0L399.6 255.1L399.7 256.3L399.9 257.6L400.1 258.8L400.3 260.0L400.5 261.2L400.7 262.3L400.8 263.3L401.0 264.3L401.2 265.1L401.4 265.8L401.6 266.3L401.8 266.7L402.0 267.0L402.1 267.1L402.3 267.1L402.5 267.0L402.7 266.7L402.9 266.2L403.1 265.7L403.3 265.0L403.4 264.3L403.6 263.4L403.8 262.5L404.0 261.6L404.2 260.6L404.4 259.7L404.6 258.7L404.7 257.8L404.9 257.0L405.1 256.2L405.3 255.6L405.5 255.0L405.7 254.5L405.9 254.1L406.0 253.8L406.2 253.7L406.4 253.6L406.6 253.6L406.8 253.6L407.0 253.7L407.2 253.9L407.3 254.0L407.5 254.2L407.7 254.5L407.9 254.6L408.1 254.8L408.3 254.9L408.4 254.9L408.6 254.9L408.8 254.7L409.0 254.4L409.2 254.0L409.4 253.5L409.6 252.8L409.7 252.0L409.9 251.0L410.1 249.9L410.3 248.7L410.5 247.3L410.7 245.9L410.9 244.3L411.0 242.7L411.2 241.0L411.4 239.2L411.6 237.5L411.6 256.6L411.4 258.5L411.2 260.3L411.0 262.0L410.9 263.8L410.7 265.4L410.5 266.9L410.3 268.4L410.1 269.7L409.9 270.9L409.7 271.9L409.6 272.8L409.4 273.6L409.2 274.2L409.0 274.7L408.8 275.0L408.6 275.3L408.4 275.4L408.3 275.5L408.1 275.4L407.9 275.4L407.7 275.2L407.5 275.1L407.3 275.0L407.2 274.9L407.0 274.8L406.8 274.8L406.6 274.9L406.4 275.1L406.2 275.4L406.0 275.8L405.9 276.3L405.7 277.0L405.5 277.7L405.3 278.5L405.1 279.5L404.9 280.5L404.7 281.5L404.6 282.7L404.4 283.9L404.2 285.1L404.0 286.3L403.8 287.5L403.6 288.6L403.4 289.7L403.3 290.7L403.1 291.6L402.9 292.4L402.7 293.1L402.5 293.6L402.3 294.0L402.1 294.3L402.0 294.2L401.8 293.9L401.6 293.4L401.4 292.9L401.2 292.1L401.0 291.3L400.8 290.3L400.7 289.2L400.5 288.1L400.3 286.8L400.1 285.6L399.9 284.3L399.7 283.1L399.6 281.8L399.4 280.6L399.2 279.4L399.0 278.4L398.8 277.4L398.6 276.5L398.4 275.7L398.3 275.0L398.1 274.4L397.9 274.0L397.7 273.6L397.5 273.4L397.3 273.3L397.1 273.2L397.0 273.2L396.8 273.2L396.6 273.3L396.4 273.4L396.2 273.5L396.0 273.5L395.8 273.5L395.7 273.4L395.5 273.2L395.3 272.9L395.1 272.5L394.9 271.9L394.7 271.3L394.5 270.5L394.4 269.6L394.2 268.6L394.0 267.4L393.8 266.1L393.6 264.7L393.4 263.2L393.2 261.6L393.1 259.9L392.9 258.2L392.7 256.4L392.5 254.7L392.3 252.9L392.1 251.2L392.0 249.5L391.8 247.9L391.6 246.4L391.4 244.9L391.2 243.6L391.0 242.4L390.8 241.4L390.7 240.5L390.5 239.7L390.3 239.1L390.1 238.6L389.9 238.3L389.7 238.1L389.5 237.9L389.4 237.9L389.2 238.0L389.0 238.1L388.8 238.3L388.6 238.5L388.4 238.8L388.2 239.0L388.1 239.1L387.9 239.3L387.7 239.3L387.5 239.3L387.3 239.2L387.1 239.0L386.9 238.7L386.8 238.3L386.6 237.8L386.4 237.2L386.2 236.5L386.0 235.6L385.8 234.8L385.6 233.8L385.5 232.8L385.3 231.8L385.1 230.7L384.9 229.7L384.7 228.7L384.5 227.7L384.3 226.9L384.2 226.0L384.0 225.3L383.8 224.8L383.6 224.3L383.4 224.0L383.2 224.0L383.1 224.1L382.9 224.4L382.7 224.8L382.5 225.4L382.3 226.2L382.1 227.0L381.9 228.0L381.8 229.1L381.6 230.3L381.4 231.5L381.2 232.8L381.0 234.2L380.8 235.5L380.6 236.8L380.5 238.1L380.3 239.4L380.1 240.5L379.9 241.6L379.7 242.7L379.5 243.6L379.3 244.3L379.2 245.0L379.0 245.6L378.8 246.0L378.6 246.4L378.4 246.6L378.2 246.8L378.0 246.9L377.9 246.9L377.7 246.9L377.5 246.8L377.3 246.7L377.1 246.7L376.9 246.7L376.7 246.7L376.6 246.8L376.4 246.9L376.2 247.1L376.0 247.4L375.8 247.8L375.6 248.4L375.5 249.1L375.3 249.9L375.1 250.8L374.9 251.9L374.7 253.1L374.5 254.4L374.3 255.8L374.2 257.3L374.0 258.8L373.8 260.4L373.6 262.0L373.4 263.6L373.2 265.2L373.0 266.7L372.9 268.2L372.7 269.6L372.5 270.9L372.3 272.1L372.1 273.1L371.9 274.1L371.7 274.9L371.6 275.5L371.4 276.0L371.2 276.4L371.0 276.6L370.8 276.7L370.6 276.7L370.4 276.6L370.3 276.3L370.1 276.0L369.9 275.8L369.7 275.5L369.5 275.1L369.3 274.8L369.1 274.5L369.0 274.2L368.8 274.0L368.6 273.8L368.4 273.8L368.2 273.8L368.0 273.9L367.9 274.2L367.7 274.5L367.5 275.0L367.3 275.5L367.1 276.1L366.9 276.9L366.7 277.7L366.6 278.5L366.4 279.4L366.2 280.3L366.0 281.2L365.8 282.1L365.6 283.0L365.4 283.8L365.3 284.5L365.1 285.2L364.9 285.7L364.7 286.1L364.5 286.4L364.3 286.4L364.1 286.3L364.0 286.0L363.8 285.6L363.6 285.0L363.4 284.2L363.2 283.4L363.0 282.4L362.8 281.3L362.7 280.0L362.5 278.8L362.3 277.4L362.1 276.0L361.9 274.6L361.7 273.2L361.5 271.8L361.4 270.5L361.2 269.2L361.0 268.0L360.8 266.9L360.6 265.9L360.4 264.9L360.3 264.1L360.1 263.5L359.9 262.9L359.7 262.4L359.5 262.1L359.3 261.8L359.1 261.7L359.0 261.6L358.8 261.5L358.6 261.5L358.4 261.5L358.2 261.5L358.0 261.6L357.8 261.6L357.7 261.6L357.5 261.5L357.3 261.3L357.1 261.0L356.9 260.5L356.7 260.0L356.5 259.3L356.4 258.5L356.2 257.6L356.0 256.5L355.8 255.4L355.6 254.1L355.4 252.7L355.2 251.2L355.1 249.7L354.9 248.1L354.7 246.4L354.5 244.8L354.3 243.2L354.1 241.6L353.9 240.1L353.8 238.6L353.6 237.2L353.4 235.9L353.2 234.8L353.0 233.7L352.8 232.8L352.7 232.1L352.5 231.5L352.3 231.0L352.1 230.7L351.9 230.5L351.7 230.4L351.5 230.5L351.4 230.6L351.2 230.8L351.0 231.1L350.8 231.4L350.6 231.8L350.4 232.2L350.2 232.5L350.1 232.8L349.9 233.1L349.7 233.4L349.5 233.5L349.3 233.6L349.1 233.5L348.9 233.4L348.8 233.1L348.6 232.8L348.4 232.3L348.2 231.8L348.0 231.1L347.8 230.4L347.6 229.6L347.5 228.8L347.3 227.9L347.1 227.1L346.9 226.2L346.7 225.3L346.5 224.5L346.3 223.8L346.2 223.2L346.0 222.6L345.8 222.2L345.6 221.9L345.4 221.8L345.2 221.8L345.1 221.9L344.9 222.3L344.7 222.7L344.5 223.4L344.3 224.1L344.1 225.0L343.9 226.0L343.8 227.1L343.6 228.4L343.4 229.6L343.2 230.9L343.0 232.3L342.8 233.7L342.6 235.0L342.5 236.3L342.3 237.6L342.1 238.8L341.9 239.9L341.7 240.9L341.5 241.8L341.3 242.6L341.2 243.3L341.0 243.9L340.8 244.3L340.6 244.7L340.4 244.9L340.2 245.1L340.0 245.1L339.9 245.1L339.7 245.1L339.5 245.0L339.3 244.9L339.1 244.8L338.9 244.8L338.7 244.8L338.6 244.9L338.4 245.1L338.2 245.4L338.0 245.8L337.8 246.3L337.6 246.9L337.5 247.7L337.3 248.5L337.1 249.5L336.9 250.7L336.7 251.9L336.5 253.3L336.3 254.7L336.2 256.2L336.0 257.8L335.8 259.4L335.6 261.1L335.4 262.7L335.2 264.3L335.0 265.9L334.9 267.4L334.7 268.8L334.5 270.2L334.3 271.4L334.1 272.5L333.9 273.4L333.7 274.2L333.6 274.9L333.4 275.4L333.2 275.8L333.0 276.0L332.8 276.1L332.6 276.1L332.4 276.0L332.3 275.7L332.1 275.4L331.9 275.1L331.7 274.7L331.5 274.2L331.3 273.8L331.1 273.4L331.0 273.1L330.8 272.8L330.6 272.6L330.4 272.4L330.2 272.3L330.0 272.4L329.8 272.5L329.7 272.8L329.5 273.1L329.3 273.6L329.1 274.1L328.9 274.8L328.7 275.5L328.6 276.2L328.4 277.0L328.2 277.9L328.0 278.7L327.8 279.5L327.6 280.3L327.4 281.0L327.3 281.6L327.1 282.1L326.9 282.5L326.7 282.8L326.5 283.0L326.3 283.0L326.1 282.8L326.0 282.5L325.8 282.1L325.6 281.5L325.4 280.7L325.2 279.8L325.0 278.8L324.8 277.7L324.7 276.5L324.5 275.2L324.3 273.8L324.1 272.4L323.9 271.0L323.7 269.6L323.5 268.2L323.4 266.9L323.2 265.6L323.0 264.4L322.8 263.3L322.6 262.3L322.4 261.4L322.2 260.6L322.1 259.9L321.9 259.4L321.7 258.9L321.5 258.6L321.3 258.4L321.1 258.2L321.0 258.2L320.8 258.2L320.6 258.2L320.4 258.3L320.2 258.3L320.0 258.4L319.8 258.4L319.7 258.3L319.5 258.2L319.3 258.0L319.1 257.7L318.9 257.2L318.7 256.7L318.5 256.0L318.4 255.2L318.2 254.3L318.0 253.2L317.8 252.0L317.6 250.7L317.4 249.4L317.2 247.9L317.1 246.4L316.9 244.8L316.7 243.2L316.5 241.6L316.3 240.0L316.1 238.4L315.9 236.9L315.8 235.4L315.6 234.1L315.4 232.8L315.2 231.7L315.0 230.7L314.8 229.9L314.6 229.2L314.5 228.6L314.3 228.2L314.1 227.9L313.9 227.8L313.7 227.8L313.5 227.9L313.4 228.1L313.2 228.5L313.0 228.8L312.8 229.3L312.6 229.7L312.4 230.2L312.2 230.7L312.1 231.1L311.9 231.5L311.7 231.9L311.5 232.1L311.3 232.3L311.1 232.4L310.9 232.4L310.8 232.3L310.6 232.1L310.4 231.8L310.2 231.4L310.0 230.9L309.8 230.4L309.6 229.7L309.5 229.1L309.3 228.4L309.1 227.7L308.9 226.9L308.7 226.3L308.5 225.6L308.3 225.1L308.2 224.6L308.0 224.2L307.8 223.9L307.6 223.8L307.4 223.7L307.2 223.8L307.0 224.0L306.9 224.4L306.7 224.9L306.5 225.6L306.3 226.4L306.1 227.4L305.9 228.4L305.8 229.6L305.6 230.8L305.4 232.2L305.2 233.5L305.0 234.9L304.8 236.3L304.6 237.7L304.5 239.1L304.3 240.4L304.1 241.6L303.9 242.7L303.7 243.8L303.5 244.7L303.3 245.6L303.2 246.3L303.0 246.8L302.8 247.3L302.6 247.7L302.4 247.9L302.2 248.1L302.0 248.1L301.9 248.2L301.7 248.2L301.5 248.2L301.3 248.2L301.1 248.2L300.9 248.2L300.7 248.3L300.6 248.4L300.4 248.6L300.2 248.9L300.0 249.3L299.8 249.8L299.6 250.4L299.4 251.2L299.3 252.1L299.1 253.1L298.9 254.2L298.7 255.4L298.5 256.8L298.3 258.2L298.2 259.7L298.0 261.3L297.8 262.9L297.6 264.5L297.4 266.1L297.2 267.7L297.0 269.2L296.9 270.7L296.7 272.1L296.5 273.4L296.3 274.6L296.1 275.6L295.9 276.5L295.7 277.3L295.6 277.9L295.4 278.4L295.2 278.7L295.0 278.9L294.8 279.0L294.6 278.9L294.4 278.7L294.3 278.4L294.1 278.0L293.9 277.6L293.7 277.1L293.5 276.6L293.3 276.1L293.1 275.6L293.0 275.2L292.8 274.8L292.6 274.5L292.4 274.2L292.2 274.0L292.0 274.0L291.8 274.0L291.7 274.1L291.5 274.3L291.3 274.6L291.1 275.0L290.9 275.5L290.7 276.1L290.6 276.7L290.4 277.3L290.2 278.0L290.0 278.7L289.8 279.4L289.6 280.0L289.4 280.6L289.3 281.1L289.1 281.5L288.9 281.8L288.7 282.0L288.5 282.1L288.3 282.0L288.1 281.7L288.0 281.4L287.8 280.8L287.6 280.1L287.4 279.3L287.2 278.3L287.0 277.2L286.8 276.0L286.7 274.7L286.5 273.3L286.3 271.9L286.1 270.4L285.9 268.9L285.7 267.4L285.5 266.0L285.4 264.5L285.2 263.2L285.0 261.9L284.8 260.7L284.6 259.7L284.4 258.7L284.2 257.8L284.1 257.1L283.9 256.5L283.7 256.0L283.5 255.6L283.3 255.4L283.1 255.2L282.9 255.1L282.8 255.0L282.6 255.0L282.4 255.1L282.2 255.1L282.0 255.1L281.8 255.1L281.7 255.1L281.5 255.0L281.3 254.8L281.1 254.5L280.9 254.1L280.7 253.6L280.5 252.9L280.4 252.2L280.2 251.3L280.0 250.3L279.8 249.1L279.6 247.9L279.4 246.6L279.2 245.2L279.1 243.7L278.9 242.2L278.7 240.6L278.5 239.1L278.3 237.6L278.1 236.1L277.9 234.6L277.8 233.3L277.6 232.0L277.4 230.8L277.2 229.8L277.0 228.8L276.8 228.1L276.6 227.5L276.5 227.0L276.3 226.7L276.1 226.5L275.9 226.5L275.7 226.6L275.5 226.9L275.3 227.3L275.2 227.8L275.0 228.4L274.8 229.0L274.6 229.7L274.4 230.4L274.2 231.0L274.1 231.7L273.9 232.3L273.7 232.8L273.5 233.3L273.3 233.7L273.1 234.0L272.9 234.1L272.8 234.1L272.6 233.9L272.4 233.7L272.2 233.4L272.0 233.0L271.8 232.5L271.6 231.9L271.5 231.3L271.3 230.7L271.1 230.0L270.9 229.4L270.7 228.7L270.5 228.1L270.3 227.6L270.2 227.2L270.0 226.8L269.8 226.6L269.6 226.5L269.4 226.6L269.2 226.7L269.0 227.0L268.9 227.3L268.7 227.9L268.5 228.5L268.3 229.4L268.1 230.3L267.9 231.4L267.7 232.5L267.6 233.8L267.4 235.1L267.2 236.4L267.0 237.8L266.8 239.2L266.6 240.6L266.5 241.9L266.3 243.2L266.1 244.4L265.9 245.5L265.7 246.5L265.5 247.5L265.3 248.3L265.2 248.9L265.0 249.5L264.8 249.9L264.6 250.2L264.4 250.4L264.2 250.5L264.0 250.5L263.9 250.5L263.7 250.4L263.5 250.2L263.3 250.1Z" fill="#6fc4c4" stroke="none"/>
<path d="M263.3 249.2L263.5 249.2L263.7 249.3L263.9 249.2L264.0 249.2L264.2 249.0L264.4 248.8L264.6 248.4L264.8 248.0L265.0 247.4L265.2 246.7L265.3 245.9L265.5 245.0L265.7 244.0L265.9 242.8L266.1 241.5L266.3 240.2L266.5 238.8L266.6 237.3L266.8 235.8L267.0 234.3L267.2 232.8L267.4 231.3L267.6 229.8L267.7 228.5L267.9 227.2L268.1 226.0L268.3 224.9L268.5 224.0L268.7 223.2L268.9 222.5L269.0 222.0L269.2 221.6L269.4 221.4L269.6 221.4L269.8 221.4L270.0 221.7L270.2 222.0L270.3 222.4L270.5 222.9L270.7 223.5L270.9 224.1L271.1 224.7L271.3 225.3L271.5 226.0L271.6 226.5L271.8 227.1L272.0 227.6L272.2 228.0L272.4 228.3L272.6 228.5L272.8 228.6L272.9 228.6L273.1 228.5L273.3 228.3L273.5 228.0L273.7 227.6L273.9 227.1L274.1 226.6L274.2 226.1L274.4 225.5L274.6 224.9L274.8 224.3L275.0 223.8L275.2 223.3L275.3 222.9L275.5 222.5L275.7 222.3L275.9 222.2L276.1 222.2L276.3 222.4L276.5 222.7L276.6 223.2L276.8 223.8L277.0 224.6L277.2 225.5L277.4 226.6L277.6 227.7L277.8 229.0L277.9 230.4L278.1 231.8L278.3 233.3L278.5 234.8L278.7 236.4L278.9 237.9L279.1 239.4L279.2 240.9L279.4 242.3L279.6 243.6L279.8 244.9L280.0 246.0L280.2 247.0L280.4 247.9L280.5 248.7L280.7 249.3L280.9 249.8L281.1 250.2L281.3 250.5L281.5 250.7L281.7 250.8L281.8 250.9L282.0 250.9L282.2 250.9L282.4 250.8L282.6 250.8L282.8 250.8L282.9 250.8L283.1 250.9L283.3 251.1L283.5 251.4L283.7 251.8L283.9 252.2L284.1 252.9L284.2 253.6L284.4 254.4L284.6 255.4L284.8 256.5L285.0 257.7L285.2 258.9L285.4 260.3L285.5 261.7L285.7 263.2L285.9 264.7L286.1 266.1L286.3 267.6L286.5 269.0L286.7 270.4L286.8 271.7L287.0 272.9L287.2 274.0L287.4 275.0L287.6 275.9L287.8 276.6L288.0 277.1L288.1 277.5L288.3 277.7L288.5 277.8L288.7 277.8L288.9 277.6L289.1 277.3L289.3 276.9L289.4 276.3L289.6 275.8L289.8 275.1L290.0 274.5L290.2 273.8L290.4 273.1L290.6 272.4L290.7 271.8L290.9 271.2L291.1 270.8L291.3 270.4L291.5 270.0L291.7 269.8L291.8 269.7L292.0 269.7L292.2 269.8L292.4 270.0L292.6 270.3L292.8 270.7L293.0 271.1L293.1 271.6L293.3 272.1L293.5 272.7L293.7 273.2L293.9 273.7L294.1 274.2L294.3 274.6L294.4 275.0L294.6 275.2L294.8 275.3L295.0 275.3L295.2 275.2L295.4 274.9L295.6 274.4L295.7 273.9L295.9 273.1L296.1 272.3L296.3 271.2L296.5 270.1L296.7 268.9L296.9 267.5L297.0 266.1L297.2 264.6L297.4 263.0L297.6 261.4L297.8 259.9L298.0 258.3L298.2 256.8L298.3 255.3L298.5 253.9L298.7 252.6L298.9 251.4L299.1 250.4L299.3 249.4L299.4 248.6L299.6 247.8L299.8 247.3L300.0 246.8L300.2 246.4L300.4 246.2L300.6 246.0L300.7 245.9L300.9 245.9L301.1 245.9L301.3 246.0L301.5 246.0L301.7 246.0L301.9 246.0L302.0 246.0L302.2 245.8L302.4 245.6L302.6 245.3L302.8 244.9L303.0 244.4L303.2 243.7L303.3 243.0L303.5 242.1L303.7 241.1L303.9 240.0L304.1 238.8L304.3 237.5L304.5 236.1L304.6 234.7L304.8 233.3L305.0 231.8L305.2 230.4L305.4 229.0L305.6 227.6L305.8 226.3L305.9 225.1L306.1 223.9L306.3 222.9L306.5 222.1L306.7 221.3L306.9 220.8L307.0 220.3L307.2 220.1L307.4 219.9L307.6 220.0L307.8 220.1L308.0 220.4L308.2 220.8L308.3 221.3L308.5 221.9L308.7 222.6L308.9 223.3L309.1 224.0L309.3 224.8L309.5 225.5L309.6 226.2L309.8 226.8L310.0 227.4L310.2 227.9L310.4 228.3L310.6 228.6L310.8 228.9L310.9 229.0L311.1 229.0L311.3 228.9L311.5 228.7L311.7 228.4L311.9 228.0L312.1 227.6L312.2 227.1L312.4 226.7L312.6 226.2L312.8 225.7L313.0 225.2L313.2 224.8L313.4 224.5L313.5 224.3L313.7 224.1L313.9 224.1L314.1 224.2L314.3 224.4L314.5 224.8L314.6 225.4L314.8 226.1L315.0 226.9L315.2 227.9L315.4 229.0L315.6 230.2L315.8 231.6L315.9 233.0L316.1 234.5L316.3 236.0L316.5 237.6L316.7 239.2L316.9 240.8L317.1 242.4L317.2 243.9L317.4 245.3L317.6 246.7L317.8 247.9L318.0 249.1L318.2 250.1L318.4 251.1L318.5 251.8L318.7 252.5L318.9 253.0L319.1 253.5L319.3 253.8L319.5 254.0L319.7 254.1L319.8 254.1L320.0 254.1L320.2 254.1L320.4 254.1L320.6 254.0L320.8 254.0L321.0 254.0L321.1 254.1L321.3 254.2L321.5 254.5L321.7 254.8L321.9 255.2L322.1 255.8L322.2 256.5L322.4 257.3L322.6 258.2L322.8 259.2L323.0 260.3L323.2 261.6L323.4 262.9L323.5 264.2L323.7 265.6L323.9 267.0L324.1 268.4L324.3 269.8L324.5 271.2L324.7 272.5L324.8 273.7L325.0 274.9L325.2 275.9L325.4 276.8L325.6 277.5L325.8 278.2L326.0 278.6L326.1 278.9L326.3 279.1L326.5 279.1L326.7 279.0L326.9 278.7L327.1 278.3L327.3 277.8L327.4 277.2L327.6 276.5L327.8 275.7L328.0 275.0L328.2 274.2L328.4 273.4L328.6 272.6L328.7 271.9L328.9 271.3L329.1 270.7L329.3 270.1L329.5 269.7L329.7 269.4L329.8 269.2L330.0 269.1L330.2 269.1L330.4 269.2L330.6 269.4L330.8 269.7L331.0 270.0L331.1 270.4L331.3 270.8L331.5 271.3L331.7 271.7L331.9 272.1L332.1 272.5L332.3 272.9L332.4 273.1L332.6 273.3L332.8 273.3L333.0 273.2L333.2 273.0L333.4 272.7L333.6 272.2L333.7 271.5L333.9 270.7L334.1 269.8L334.3 268.7L334.5 267.5L334.7 266.2L334.9 264.8L335.0 263.3L335.2 261.8L335.4 260.2L335.6 258.6L335.8 256.9L336.0 255.3L336.2 253.8L336.3 252.3L336.5 250.9L336.7 249.5L336.9 248.3L337.1 247.2L337.3 246.2L337.5 245.4L337.6 244.6L337.8 244.0L338.0 243.5L338.2 243.2L338.4 242.9L338.6 242.8L338.7 242.7L338.9 242.7L339.1 242.7L339.3 242.8L339.5 242.8L339.7 242.9L339.9 242.9L340.0 242.9L340.2 242.8L340.4 242.6L340.6 242.3L340.8 242.0L341.0 241.5L341.2 240.9L341.3 240.2L341.5 239.4L341.7 238.4L341.9 237.4L342.1 236.2L342.3 235.0L342.5 233.7L342.6 232.4L342.8 231.0L343.0 229.6L343.2 228.3L343.4 226.9L343.6 225.6L343.8 224.4L343.9 223.2L344.1 222.2L344.3 221.3L344.5 220.5L344.7 219.9L344.9 219.4L345.1 219.0L345.2 218.8L345.4 218.8L345.6 218.9L345.8 219.2L346.0 219.6L346.2 220.1L346.3 220.7L346.5 221.4L346.7 222.1L346.9 222.9L347.1 223.8L347.3 224.6L347.5 225.4L347.6 226.2L347.8 227.0L348.0 227.7L348.2 228.3L348.4 228.8L348.6 229.2L348.8 229.5L348.9 229.7L349.1 229.8L349.3 229.8L349.5 229.7L349.7 229.5L349.9 229.3L350.1 229.0L350.2 228.6L350.4 228.2L350.6 227.8L350.8 227.4L351.0 227.0L351.2 226.7L351.4 226.5L351.5 226.3L351.7 226.2L351.9 226.3L352.1 226.5L352.3 226.8L352.5 227.2L352.7 227.8L352.8 228.6L353.0 229.5L353.2 230.5L353.4 231.7L353.6 232.9L353.8 234.3L353.9 235.8L354.1 237.3L354.3 238.9L354.5 240.6L354.7 242.2L354.9 243.8L355.1 245.4L355.2 247.0L355.4 248.4L355.6 249.8L355.8 251.1L356.0 252.3L356.2 253.3L356.4 254.3L356.5 255.1L356.7 255.7L356.9 256.3L357.1 256.7L357.3 257.0L357.5 257.2L357.7 257.3L357.8 257.4L358.0 257.3L358.2 257.3L358.4 257.2L358.6 257.1L358.8 257.1L359.0 257.1L359.1 257.1L359.3 257.2L359.5 257.4L359.7 257.7L359.9 258.1L360.1 258.6L360.3 259.2L360.4 259.9L360.6 260.8L360.8 261.7L361.0 262.8L361.2 263.9L361.4 265.2L361.5 266.4L361.7 267.8L361.9 269.1L362.1 270.4L362.3 271.8L362.5 273.0L362.7 274.3L362.8 275.4L363.0 276.5L363.2 277.4L363.4 278.2L363.6 278.9L363.8 279.4L364.0 279.8L364.1 280.0L364.3 280.1L364.5 280.0L364.7 279.8L364.9 279.4L365.1 278.9L365.3 278.3L365.4 277.6L365.6 276.8L365.8 276.0L366.0 275.1L366.2 274.2L366.4 273.3L366.6 272.5L366.7 271.6L366.9 270.9L367.1 270.2L367.3 269.5L367.5 269.0L367.7 268.6L367.9 268.3L368.0 268.1L368.2 268.0L368.4 268.0L368.6 268.1L368.8 268.3L369.0 268.5L369.1 268.8L369.3 269.1L369.5 269.5L369.7 269.9L369.9 270.2L370.1 270.5L370.3 270.8L370.4 270.9L370.6 271.0L370.8 271.0L371.0 270.9L371.2 270.6L371.4 270.2L371.6 269.6L371.7 268.9L371.9 268.1L372.1 267.1L372.3 266.0L372.5 264.7L372.7 263.4L372.9 261.9L373.0 260.4L373.2 258.8L373.4 257.2L373.6 255.5L373.8 253.9L374.0 252.3L374.2 250.7L374.3 249.2L374.5 247.7L374.7 246.4L374.9 245.1L375.1 244.0L375.3 243.0L375.5 242.1L375.6 241.4L375.8 240.8L376.0 240.3L376.2 240.0L376.4 239.7L376.6 239.6L376.7 239.5L376.9 239.5L377.1 239.6L377.3 239.6L377.5 239.7L377.7 239.8L377.9 239.9L378.0 239.9L378.2 239.9L378.4 239.7L378.6 239.5L378.8 239.2L379.0 238.8L379.2 238.3L379.3 237.6L379.5 236.9L379.7 236.0L379.9 235.0L380.1 234.0L380.3 232.8L380.5 231.6L380.6 230.3L380.8 229.1L381.0 227.8L381.2 226.5L381.4 225.2L381.6 224.0L381.8 222.8L381.9 221.8L382.1 220.8L382.3 220.0L382.5 219.3L382.7 218.7L382.9 218.3L383.1 218.1L383.2 218.0L383.4 218.0L383.6 218.3L383.8 218.6L384.0 219.1L384.2 219.7L384.3 220.4L384.5 221.2L384.7 222.0L384.9 222.9L385.1 223.9L385.3 224.8L385.5 225.8L385.6 226.7L385.8 227.5L386.0 228.3L386.2 229.0L386.4 229.6L386.6 230.1L386.8 230.6L386.9 230.9L387.1 231.1L387.3 231.2L387.5 231.2L387.7 231.1L387.9 230.9L388.1 230.7L388.2 230.4L388.4 230.1L388.6 229.8L388.8 229.5L389.0 229.2L389.2 228.9L389.4 228.7L389.5 228.6L389.7 228.6L389.9 228.8L390.1 229.0L390.3 229.4L390.5 229.9L390.7 230.5L390.8 231.3L391.0 232.3L391.2 233.3L391.4 234.5L391.6 235.9L391.8 237.3L392.0 238.8L392.1 240.4L392.3 242.0L392.5 243.6L392.7 245.3L392.9 246.9L393.1 248.6L393.2 250.1L393.4 251.6L393.6 253.0L393.8 254.3L394.0 255.5L394.2 256.6L394.4 257.5L394.5 258.3L394.7 259.0L394.9 259.5L395.1 259.9L395.3 260.2L395.5 260.4L395.7 260.5L395.8 260.5L396.0 260.4L396.2 260.3L396.4 260.2L396.6 260.1L396.8 260.0L397.0 259.9L397.1 259.9L397.3 260.0L397.5 260.1L397.7 260.3L397.9 260.7L398.1 261.1L398.3 261.7L398.4 262.3L398.6 263.1L398.8 264.0L399.0 265.0L399.2 266.0L399.4 267.2L399.6 268.4L399.7 269.6L399.9 270.9L400.1 272.1L400.3 273.4L400.5 274.6L400.7 275.7L400.8 276.8L401.0 277.7L401.2 278.6L401.4 279.3L401.6 279.9L401.8 280.3L402.0 280.6L402.1 280.7L402.3 280.7L402.5 280.5L402.7 280.2L402.9 279.7L403.1 279.1L403.3 278.4L403.4 277.6L403.6 276.7L403.8 275.8L404.0 274.8L404.2 273.8L404.4 272.8L404.6 271.9L404.7 271.0L404.9 270.1L405.1 269.3L405.3 268.6L405.5 267.9L405.7 267.4L405.9 267.0L406.0 266.7L406.2 266.5L406.4 266.4L406.6 266.4L406.8 266.5L407.0 266.7L407.2 266.9L407.3 267.1L407.5 267.4L407.7 267.7L407.9 268.0L408.1 268.2L408.3 268.4L408.4 268.5L408.6 268.5L408.8 268.4L409.0 268.2L409.2 267.9L409.4 267.4L409.6 266.8L409.7 266.1L409.9 265.2L410.1 264.2L410.3 263.0L410.5 261.7L410.7 260.4L410.9 258.9L411.0 257.3L411.2 255.7L411.4 254.1L411.6 252.4" fill="none" stroke="#d8405e" stroke-width="1.2"/>
<path d="M263.3 249.2L263.5 249.2L263.7 249.3L263.9 249.2L264.0 249.2L264.2 249.0L264.4 248.8L264.6 248.4L264.8 248.0L265.0 247.4L265.2 246.7L265.3 245.9L265.5 245.0L265.7 244.0L265.9 242.8L266.1 241.5L266.3 240.2L266.5 238.8L266.6 237.3L266.8 235.8L267.0 234.3L267.2 232.8L267.4 231.3L267.6 229.8L267.7 228.5L267.9 227.2L268.1 226.0L268.3 224.9L268.5 224.0L268.7 223.2L268.9 222.5L269.0 222.0L269.2 221.6L269.4 221.4L269.6 221.4L269.8 221.4L270.0 221.7L270.2 222.0L270.3 222.4L270.5 222.9L270.7 223.5L270.9 224.1L271.1 224.7L271.3 225.3L271.5 226.0L271.6 226.5L271.8 227.1L272.0 227.6L272.2 228.0L272.4 228.3L272.6 228.5L272.8 228.6L272.9 228.6L273.1 228.5L273.3 228.3L273.5 228.0L273.7 227.6L273.9 227.1L274.1 226.6L274.2 226.1L274.4 225.5L274.6 224.9L274.8 224.3L275.0 223.8L275.2 223.3L275.3 222.9L275.5 222.5L275.7 222.3L275.9 222.2L276.1 222.2L276.3 222.4L276.5 222.7L276.6 223.2L276.8 223.8L277.0 224.6L277.2 225.5L277.4 226.6L277.6 227.7L277.8 229.0L277.9 230.4L278.1 231.8L278.3 233.3L278.5 234.8L278.7 236.4L278.9 237.9L279.1 239.4L279.2 240.9L279.4 242.3L279.6 243.6L279.8 244.9L280.0 246.0L280.2 247.0L280.4 247.9L280.5 248.7L280.7 249.3L280.9 249.8L281.1 250.2L281.3 250.5L281.5 250.7L281.7 250.8L281.8 250.9L282.0 250.9L282.2 250.9L282.4 250.8L282.6 250.8L282.8 250.8L282.9 250.8L283.1 250.9L283.3 251.1L283.5 251.4L283.7 251.8L283.9 252.2L284.1 252.9L284.2 253.6L284.4 254.4L284.6 255.4L284.8 256.5L285.0 257.7L285.2 258.9L285.4 260.3L285.5 261.7L285.7 263.2L285.9 264.7L286.1 266.1L286.3 267.6L286.5 269.0L286.7 270.4L286.8 271.7L287.0 272.9L287.2 274.0L287.4 275.0L287.6 275.9L287.8 276.6L288.0 277.1L288.1 277.5L288.3 277.7L288.5 277.8L288.7 277.8L288.9 277.6L289.1 277.3L289.3 276.9L289.4 276.3L289.6 275.8L289.8 275.1L290.0 274.5L290.2 273.8L290.4 273.1L290.6 272.4L290.7 271.8L290.9 271.2L291.1 270.8L291.3 270.4L291.5 270.0L291.7 269.8L291.8 269.7L292.0 269.7L292.2 269.8L292.4 270.0L292.6 270.3L292.8 270.7L293.0 271.1L293.1 271.6L293.3 272.1L293.5 272.7L293.7 273.2L293.9 273.7L294.1 274.2L294.3 274.6L294.4 275.0L294.6 275.2L294.8 275.3L295.0 275.3L295.2 275.2L295.4 274.9L295.6 274.4L295.7 273.9L295.9 273.1L296.1 272.3L296.3 271.2L296.5 270.1L296.7 268.9L296.9 267.5L297.0 266.1L297.2 264.6L297.4 263.0L297.6 261.4L297.8 259.9L298.0 258.3L298.2 256.8L298.3 255.3L298.5 253.9L298.7 252.6L298.9 251.4L299.1 250.4L299.3 249.4L299.4 248.6L299.6 247.8L299.8 247.3L300.0 246.8L300.2 246.4L300.4 246.2L300.6 246.0L300.7 245.9L300.9 245.9L301.1 245.9L301.3 246.0L301.5 246.0L301.7 246.0L301.9 246.0L302.0 246.0L302.2 245.8L302.4 245.6L302.6 245.3L302.8 244.9L303.0 244.4L303.2 243.7L303.3 243.0L303.5 242.1L303.7 241.1L303.9 240.0L304.1 238.8L304.3 237.5L304.5 236.1L304.6 234.7L304.8 233.3L305.0 231.8L305.2 230.4L305.4 229.0L305.6 227.6L305.8 226.3L305.9 225.1L306.1 223.9L306.3 222.9L306.5 222.1L306.7 221.3L306.9 220.8L307.0 220.3L307.2 220.1L307.4 219.9L307.6 220.0L307.8 220.1L308.0 220.4L308.2 220.8L308.3 221.3L308.5 221.9L308.7 222.6L308.9 223.3L309.1 224.0L309.3 224.8L309.5 225.5L309.6 226.2L309.8 226.8L310.0 227.4L310.2 227.9L310.4 228.3L310.6 228.6L310.8 228.9L310.9 229.0L311.1 229.0L311.3 228.9L311.5 228.7L311.7 228.4L311.9 228.0L312.1 227.6L312.2 227.1L312.4 226.7L312.6 226.2L312.8 225.7L313.0 225.2L313.2 224.8L313.4 224.5L313.5 224.3L313.7 224.1L313.9 224.1L314.1 224.2L314.3 224.4L314.5 224.8L314.6 225.4L314.8 226.1L315.0 226.9L315.2 227.9L315.4 229.0L315.6 230.2L315.8 231.6L315.9 233.0L316.1 234.5L316.3 236.0L316.5 237.6L316.7 239.2L316.9 240.8L317.1 242.4L317.2 243.9L317.4 245.3L317.6 246.7L317.8 247.9L318.0 249.1L318.2 250.1L318.4 251.1L318.5 251.8L318.7 252.5L318.9 253.0L319.1 253.5L319.3 253.8L319.5 254.0L319.7 254.1L319.8 254.1L320.0 254.1L320.2 254.1L320.4 254.1L320.6 254.0L320.8 254.0L321.0 254.0L321.1 254.1L321.3 254.2L321.5 254.5L321.7 254.8L321.9 255.2L322.1 255.8L322.2 256.5L322.4 257.3L322.6 258.2L322.8 259.2L323.0 260.3L323.2 261.6L323.4 262.9L323.5 264.2L323.7 265.6L323.9 267.0L324.1 268.4L324.3 269.8L324.5 271.2L324.7 272.5L324.8 273.7L325.0 274.9L325.2 275.9L325.4 276.8L325.6 277.5L325.8 278.2L326.0 278.6L326.1 278.9L326.3 279.1L326.5 279.1L326.7 279.0L326.9 278.7L327.1 278.3L327.3 277.8L327.4 277.2L327.6 276.5L327.8 275.7L328.0 275.0L328.2 274.2L328.4 273.4L328.6 272.6L328.7 271.9L328.9 271.3L329.1 270.7L329.3 270.1L329.5 269.7L329.7 269.4L329.8 269.2L330.0 269.1L330.2 269.1L330.4 269.2L330.6 269.4L330.8 269.7L331.0 270.0L331.1 270.4L331.3 270.8L331.5 271.3L331.7 271.7L331.9 272.1L332.1 272.5L332.3 272.9L332.4 273.1L332.6 273.3L332.8 273.3L333.0 273.2L333.2 273.0L333.4 272.7L333.6 272.2L333.7 271.5L333.9 270.7L334.1 269.8L334.3 268.7L334.5 267.5L334.7 266.2L334.9 264.8L335.0 263.3L335.2 261.8L335.4 260.2L335.6 258.6L335.8 256.9L336.0 255.3L336.2 253.8L336.3 252.3L336.5 250.9L336.7 249.5L336.9 248.3L337.1 247.2L337.3 246.2L337.5 245.4L337.6 244.6L337.8 244.0L338.0 243.5L338.2 243.2L338.4 242.9L338.6 242.8L338.7 242.7L338.9 242.7L339.1 242.7L339.3 242.8L339.5 242.8L339.7 242.9L339.9 242.9L340.0 242.9L340.2 242.8L340.4 242.6L340.6 242.3L340.8 242.0L341.0 241.5L341.2 240.9L341.3 240.2L341.5 239.4L341.7 238.4L341.9 237.4L342.1 236.2L342.3 235.0L342.5 233.7L342.6 232.4L342.8 231.0L343.0 229.6L343.2 228.3L343.4 226.9L343.6 225.6L343.8 224.4L343.9 223.2L344.1 222.2L344.3 221.3L344.5 220.5L344.7 219.9L344.9 219.4L345.1 219.0L345.2 218.8L345.4 218.8L345.6 218.9L345.8 219.2L346.0 219.6L346.2 220.1L346.3 220.7L346.5 221.4L346.7 222.1L346.9 222.9L347.1 223.8L347.3 224.6L347.5 225.4L347.6 226.2L347.8 227.0L348.0 227.7L348.2 228.3L348.4 228.8L348.6 229.2L348.8 229.5L348.9 229.7L349.1 229.8L349.3 229.8L349.5 229.7L349.7 229.5L349.9 229.3L350.1 229.0L350.2 228.6L350.4 228.2L350.6 227.8L350.8 227.4L351.0 227.0L351.2 226.7L351.4 226.5L351.5 226.3L351.7 226.2L351.9 226.3L352.1 226.5L352.3 226.8L352.5 227.2L352.7 227.8L352.8 228.6L353.0 229.5L353.2 230.5L353.4 231.7L353.6 232.9L353.8 234.3L353.9 235.8L354.1 237.3L354.3 238.9L354.5 240.6L354.7 242.2L354.9 243.8L355.1 245.4L355.2 247.0L355.4 248.4L355.6 249.8L355.8 251.1L356.0 252.3L356.2 253.3L356.4 254.3L356.5 255.1L356.7 255.7L356.9 256.3L357.1 256.7L357.3 257.0L357.5 257.2L357.7 257.3L357.8 257.4L358.0 257.3L358.2 257.3L358.4 257.2L358.6 257.1L358.8 257.1L359.0 257.1L359.1 257.1L359.3 257.2L359.5 257.4L359.7 257.7L359.9 258.1L360.1 258.6L360.3 259.2L360.4 259.9L360.6 260.8L360.8 261.7L361.0 262.8L361.2 263.9L361.4 265.2L361.5 266.4L361.7 267.8L361.9 269.1L362.1 270.4L362.3 271.8L362.5 273.0L362.7 274.3L362.8 275.4L363.0 276.5L363.2 277.4L363.4 278.2L363.6 278.9L363.8 279.4L364.0 279.8L364.1 280.0L364.3 280.1L364.5 280.0L364.7 279.8L364.9 279.4L365.1 278.9L365.3 278.3L365.4 277.6L365.6 276.8L365.8 276.0L366.0 275.1L366.2 274.2L366.4 273.3L366.6 272.5L366.7 271.6L366.9 270.9L367.1 270.2L367.3 269.5L367.5 269.0L367.7 268.6L367.9 268.3L368.0 268.1L368.2 268.0L368.4 268.0L368.6 268.1L368.8 268.3L369.0 268.5L369.1 268.8L369.3 269.1L369.5 269.5L369.7 269.9L369.9 270.2L370.1 270.5L370.3 270.8L370.4 270.9L370.6 271.0L370.8 271.0L371.0 270.9L371.2 270.6L371.4 270.2L371.6 269.6L371.7 268.9L371.9 268.1L372.1 267.1L372.3 266.0L372.5 264.7L372.7 263.4L372.9 261.9L373.0 260.4L373.2 258.8L373.4 257.2L373.6 255.5L373.8 253.9L374.0 252.3L374.2 250.7L374.3 249.2L374.5 247.7L374.7 246.4L374.9 245.1L375.1 244.0L375.3 243.0L375.5 242.1L375.6 241.4L375.8 240.8L376.0 240.3L376.2 240.0L376.4 239.7L376.6 239.6L376.7 239.5L376.9 239.5L377.1 239.6L377.3 239.6L377.5 239.7L377.7 239.8L377.9 239.9L378.0 239.9L378.2 239.9L378.4 239.7L378.6 239.5L378.8 239.2L379.0 238.8L379.2 238.3L379.3 237.6L379.5 236.9L379.7 236.0L379.9 235.0L380.1 234.0L380.3 232.8L380.5 231.6L380.6 230.3L380.8 229.1L381.0 227.8L381.2 226.5L381.4 225.2L381.6 224.0L381.8 222.8L381.9 221.8L382.1 220.8L382.3 220.0L382.5 219.3L382.7 218.7L382.9 218.3L383.1 218.1L383.2 218.0L383.4 218.0L383.6 218.3L383.8 218.6L384.0 219.1L384.2 219.7L384.3 220.4L384.5 221.2L384.7 222.0L384.9 222.9L385.1 223.9L385.3 224.8L385.5 225.8L385.6 226.7L385.8 227.5L386.0 228.3L386.2 229.0L386.4 229.6L386.6 230.1L386.8 230.6L386.9 230.9L387.1 231.1L387.3 231.2L387.5 231.2L387.7 231.1L387.9 230.9L388.1 230.7L388.2 230.4L388.4 230.1L388.6 229.8L388.8 229.5L389.0 229.2L389.2 228.9L389.4 228.7L389.5 228.6L389.7 228.6L389.9 228.8L390.1 229.0L390.3 229.4L390.5 229.9L390.7 230.5L390.8 231.3L391.0 232.3L391.2 233.3L391.4 234.5L391.6 235.9L391.8 237.3L392.0 238.8L392.1 240.4L392.3 242.0L392.5 243.6L392.7 245.3L392.9 246.9L393.1 248.6L393.2 250.1L393.4 251.6L393.6 253.0L393.8 254.3L394.0 255.5L394.2 256.6L394.4 257.5L394.5 258.3L394.7 259.0L394.9 259.5L395.1 259.9L395.3 260.2L395.5 260.4L395.7 260.5L395.8 260.5L396.0 260.4L396.2 260.3L396.4 260.2L396.6 260.1L396.8 260.0L397.0 259.9L397.1 259.9L397.3 260.0L397.5 260.1L397.7 260.3L397.9 260.7L398.1 261.1L398.3 261.7L398.4 262.3L398.6 263.1L398.8 264.0L399.0 265.0L399.2 266.0L399.4 267.2L399.6 268.4L399.7 269.6L399.9 270.9L400.1 272.1L400.3 273.4L400.5 274.6L400.7 275.7L400.8 276.8L401.0 277.7L401.2 278.6L401.4 279.3L401.6 279.9L401.8 280.3L402.0 280.6L402.1 280.7L402.3 280.7L402.5 280.5L402.7 280.2L402.9 279.7L403.1 279.1L403.3 278.4L403.4 277.6L403.6 276.7L403.8 275.8L404.0 274.8L404.2 273.8L404.4 272.8L404.6 271.9L404.7 271.0L404.9 270.1L405.1 269.3L405.3 268.6L405.5 267.9L405.7 267.4L405.9 267.0L406.0 266.7L406.2 266.5L406.4 266.4L406.6 266.4L406.8 266.5L407.0 266.7L407.2 266.9L407.3 267.1L407.5 267.4L407.7 267.7L407.9 268.0L408.1 268.2L408.3 268.4L408.4 268.5L408.6 268.5L408.8 268.4L409.0 268.2L409.2 267.9L409.4 267.4L409.6 266.8L409.7 266.1L409.9 265.2L410.1 264.2L410.3 263.0L410.5 261.7L410.7 260.4L410.9 258.9L411.0 257.3L411.2 255.7L411.4 254.1L411.6 252.4" fill="none" stroke="#181818" stroke-width="0.9" stroke-dasharray="1.4,0.9"/>
<path d="M263.30,178.30 L263.30,302.40 L411.60,302.40" fill="none" stroke="#767676" stroke-width="1.45"/>
<line x1="263.30" y1="302.40" x2="263.30" y2="304.60" stroke="#767676" stroke-width="1"/>
<text transform="translate(263.30,313.45) scale(0.880,1)" text-anchor="middle" class="tk" style="font-size:9.85px">0</text>
<line x1="292.96" y1="302.40" x2="292.96" y2="304.60" stroke="#767676" stroke-width="1"/>
<text transform="translate(292.96,313.45) scale(0.880,1)" text-anchor="middle" class="tk" style="font-size:9.85px">10</text>
<line x1="322.62" y1="302.40" x2="322.62" y2="304.60" stroke="#767676" stroke-width="1"/>
<text transform="translate(322.62,313.45) scale(0.880,1)" text-anchor="middle" class="tk" style="font-size:9.85px">20</text>
<line x1="352.28" y1="302.40" x2="352.28" y2="304.60" stroke="#767676" stroke-width="1"/>
<text transform="translate(352.28,313.45) scale(0.880,1)" text-anchor="middle" class="tk" style="font-size:9.85px">30</text>
<line x1="381.94" y1="302.40" x2="381.94" y2="304.60" stroke="#767676" stroke-width="1"/>
<text transform="translate(381.94,313.45) scale(0.880,1)" text-anchor="middle" class="tk" style="font-size:9.85px">40</text>
<line x1="411.60" y1="302.40" x2="411.60" y2="304.60" stroke="#767676" stroke-width="1"/>
<text transform="translate(411.60,313.45) scale(0.880,1)" text-anchor="middle" class="tk" style="font-size:9.85px">50</text>
<line x1="261.10" y1="302.40" x2="263.30" y2="302.40" stroke="#767676" stroke-width="1"/>
<text transform="translate(259.00,305.85) scale(0.880,1)" text-anchor="end" class="tk" style="font-size:9.85px">−0.015</text>
<line x1="261.10" y1="284.67" x2="263.30" y2="284.67" stroke="#767676" stroke-width="1"/>
<text transform="translate(259.00,288.12) scale(0.880,1)" text-anchor="end" class="tk" style="font-size:9.85px">−0.010</text>
<line x1="261.10" y1="266.94" x2="263.30" y2="266.94" stroke="#767676" stroke-width="1"/>
<text transform="translate(259.00,270.39) scale(0.880,1)" text-anchor="end" class="tk" style="font-size:9.85px">−0.005</text>
<line x1="261.10" y1="249.21" x2="263.30" y2="249.21" stroke="#767676" stroke-width="1"/>
<text transform="translate(259.00,252.66) scale(0.880,1)" text-anchor="end" class="tk" style="font-size:9.85px">0.000</text>
<line x1="261.10" y1="231.49" x2="263.30" y2="231.49" stroke="#767676" stroke-width="1"/>
<text transform="translate(259.00,234.94) scale(0.880,1)" text-anchor="end" class="tk" style="font-size:9.85px">0.005</text>
<line x1="261.10" y1="213.76" x2="263.30" y2="213.76" stroke="#767676" stroke-width="1"/>
<text transform="translate(259.00,217.21) scale(0.880,1)" text-anchor="end" class="tk" style="font-size:9.85px">0.010</text>
<line x1="261.10" y1="196.03" x2="263.30" y2="196.03" stroke="#767676" stroke-width="1"/>
<text transform="translate(259.00,199.48) scale(0.880,1)" text-anchor="end" class="tk" style="font-size:9.85px">0.015</text>
<line x1="261.10" y1="178.30" x2="263.30" y2="178.30" stroke="#767676" stroke-width="1"/>
<text transform="translate(259.00,181.75) scale(0.880,1)" text-anchor="end" class="tk" style="font-size:9.85px">0.020</text>
<text transform="translate(337.45,324.30) scale(0.960,1)" text-anchor="middle" class="lb">Time (s)</text>
<text transform="translate(229.80,240.35) scale(0.960,1) rotate(-90)" text-anchor="middle" class="lb" style="font-size:9.60px">Displacement <tspan font-weight="bold" font-style="italic">x</tspan> (m)</text>
<rect x="265.50" y="181.75" width="143.70" height="12.15" rx="1.5" fill="#fff" stroke="#d8d8d8" stroke-width="0.9"/>
<line x1="267.90" y1="187.22" x2="282.60" y2="187.22" stroke="#e2566e" stroke-width="1.1"/>
<text transform="translate(288.20,190.32) scale(0.2500,0.2500)" class="lg" style="font-size:28.80px">True</text>
<line x1="315.40" y1="187.22" x2="330.00" y2="187.22" stroke="#555" stroke-width="0.8" stroke-dasharray="1.5,1.2"/>
<text transform="translate(334.70,190.32) scale(0.2500,0.2500)" class="lg" style="font-size:28.80px">SaPINNs</text>
<rect x="375.20" y="184.92" width="14.50" height="4.6" fill="#6fc4c4"/>
<text transform="translate(394.40,190.32) scale(0.2500)" class="lg" style="font-size:28.80px;stroke-width:0.8px">2</text>
<text transform="translate(400.30,190.32) scale(0.2500)" class="lg" font-weight="bold" font-style="italic" style="font-size:28.80px">σ</text>
<path d="M401.50,185.82 l1.3,-1.3 l1.3,1.3" fill="none" stroke="#111" stroke-width="0.75"/>
<path d="M477.5 243.4L477.7 241.8L477.9 240.2L478.1 238.6L478.3 237.0L478.5 235.4L478.7 233.8L478.9 232.2L479.1 230.6L479.3 229.1L479.5 227.5L479.7 226.0L479.9 224.5L480.1 223.0L480.3 221.5L480.5 220.1L480.7 218.7L480.9 217.2L481.1 215.9L481.3 214.5L481.4 213.2L481.6 211.9L481.8 210.6L482.0 209.4L482.2 208.2L482.4 207.0L482.6 205.9L482.8 204.8L483.0 203.8L483.2 202.8L483.4 201.8L483.6 200.9L483.8 200.0L484.0 199.1L484.2 198.3L484.4 197.5L484.6 196.8L484.8 196.1L485.0 195.5L485.2 194.9L485.4 194.4L485.6 193.9L485.8 193.5L486.0 193.1L486.2 192.8L486.4 192.5L486.6 192.2L486.8 192.0L487.0 191.9L487.2 191.8L487.4 191.8L487.6 191.8L487.8 191.9L488.0 192.0L488.2 192.1L488.4 192.3L488.6 192.6L488.8 192.9L489.0 193.3L489.2 193.7L489.4 194.1L489.5 194.7L489.7 195.2L489.9 195.8L490.1 196.5L490.3 197.2L490.5 197.9L490.7 198.7L490.9 199.5L491.1 200.4L491.3 201.3L491.5 202.2L491.7 203.2L491.9 204.3L492.1 205.3L492.3 206.4L492.5 207.6L492.7 208.8L492.9 210.0L493.1 211.2L493.3 212.5L493.5 213.8L493.7 215.1L493.9 216.5L494.1 217.9L494.3 219.3L494.5 220.8L494.7 222.2L494.9 223.7L495.1 225.2L495.3 226.7L495.5 228.3L495.7 229.8L495.9 231.4L496.1 232.9L496.3 234.5L496.5 236.1L496.7 237.7L496.9 239.3L497.1 240.9L497.2 242.5L497.4 243.7L497.6 244.2L497.8 244.7L498.0 245.3L498.2 245.8L498.4 246.3L498.6 246.9L498.8 247.4L499.0 247.9L499.2 248.4L499.4 248.9L499.6 249.4L499.8 249.9L500.0 250.4L500.2 250.9L500.4 251.4L500.6 251.9L500.8 252.3L501.0 252.8L501.2 253.2L501.4 253.7L501.6 254.1L501.8 254.5L502.0 254.9L502.2 255.3L502.4 255.7L502.6 256.1L502.8 256.4L503.0 256.8L503.2 257.1L503.4 257.4L503.6 257.7L503.8 258.0L504.0 258.3L504.2 258.6L504.4 258.8L504.6 259.0L504.8 259.3L505.0 259.5L505.1 259.6L505.3 259.8L505.5 260.0L505.7 260.1L505.9 260.2L506.1 260.3L506.3 260.4L506.5 260.5L506.7 260.5L506.9 260.6L507.1 260.6L507.3 260.6L507.5 260.6L507.7 260.6L507.9 260.5L508.1 260.5L508.3 260.4L508.5 260.3L508.7 260.2L508.9 260.0L509.1 259.9L509.3 259.7L509.5 259.6L509.7 259.4L509.9 259.2L510.1 258.9L510.3 258.7L510.5 258.4L510.7 258.2L510.9 257.9L511.1 257.6L511.3 257.3L511.5 257.0L511.7 256.6L511.9 256.3L512.1 255.9L512.3 255.5L512.5 255.2L512.7 254.8L512.9 254.3L513.0 253.9L513.2 253.5L513.4 253.1L513.6 252.6L513.8 252.1L514.0 251.7L514.2 251.2L514.4 250.7L514.6 250.2L514.8 249.7L515.0 249.2L515.2 248.7L515.4 248.2L515.6 247.7L515.8 247.2L516.0 246.6L516.2 246.1L516.4 245.6L516.6 245.0L516.8 244.5L517.0 244.0L517.2 243.4L517.4 241.9L517.6 240.3L517.8 238.7L518.0 237.1L518.2 235.5L518.4 233.9L518.6 232.3L518.8 230.7L519.0 229.2L519.2 227.6L519.4 226.1L519.6 224.6L519.8 223.1L520.0 221.6L520.2 220.2L520.4 218.7L520.6 217.3L520.8 216.0L521.0 214.6L521.1 213.3L521.3 212.0L521.5 210.7L521.7 209.5L521.9 208.3L522.1 207.1L522.3 206.0L522.5 204.9L522.7 203.8L522.9 202.8L523.1 201.8L523.3 200.9L523.5 200.0L523.7 199.2L523.9 198.4L524.1 197.6L524.3 196.9L524.5 196.2L524.7 195.6L524.9 195.0L525.1 194.4L525.3 194.0L525.5 193.5L525.7 193.1L525.9 192.8L526.1 192.5L526.3 192.2L526.5 192.1L526.7 191.9L526.9 191.8L527.1 191.8L527.3 191.8L527.5 191.8L527.7 192.0L527.9 192.1L528.1 192.3L528.3 192.6L528.5 192.9L528.7 193.3L528.9 193.7L529.0 194.1L529.2 194.6L529.4 195.2L529.6 195.8L529.8 196.4L530.0 197.1L530.2 197.8L530.4 198.6L530.6 199.5L530.8 200.3L531.0 201.2L531.2 202.2L531.4 203.2L531.6 204.2L531.8 205.3L532.0 206.4L532.2 207.5L532.4 208.7L532.6 209.9L532.8 211.1L533.0 212.4L533.2 213.7L533.4 215.1L533.6 216.4L533.8 217.8L534.0 219.2L534.2 220.7L534.4 222.1L534.6 223.6L534.8 225.1L535.0 226.6L535.2 228.2L535.4 229.7L535.6 231.3L535.8 232.8L536.0 234.4L536.2 236.0L536.4 237.6L536.6 239.2L536.8 240.8L536.9 242.4L537.1 243.6L537.3 244.2L537.5 244.7L537.7 245.2L537.9 245.8L538.1 246.3L538.3 246.8L538.5 247.3L538.7 247.9L538.9 248.4L539.1 248.9L539.3 249.4L539.5 249.9L539.7 250.4L539.9 250.9L540.1 251.4L540.3 251.8L540.5 252.3L540.7 252.8L540.9 253.2L541.1 253.6L541.3 254.1L541.5 254.5L541.7 254.9L541.9 255.3L542.1 255.7L542.3 256.0L542.5 256.4L542.7 256.7L542.9 257.1L543.1 257.4L543.3 257.7L543.5 258.0L543.7 258.3L543.9 258.5L544.1 258.8L544.3 259.0L544.5 259.2L544.6 259.4L544.8 259.6L545.0 259.8L545.2 260.0L545.4 260.1L545.6 260.2L545.8 260.3L546.0 260.4L546.2 260.5L546.4 260.5L546.6 260.6L546.8 260.6L547.0 260.6L547.2 260.6L547.4 260.6L547.6 260.5L547.8 260.5L548.0 260.4L548.2 260.3L548.4 260.2L548.6 260.1L548.8 259.9L549.0 259.8L549.2 259.6L549.4 259.4L549.6 259.2L549.8 259.0L550.0 258.7L550.2 258.5L550.4 258.2L550.6 257.9L550.8 257.6L551.0 257.3L551.2 257.0L551.4 256.7L551.6 256.3L551.8 255.9L552.0 255.6L552.2 255.2L552.4 254.8L552.5 254.4L552.7 254.0L552.9 253.5L553.1 253.1L553.3 252.6L553.5 252.2L553.7 251.7L553.9 251.2L554.1 250.8L554.3 250.3L554.5 249.8L554.7 249.3L554.9 248.8L555.1 248.2L555.3 247.7L555.5 247.2L555.7 246.7L555.9 246.1L556.1 245.6L556.3 245.1L556.5 244.5L556.7 244.0L556.9 243.5L557.1 242.0L557.3 240.4L557.5 238.8L557.7 237.2L557.9 235.6L558.1 234.0L558.3 232.4L558.5 230.8L558.7 229.3L558.9 227.7L559.1 226.2L559.3 224.7L559.5 223.2L559.7 221.7L559.9 220.3L560.1 218.8L560.3 217.4L560.5 216.0L560.6 214.7L560.8 213.4L561.0 212.1L561.2 210.8L561.4 209.6L561.6 208.4L561.8 207.2L562.0 206.1L562.2 205.0L562.4 203.9L562.6 202.9L562.8 201.9L563.0 201.0L563.2 200.1L563.4 199.2L563.6 198.4L563.8 197.6L564.0 196.9L564.2 196.2L564.4 195.6L564.6 195.0L564.8 194.5L565.0 194.0L565.2 193.5L565.4 193.1L565.6 192.8L565.8 192.5L566.0 192.3L566.2 192.1L566.4 191.9L566.6 191.8L566.8 191.8L567.0 191.8L567.2 191.8L567.4 191.9L567.6 192.1L567.8 192.3L568.0 192.6L568.2 192.9L568.4 193.2L568.5 193.6L568.7 194.1L568.9 194.6L569.1 195.1L569.3 195.7L569.5 196.4L569.7 197.1L569.9 197.8L570.1 198.6L570.3 199.4L570.5 200.3L570.7 201.2L570.9 202.1L571.1 203.1L571.3 204.1L571.5 205.2L571.7 206.3L571.9 207.4L572.1 208.6L572.3 209.8L572.5 211.1L572.7 212.3L572.9 213.6L573.1 215.0L573.3 216.3L573.5 217.7L573.7 219.1L573.9 220.6L574.1 222.0L574.3 223.5L574.5 225.0L574.7 226.5L574.9 228.1L575.1 229.6L575.3 231.2L575.5 232.7L575.7 234.3L575.9 235.9L576.1 237.5L576.2 239.1L576.4 240.7L576.6 242.3L576.8 243.6L577.0 244.1L577.2 244.7L577.4 245.2L577.6 245.7L577.8 246.3L578.0 246.8L578.2 247.3L578.4 247.8L578.6 248.4L578.8 248.9L579.0 249.4L579.2 249.9L579.4 250.4L579.6 250.9L579.8 251.3L580.0 251.8L580.2 252.3L580.4 252.7L580.6 253.2L580.8 253.6L581.0 254.0L581.2 254.5L581.4 254.9L581.6 255.3L581.8 255.6L582.0 256.0L582.2 256.4L582.4 256.7L582.6 257.1L582.8 257.4L583.0 257.7L583.2 258.0L583.4 258.3L583.6 258.5L583.8 258.8L584.0 259.0L584.1 259.2L584.3 259.4L584.5 259.6L584.7 259.8L584.9 259.9L585.1 260.1L585.3 260.2L585.5 260.3L585.7 260.4L585.9 260.5L586.1 260.5L586.3 260.6L586.5 260.6L586.7 260.6L586.9 260.6L587.1 260.6L587.3 260.5L587.5 260.5L587.7 260.4L587.9 260.3L588.1 260.2L588.3 260.1L588.5 259.9L588.7 259.8L588.9 259.6L589.1 259.4L589.3 259.2L589.5 259.0L589.7 258.7L589.9 258.5L590.1 258.2L590.3 257.9L590.5 257.6L590.7 257.3L590.9 257.0L591.1 256.7L591.3 256.3L591.5 256.0L591.7 255.6L591.9 255.2L592.0 254.8L592.2 254.4L592.4 254.0L592.6 253.5L592.8 253.1L593.0 252.7L593.2 252.2L593.4 251.7L593.6 251.3L593.8 250.8L594.0 250.3L594.2 249.8L594.4 249.3L594.6 248.8L594.8 248.3L595.0 247.8L595.2 247.2L595.4 246.7L595.6 246.2L595.8 245.6L596.0 245.1L596.2 244.6L596.4 244.0L596.6 243.5L596.8 242.1L597.0 240.5L597.2 238.9L597.4 237.3L597.6 235.7L597.8 234.1L598.0 232.5L598.2 230.9L598.4 229.4L598.6 227.8L598.8 226.3L599.0 224.8L599.2 223.3L599.4 221.8L599.6 220.3L599.8 218.9L600.0 217.5L600.1 216.1L600.3 214.8L600.5 213.4L600.7 212.1L600.9 210.9L601.1 209.6L601.3 208.4L601.5 207.3L601.7 206.1L601.9 205.0L602.1 204.0L602.3 202.9L602.5 202.0L602.7 201.0L602.9 200.1L603.1 199.3L603.3 198.4L603.5 197.7L603.7 197.0L603.9 196.3L604.1 195.6L604.3 195.0L604.5 194.5L604.7 194.0L604.9 193.6L605.1 193.2L605.3 192.8L605.5 192.5L605.7 192.3L605.9 192.1L606.1 191.9L606.3 191.8L606.5 191.8L606.7 191.8L606.9 191.8L607.1 191.9L607.3 192.1L607.5 192.3L607.7 192.6L607.9 192.9L608.0 193.2L608.2 193.6L608.4 194.1L608.6 194.6L608.8 195.1L609.0 195.7L609.2 196.3L609.4 197.0L609.6 197.8L609.8 198.5L610.0 199.3L610.2 200.2L610.4 201.1L610.6 202.1L610.8 203.0L611.0 204.1L611.2 205.1L611.4 206.2L611.6 207.4L611.8 208.5L612.0 209.8L612.2 211.0L612.4 212.3L612.6 213.6L612.8 214.9L613.0 216.3L613.2 217.6L613.4 219.1L613.6 220.5L613.8 221.9L614.0 223.4L614.2 224.9L614.4 226.4L614.6 228.0L614.8 229.5L615.0 231.1L615.2 232.6L615.4 234.2L615.6 235.8L615.8 237.4L615.9 239.0L616.1 240.6L616.3 242.2L616.5 243.6L616.7 244.1L616.9 244.6L617.1 245.2L617.3 245.7L617.5 246.2L617.7 246.8L617.9 247.3L618.1 247.8L618.3 248.3L618.5 248.8L618.7 249.3L618.9 249.8L619.1 250.3L619.3 250.8L619.5 251.3L619.7 251.8L619.9 252.2L620.1 252.7L620.3 253.2L620.5 253.6L620.7 254.0L620.9 254.4L621.1 254.8L621.3 255.2L621.5 255.6L621.7 256.0L621.9 256.4L622.1 256.7L622.3 257.0L622.5 257.4L622.7 257.7L622.9 258.0L623.1 258.2L623.3 258.5L623.5 258.8L623.6 259.0L623.8 259.2L624.0 259.4L624.2 259.6L624.4 259.8L624.6 259.9L624.8 260.1L625.0 260.2L625.2 260.3L625.4 260.4L625.6 260.5L625.8 260.5L626.0 260.6L626.2 260.6L626.4 260.6L626.6 260.6L626.8 260.6L627.0 260.5L627.2 260.5L627.4 260.4L627.6 260.3L627.8 260.2L628.0 260.1L628.2 259.9L628.4 259.8L628.6 259.6L628.8 259.4L629.0 259.2L629.2 259.0L629.4 258.7L629.6 258.5L629.8 258.2L630.0 258.0L630.2 257.7L630.4 257.3L630.6 257.0L630.8 256.7L631.0 256.3L631.2 256.0L631.4 255.6L631.5 255.2L631.7 254.8L631.9 254.4L632.1 254.0L632.3 253.6L632.5 253.1L632.7 252.7L632.9 252.2L633.1 251.8L633.3 251.3L633.5 250.8L633.7 250.3L633.9 249.8L634.1 249.3L634.3 248.8L634.5 248.3L634.7 247.8L634.9 247.3L635.1 246.7L635.3 246.2L635.5 245.7L635.5 250.2L635.3 251.8L635.1 253.4L634.9 255.0L634.7 256.6L634.5 258.1L634.3 259.7L634.1 261.2L633.9 262.7L633.7 264.2L633.5 265.6L633.3 267.1L633.1 268.5L632.9 269.9L632.7 271.3L632.5 272.6L632.3 273.9L632.1 275.2L631.9 276.5L631.7 277.7L631.5 278.9L631.4 280.0L631.2 281.2L631.0 282.2L630.8 283.3L630.6 284.3L630.4 285.2L630.2 286.2L630.0 287.1L629.8 287.9L629.6 288.7L629.4 289.4L629.2 290.1L629.0 290.8L628.8 291.4L628.6 292.0L628.4 292.5L628.2 293.0L628.0 293.4L627.8 293.8L627.6 294.1L627.4 294.4L627.2 294.6L627.0 294.8L626.8 294.9L626.6 295.0L626.4 295.0L626.2 295.0L626.0 294.9L625.8 294.8L625.6 294.6L625.4 294.4L625.2 294.1L625.0 293.8L624.8 293.4L624.6 293.0L624.4 292.5L624.2 292.0L624.0 291.4L623.8 290.8L623.6 290.2L623.5 289.5L623.3 288.7L623.1 287.9L622.9 287.1L622.7 286.2L622.5 285.3L622.3 284.3L622.1 283.3L621.9 282.3L621.7 281.2L621.5 280.1L621.3 278.9L621.1 277.7L620.9 276.5L620.7 275.3L620.5 274.0L620.3 272.7L620.1 271.3L619.9 269.9L619.7 268.5L619.5 267.1L619.3 265.7L619.1 264.2L618.9 262.7L618.7 261.2L618.5 259.7L618.3 258.2L618.1 256.6L617.9 255.0L617.7 253.5L617.5 251.9L617.3 250.3L617.1 248.7L616.9 247.1L616.7 245.5L616.5 243.9L616.3 243.0L616.1 242.5L615.9 241.9L615.8 241.4L615.6 240.9L615.4 240.3L615.2 239.8L615.0 239.3L614.8 238.8L614.6 238.3L614.4 237.7L614.2 237.2L614.0 236.7L613.8 236.2L613.6 235.8L613.4 235.3L613.2 234.8L613.0 234.4L612.8 233.9L612.6 233.5L612.4 233.0L612.2 232.6L612.0 232.2L611.8 231.8L611.6 231.4L611.4 231.0L611.2 230.6L611.0 230.3L610.8 229.9L610.6 229.6L610.4 229.3L610.2 229.0L610.0 228.7L609.8 228.4L609.6 228.2L609.4 227.9L609.2 227.7L609.0 227.5L608.8 227.3L608.6 227.1L608.4 227.0L608.2 226.8L608.0 226.7L607.9 226.6L607.7 226.5L607.5 226.4L607.3 226.3L607.1 226.2L606.9 226.2L606.7 226.2L606.5 226.2L606.3 226.2L606.1 226.2L605.9 226.3L605.7 226.4L605.5 226.4L605.3 226.5L605.1 226.7L604.9 226.8L604.7 226.9L604.5 227.1L604.3 227.3L604.1 227.5L603.9 227.7L603.7 227.9L603.5 228.2L603.3 228.4L603.1 228.7L602.9 229.0L602.7 229.3L602.5 229.6L602.3 229.9L602.1 230.3L601.9 230.6L601.7 231.0L601.5 231.4L601.3 231.7L601.1 232.1L600.9 232.6L600.7 233.0L600.5 233.4L600.3 233.9L600.1 234.3L600.0 234.8L599.8 235.2L599.6 235.7L599.4 236.2L599.2 236.7L599.0 237.2L598.8 237.7L598.6 238.2L598.4 238.7L598.2 239.2L598.0 239.8L597.8 240.3L597.6 240.8L597.4 241.4L597.2 241.9L597.0 242.4L596.8 243.0L596.6 243.7L596.4 245.3L596.2 246.9L596.0 248.5L595.8 250.1L595.6 251.7L595.4 253.3L595.2 254.9L595.0 256.5L594.8 258.0L594.6 259.6L594.4 261.1L594.2 262.6L594.0 264.1L593.8 265.5L593.6 267.0L593.4 268.4L593.2 269.8L593.0 271.2L592.8 272.5L592.6 273.8L592.4 275.1L592.2 276.4L592.0 277.6L591.9 278.8L591.7 280.0L591.5 281.1L591.3 282.2L591.1 283.2L590.9 284.2L590.7 285.2L590.5 286.1L590.3 287.0L590.1 287.8L589.9 288.6L589.7 289.4L589.5 290.1L589.3 290.8L589.1 291.4L588.9 292.0L588.7 292.5L588.5 293.0L588.3 293.4L588.1 293.8L587.9 294.1L587.7 294.4L587.5 294.6L587.3 294.8L587.1 294.9L586.9 295.0L586.7 295.0L586.5 295.0L586.3 294.9L586.1 294.8L585.9 294.6L585.7 294.4L585.5 294.1L585.3 293.8L585.1 293.5L584.9 293.0L584.7 292.6L584.5 292.0L584.3 291.5L584.1 290.9L584.0 290.2L583.8 289.5L583.6 288.8L583.4 288.0L583.2 287.1L583.0 286.3L582.8 285.3L582.6 284.4L582.4 283.4L582.2 282.3L582.0 281.3L581.8 280.1L581.6 279.0L581.4 277.8L581.2 276.6L581.0 275.3L580.8 274.1L580.6 272.7L580.4 271.4L580.2 270.0L580.0 268.6L579.8 267.2L579.6 265.8L579.4 264.3L579.2 262.8L579.0 261.3L578.8 259.8L578.6 258.3L578.4 256.7L578.2 255.1L578.0 253.6L577.8 252.0L577.6 250.4L577.4 248.8L577.2 247.2L577.0 245.6L576.8 244.0L576.6 243.0L576.4 242.5L576.2 242.0L576.1 241.4L575.9 240.9L575.7 240.4L575.5 239.8L575.3 239.3L575.1 238.8L574.9 238.3L574.7 237.8L574.5 237.3L574.3 236.8L574.1 236.3L573.9 235.8L573.7 235.3L573.5 234.8L573.3 234.4L573.1 233.9L572.9 233.5L572.7 233.0L572.5 232.6L572.3 232.2L572.1 231.8L571.9 231.4L571.7 231.0L571.5 230.7L571.3 230.3L571.1 230.0L570.9 229.6L570.7 229.3L570.5 229.0L570.3 228.7L570.1 228.5L569.9 228.2L569.7 228.0L569.5 227.7L569.3 227.5L569.1 227.3L568.9 227.1L568.7 227.0L568.5 226.8L568.4 226.7L568.2 226.6L568.0 226.5L567.8 226.4L567.6 226.3L567.4 226.2L567.2 226.2L567.0 226.2L566.8 226.2L566.6 226.2L566.4 226.2L566.2 226.3L566.0 226.4L565.8 226.4L565.6 226.5L565.4 226.6L565.2 226.8L565.0 226.9L564.8 227.1L564.6 227.3L564.4 227.5L564.2 227.7L564.0 227.9L563.8 228.1L563.6 228.4L563.4 228.7L563.2 229.0L563.0 229.3L562.8 229.6L562.6 229.9L562.4 230.2L562.2 230.6L562.0 231.0L561.8 231.3L561.6 231.7L561.4 232.1L561.2 232.5L561.0 233.0L560.8 233.4L560.6 233.8L560.5 234.3L560.3 234.7L560.1 235.2L559.9 235.7L559.7 236.2L559.5 236.7L559.3 237.2L559.1 237.7L558.9 238.2L558.7 238.7L558.5 239.2L558.3 239.7L558.1 240.3L557.9 240.8L557.7 241.3L557.5 241.9L557.3 242.4L557.1 242.9L556.9 243.6L556.7 245.2L556.5 246.8L556.3 248.4L556.1 250.0L555.9 251.6L555.7 253.2L555.5 254.8L555.3 256.4L555.1 257.9L554.9 259.5L554.7 261.0L554.5 262.5L554.3 264.0L554.1 265.5L553.9 266.9L553.7 268.3L553.5 269.7L553.3 271.1L553.1 272.4L552.9 273.8L552.7 275.1L552.5 276.3L552.4 277.5L552.2 278.7L552.0 279.9L551.8 281.0L551.6 282.1L551.4 283.2L551.2 284.2L551.0 285.1L550.8 286.1L550.6 286.9L550.4 287.8L550.2 288.6L550.0 289.4L549.8 290.1L549.6 290.7L549.4 291.4L549.2 291.9L549.0 292.5L548.8 292.9L548.6 293.4L548.4 293.7L548.2 294.1L548.0 294.4L547.8 294.6L547.6 294.8L547.4 294.9L547.2 295.0L547.0 295.0L546.8 295.0L546.6 294.9L546.4 294.8L546.2 294.6L546.0 294.4L545.8 294.2L545.6 293.8L545.4 293.5L545.2 293.1L545.0 292.6L544.8 292.1L544.6 291.5L544.5 290.9L544.3 290.3L544.1 289.6L543.9 288.8L543.7 288.0L543.5 287.2L543.3 286.3L543.1 285.4L542.9 284.4L542.7 283.4L542.5 282.4L542.3 281.3L542.1 280.2L541.9 279.1L541.7 277.9L541.5 276.7L541.3 275.4L541.1 274.1L540.9 272.8L540.7 271.5L540.5 270.1L540.3 268.7L540.1 267.3L539.9 265.9L539.7 264.4L539.5 262.9L539.3 261.4L539.1 259.9L538.9 258.4L538.7 256.8L538.5 255.2L538.3 253.7L538.1 252.1L537.9 250.5L537.7 248.9L537.5 247.3L537.3 245.7L537.1 244.1L536.9 243.1L536.8 242.5L536.6 242.0L536.4 241.5L536.2 240.9L536.0 240.4L535.8 239.9L535.6 239.4L535.4 238.8L535.2 238.3L535.0 237.8L534.8 237.3L534.6 236.8L534.4 236.3L534.2 235.8L534.0 235.3L533.8 234.9L533.6 234.4L533.4 234.0L533.2 233.5L533.0 233.1L532.8 232.6L532.6 232.2L532.4 231.8L532.2 231.4L532.0 231.1L531.8 230.7L531.6 230.3L531.4 230.0L531.2 229.7L531.0 229.3L530.8 229.0L530.6 228.8L530.4 228.5L530.2 228.2L530.0 228.0L529.8 227.7L529.6 227.5L529.4 227.3L529.2 227.1L529.0 227.0L528.9 226.8L528.7 226.7L528.5 226.6L528.3 226.5L528.1 226.4L527.9 226.3L527.7 226.3L527.5 226.2L527.3 226.2L527.1 226.2L526.9 226.2L526.7 226.2L526.5 226.3L526.3 226.3L526.1 226.4L525.9 226.5L525.7 226.6L525.5 226.8L525.3 226.9L525.1 227.1L524.9 227.3L524.7 227.5L524.5 227.7L524.3 227.9L524.1 228.1L523.9 228.4L523.7 228.7L523.5 228.9L523.3 229.2L523.1 229.5L522.9 229.9L522.7 230.2L522.5 230.6L522.3 230.9L522.1 231.3L521.9 231.7L521.7 232.1L521.5 232.5L521.3 232.9L521.1 233.4L521.0 233.8L520.8 234.3L520.6 234.7L520.4 235.2L520.2 235.7L520.0 236.1L519.8 236.6L519.6 237.1L519.4 237.6L519.2 238.1L519.0 238.7L518.8 239.2L518.6 239.7L518.4 240.2L518.2 240.8L518.0 241.3L517.8 241.8L517.6 242.4L517.4 242.9L517.2 243.5L517.0 245.1L516.8 246.7L516.6 248.3L516.4 249.9L516.2 251.5L516.0 253.1L515.8 254.7L515.6 256.3L515.4 257.8L515.2 259.4L515.0 260.9L514.8 262.4L514.6 263.9L514.4 265.4L514.2 266.8L514.0 268.2L513.8 269.6L513.6 271.0L513.4 272.4L513.2 273.7L513.0 275.0L512.9 276.2L512.7 277.5L512.5 278.7L512.3 279.8L512.1 280.9L511.9 282.0L511.7 283.1L511.5 284.1L511.3 285.1L511.1 286.0L510.9 286.9L510.7 287.7L510.5 288.5L510.3 289.3L510.1 290.0L509.9 290.7L509.7 291.3L509.5 291.9L509.3 292.4L509.1 292.9L508.9 293.3L508.7 293.7L508.5 294.1L508.3 294.3L508.1 294.6L507.9 294.8L507.7 294.9L507.5 295.0L507.3 295.0L507.1 295.0L506.9 294.9L506.7 294.8L506.5 294.7L506.3 294.4L506.1 294.2L505.9 293.9L505.7 293.5L505.5 293.1L505.3 292.6L505.1 292.1L505.0 291.6L504.8 291.0L504.6 290.3L504.4 289.6L504.2 288.9L504.0 288.1L503.8 287.2L503.6 286.4L503.4 285.5L503.2 284.5L503.0 283.5L502.8 282.5L502.6 281.4L502.4 280.3L502.2 279.1L502.0 278.0L501.8 276.7L501.6 275.5L501.4 274.2L501.2 272.9L501.0 271.6L500.8 270.2L500.6 268.8L500.4 267.4L500.2 266.0L500.0 264.5L499.8 263.0L499.6 261.5L499.4 260.0L499.2 258.5L499.0 256.9L498.8 255.3L498.6 253.8L498.4 252.2L498.2 250.6L498.0 249.0L497.8 247.4L497.6 245.8L497.4 244.2L497.2 243.1L497.1 242.6L496.9 242.0L496.7 241.5L496.5 241.0L496.3 240.4L496.1 239.9L495.9 239.4L495.7 238.9L495.5 238.4L495.3 237.8L495.1 237.3L494.9 236.8L494.7 236.3L494.5 235.9L494.3 235.4L494.1 234.9L493.9 234.4L493.7 234.0L493.5 233.5L493.3 233.1L493.1 232.7L492.9 232.3L492.7 231.9L492.5 231.5L492.3 231.1L492.1 230.7L491.9 230.4L491.7 230.0L491.5 229.7L491.3 229.4L491.1 229.1L490.9 228.8L490.7 228.5L490.5 228.2L490.3 228.0L490.1 227.8L489.9 227.5L489.7 227.3L489.5 227.2L489.4 227.0L489.2 226.8L489.0 226.7L488.8 226.6L488.6 226.5L488.4 226.4L488.2 226.3L488.0 226.3L487.8 226.2L487.6 226.2L487.4 226.2L487.2 226.2L487.0 226.2L486.8 226.3L486.6 226.3L486.4 226.4L486.2 226.5L486.0 226.6L485.8 226.8L485.6 226.9L485.4 227.1L485.2 227.2L485.0 227.4L484.8 227.6L484.6 227.9L484.4 228.1L484.2 228.4L484.0 228.6L483.8 228.9L483.6 229.2L483.4 229.5L483.2 229.9L483.0 230.2L482.8 230.5L482.6 230.9L482.4 231.3L482.2 231.7L482.0 232.1L481.8 232.5L481.6 232.9L481.4 233.3L481.3 233.8L481.1 234.2L480.9 234.7L480.7 235.2L480.5 235.6L480.3 236.1L480.1 236.6L479.9 237.1L479.7 237.6L479.5 238.1L479.3 238.6L479.1 239.1L478.9 239.7L478.7 240.2L478.5 240.7L478.3 241.3L478.1 241.8L477.9 242.3L477.7 242.9L477.5 243.4Z" fill="#cacaca" stroke="none"/>
<path d="M477.5 243.4L477.7 242.3L477.9 241.3L478.1 240.2L478.3 239.1L478.5 238.0L478.7 237.0L478.9 235.9L479.1 234.9L479.3 233.8L479.5 232.8L479.7 231.8L479.9 230.8L480.1 229.8L480.3 228.8L480.5 227.9L480.7 226.9L480.9 226.0L481.1 225.0L481.3 224.1L481.4 223.3L481.6 222.4L481.8 221.6L482.0 220.7L482.2 219.9L482.4 219.2L482.6 218.4L482.8 217.7L483.0 217.0L483.2 216.3L483.4 215.7L483.6 215.0L483.8 214.4L484.0 213.9L484.2 213.3L484.4 212.8L484.6 212.3L484.8 211.9L485.0 211.5L485.2 211.1L485.4 210.7L485.6 210.4L485.8 210.1L486.0 209.9L486.2 209.6L486.4 209.4L486.6 209.3L486.8 209.2L487.0 209.1L487.2 209.0L487.4 209.0L487.6 209.0L487.8 209.0L488.0 209.1L488.2 209.2L488.4 209.4L488.6 209.5L488.8 209.7L489.0 210.0L489.2 210.3L489.4 210.6L489.5 210.9L489.7 211.3L489.9 211.7L490.1 212.1L490.3 212.6L490.5 213.1L490.7 213.6L490.9 214.1L491.1 214.7L491.3 215.3L491.5 216.0L491.7 216.6L491.9 217.3L492.1 218.0L492.3 218.8L492.5 219.5L492.7 220.3L492.9 221.1L493.1 222.0L493.3 222.8L493.5 223.7L493.7 224.6L493.9 225.5L494.1 226.4L494.3 227.3L494.5 228.3L494.7 229.3L494.9 230.3L495.1 231.3L495.3 232.3L495.5 233.3L495.7 234.3L495.9 235.4L496.1 236.4L496.3 237.5L496.5 238.5L496.7 239.6L496.9 240.7L497.1 241.8L497.2 242.8L497.4 243.9L497.6 245.0L497.8 246.1L498.0 247.1L498.2 248.2L498.4 249.3L498.6 250.3L498.8 251.4L499.0 252.4L499.2 253.4L499.4 254.5L499.6 255.5L499.8 256.5L500.0 257.5L500.2 258.4L500.4 259.4L500.6 260.3L500.8 261.3L501.0 262.2L501.2 263.1L501.4 263.9L501.6 264.8L501.8 265.6L502.0 266.4L502.2 267.2L502.4 268.0L502.6 268.7L502.8 269.4L503.0 270.1L503.2 270.8L503.4 271.4L503.6 272.0L503.8 272.6L504.0 273.2L504.2 273.7L504.4 274.2L504.6 274.7L504.8 275.1L505.0 275.5L505.1 275.9L505.3 276.2L505.5 276.5L505.7 276.8L505.9 277.0L506.1 277.3L506.3 277.4L506.5 277.6L506.7 277.7L506.9 277.8L507.1 277.8L507.3 277.8L507.5 277.8L507.7 277.7L507.9 277.6L508.1 277.5L508.3 277.4L508.5 277.2L508.7 276.9L508.9 276.7L509.1 276.4L509.3 276.1L509.5 275.7L509.7 275.3L509.9 274.9L510.1 274.5L510.3 274.0L510.5 273.5L510.7 273.0L510.9 272.4L511.1 271.8L511.3 271.2L511.5 270.5L511.7 269.9L511.9 269.2L512.1 268.4L512.3 267.7L512.5 266.9L512.7 266.1L512.9 265.3L513.0 264.5L513.2 263.6L513.4 262.7L513.6 261.8L513.8 260.9L514.0 260.0L514.2 259.0L514.4 258.0L514.6 257.1L514.8 256.1L515.0 255.1L515.2 254.0L515.4 253.0L515.6 252.0L515.8 250.9L516.0 249.9L516.2 248.8L516.4 247.8L516.6 246.7L516.8 245.6L517.0 244.5L517.2 243.5L517.4 242.4L517.6 241.3L517.8 240.2L518.0 239.2L518.2 238.1L518.4 237.1L518.6 236.0L518.8 234.9L519.0 233.9L519.2 232.9L519.4 231.9L519.6 230.9L519.8 229.9L520.0 228.9L520.2 227.9L520.4 227.0L520.6 226.0L520.8 225.1L521.0 224.2L521.1 223.3L521.3 222.5L521.5 221.6L521.7 220.8L521.9 220.0L522.1 219.2L522.3 218.5L522.5 217.7L522.7 217.0L522.9 216.3L523.1 215.7L523.3 215.1L523.5 214.5L523.7 213.9L523.9 213.4L524.1 212.9L524.3 212.4L524.5 211.9L524.7 211.5L524.9 211.1L525.1 210.8L525.3 210.4L525.5 210.1L525.7 209.9L525.9 209.7L526.1 209.5L526.3 209.3L526.5 209.2L526.7 209.1L526.9 209.0L527.1 209.0L527.3 209.0L527.5 209.0L527.7 209.1L527.9 209.2L528.1 209.4L528.3 209.5L528.5 209.7L528.7 210.0L528.9 210.2L529.0 210.5L529.2 210.9L529.4 211.2L529.6 211.6L529.8 212.1L530.0 212.5L530.2 213.0L530.4 213.6L530.6 214.1L530.8 214.7L531.0 215.3L531.2 215.9L531.4 216.6L531.6 217.3L531.8 218.0L532.0 218.7L532.2 219.5L532.4 220.3L532.6 221.1L532.8 221.9L533.0 222.7L533.2 223.6L533.4 224.5L533.6 225.4L533.8 226.3L534.0 227.3L534.2 228.2L534.4 229.2L534.6 230.2L534.8 231.2L535.0 232.2L535.2 233.2L535.4 234.3L535.6 235.3L535.8 236.4L536.0 237.4L536.2 238.5L536.4 239.5L536.6 240.6L536.8 241.7L536.9 242.8L537.1 243.8L537.3 244.9L537.5 246.0L537.7 247.1L537.9 248.1L538.1 249.2L538.3 250.2L538.5 251.3L538.7 252.3L538.9 253.4L539.1 254.4L539.3 255.4L539.5 256.4L539.7 257.4L539.9 258.4L540.1 259.3L540.3 260.3L540.5 261.2L540.7 262.1L540.9 263.0L541.1 263.9L541.3 264.7L541.5 265.6L541.7 266.4L541.9 267.2L542.1 267.9L542.3 268.7L542.5 269.4L542.7 270.1L542.9 270.8L543.1 271.4L543.3 272.0L543.5 272.6L543.7 273.1L543.9 273.7L544.1 274.2L544.3 274.6L544.5 275.1L544.6 275.5L544.8 275.9L545.0 276.2L545.2 276.5L545.4 276.8L545.6 277.0L545.8 277.2L546.0 277.4L546.2 277.6L546.4 277.7L546.6 277.8L546.8 277.8L547.0 277.8L547.2 277.8L547.4 277.7L547.6 277.7L547.8 277.5L548.0 277.4L548.2 277.2L548.4 277.0L548.6 276.7L548.8 276.4L549.0 276.1L549.2 275.8L549.4 275.4L549.6 275.0L549.8 274.5L550.0 274.0L550.2 273.5L550.4 273.0L550.6 272.4L550.8 271.8L551.0 271.2L551.2 270.6L551.4 269.9L551.6 269.2L551.8 268.5L552.0 267.7L552.2 267.0L552.4 266.2L552.5 265.3L552.7 264.5L552.9 263.6L553.1 262.8L553.3 261.9L553.5 261.0L553.7 260.0L553.9 259.1L554.1 258.1L554.3 257.1L554.5 256.1L554.7 255.1L554.9 254.1L555.1 253.1L555.3 252.0L555.5 251.0L555.7 249.9L555.9 248.9L556.1 247.8L556.3 246.8L556.5 245.7L556.7 244.6L556.9 243.5L557.1 242.5L557.3 241.4L557.5 240.3L557.7 239.2L557.9 238.2L558.1 237.1L558.3 236.1L558.5 235.0L558.7 234.0L558.9 232.9L559.1 231.9L559.3 230.9L559.5 229.9L559.7 228.9L559.9 228.0L560.1 227.0L560.3 226.1L560.5 225.2L560.6 224.3L560.8 223.4L561.0 222.5L561.2 221.7L561.4 220.8L561.6 220.0L561.8 219.3L562.0 218.5L562.2 217.8L562.4 217.1L562.6 216.4L562.8 215.7L563.0 215.1L563.2 214.5L563.4 213.9L563.6 213.4L563.8 212.9L564.0 212.4L564.2 212.0L564.4 211.5L564.6 211.1L564.8 210.8L565.0 210.5L565.2 210.2L565.4 209.9L565.6 209.7L565.8 209.5L566.0 209.3L566.2 209.2L566.4 209.1L566.6 209.0L566.8 209.0L567.0 209.0L567.2 209.0L567.4 209.1L567.6 209.2L567.8 209.3L568.0 209.5L568.2 209.7L568.4 210.0L568.5 210.2L568.7 210.5L568.9 210.9L569.1 211.2L569.3 211.6L569.5 212.1L569.7 212.5L569.9 213.0L570.1 213.5L570.3 214.1L570.5 214.6L570.7 215.2L570.9 215.9L571.1 216.5L571.3 217.2L571.5 217.9L571.7 218.7L571.9 219.4L572.1 220.2L572.3 221.0L572.5 221.8L572.7 222.7L572.9 223.6L573.1 224.5L573.3 225.4L573.5 226.3L573.7 227.2L573.9 228.2L574.1 229.2L574.3 230.1L574.5 231.1L574.7 232.2L574.9 233.2L575.1 234.2L575.3 235.2L575.5 236.3L575.7 237.3L575.9 238.4L576.1 239.5L576.2 240.5L576.4 241.6L576.6 242.7L576.8 243.8L577.0 244.8L577.2 245.9L577.4 247.0L577.6 248.1L577.8 249.1L578.0 250.2L578.2 251.2L578.4 252.3L578.6 253.3L578.8 254.3L579.0 255.3L579.2 256.4L579.4 257.3L579.6 258.3L579.8 259.3L580.0 260.2L580.2 261.2L580.4 262.1L580.6 263.0L580.8 263.8L581.0 264.7L581.2 265.5L581.4 266.3L581.6 267.1L581.8 267.9L582.0 268.6L582.2 269.4L582.4 270.1L582.6 270.7L582.8 271.4L583.0 272.0L583.2 272.6L583.4 273.1L583.6 273.6L583.8 274.1L584.0 274.6L584.1 275.0L584.3 275.5L584.5 275.8L584.7 276.2L584.9 276.5L585.1 276.8L585.3 277.0L585.5 277.2L585.7 277.4L585.9 277.6L586.1 277.7L586.3 277.8L586.5 277.8L586.7 277.8L586.9 277.8L587.1 277.7L587.3 277.7L587.5 277.5L587.7 277.4L587.9 277.2L588.1 277.0L588.3 276.7L588.5 276.4L588.7 276.1L588.9 275.8L589.1 275.4L589.3 275.0L589.5 274.5L589.7 274.1L589.9 273.6L590.1 273.0L590.3 272.5L590.5 271.9L590.7 271.3L590.9 270.6L591.1 269.9L591.3 269.2L591.5 268.5L591.7 267.8L591.9 267.0L592.0 266.2L592.2 265.4L592.4 264.6L592.6 263.7L592.8 262.8L593.0 261.9L593.2 261.0L593.4 260.1L593.6 259.1L593.8 258.2L594.0 257.2L594.2 256.2L594.4 255.2L594.6 254.2L594.8 253.1L595.0 252.1L595.2 251.1L595.4 250.0L595.6 249.0L595.8 247.9L596.0 246.8L596.2 245.7L596.4 244.7L596.6 243.6L596.8 242.5L597.0 241.4L597.2 240.4L597.4 239.3L597.6 238.2L597.8 237.2L598.0 236.1L598.2 235.1L598.4 234.0L598.6 233.0L598.8 232.0L599.0 231.0L599.2 230.0L599.4 229.0L599.6 228.0L599.8 227.1L600.0 226.1L600.1 225.2L600.3 224.3L600.5 223.4L600.7 222.6L600.9 221.7L601.1 220.9L601.3 220.1L601.5 219.3L601.7 218.6L601.9 217.8L602.1 217.1L602.3 216.4L602.5 215.8L602.7 215.1L602.9 214.5L603.1 214.0L603.3 213.4L603.5 212.9L603.7 212.4L603.9 212.0L604.1 211.6L604.3 211.2L604.5 210.8L604.7 210.5L604.9 210.2L605.1 209.9L605.3 209.7L605.5 209.5L605.7 209.3L605.9 209.2L606.1 209.1L606.3 209.0L606.5 209.0L606.7 209.0L606.9 209.0L607.1 209.1L607.3 209.2L607.5 209.3L607.7 209.5L607.9 209.7L608.0 209.9L608.2 210.2L608.4 210.5L608.6 210.8L608.8 211.2L609.0 211.6L609.2 212.0L609.4 212.5L609.6 213.0L609.8 213.5L610.0 214.0L610.2 214.6L610.4 215.2L610.6 215.8L610.8 216.5L611.0 217.2L611.2 217.9L611.4 218.6L611.6 219.4L611.8 220.2L612.0 221.0L612.2 221.8L612.4 222.6L612.6 223.5L612.8 224.4L613.0 225.3L613.2 226.2L613.4 227.2L613.6 228.1L613.8 229.1L614.0 230.1L614.2 231.1L614.4 232.1L614.6 233.1L614.8 234.1L615.0 235.2L615.2 236.2L615.4 237.3L615.6 238.3L615.8 239.4L615.9 240.5L616.1 241.6L616.3 242.6L616.5 243.7L616.7 244.8L616.9 245.9L617.1 246.9L617.3 248.0L617.5 249.1L617.7 250.1L617.9 251.2L618.1 252.2L618.3 253.2L618.5 254.3L618.7 255.3L618.9 256.3L619.1 257.3L619.3 258.3L619.5 259.2L619.7 260.2L619.9 261.1L620.1 262.0L620.3 262.9L620.5 263.8L620.7 264.6L620.9 265.5L621.1 266.3L621.3 267.1L621.5 267.8L621.7 268.6L621.9 269.3L622.1 270.0L622.3 270.7L622.5 271.3L622.7 271.9L622.9 272.5L623.1 273.1L623.3 273.6L623.5 274.1L623.6 274.6L623.8 275.0L624.0 275.4L624.2 275.8L624.4 276.2L624.6 276.5L624.8 276.8L625.0 277.0L625.2 277.2L625.4 277.4L625.6 277.5L625.8 277.7L626.0 277.7L626.2 277.8L626.4 277.8L626.6 277.8L626.8 277.7L627.0 277.7L627.2 277.5L627.4 277.4L627.6 277.2L627.8 277.0L628.0 276.7L628.2 276.5L628.4 276.1L628.6 275.8L628.8 275.4L629.0 275.0L629.2 274.6L629.4 274.1L629.6 273.6L629.8 273.1L630.0 272.5L630.2 271.9L630.4 271.3L630.6 270.7L630.8 270.0L631.0 269.3L631.2 268.6L631.4 267.8L631.5 267.1L631.7 266.3L631.9 265.4L632.1 264.6L632.3 263.8L632.5 262.9L632.7 262.0L632.9 261.1L633.1 260.1L633.3 259.2L633.5 258.2L633.7 257.2L633.9 256.3L634.1 255.2L634.3 254.2L634.5 253.2L634.7 252.2L634.9 251.1L635.1 250.1L635.3 249.0L635.5 248.0" fill="none" stroke="#5e2430" stroke-width="1.15"/>
<path d="M477.50,183.00 L477.50,303.80 L635.50,303.80" fill="none" stroke="#767676" stroke-width="1.45"/>
<line x1="477.50" y1="303.80" x2="477.50" y2="306.00" stroke="#767676" stroke-width="1"/>
<text transform="translate(477.50,314.85) scale(0.870,1)" text-anchor="middle" class="tk" style="font-size:9.30px">0</text>
<line x1="509.10" y1="303.80" x2="509.10" y2="306.00" stroke="#767676" stroke-width="1"/>
<text transform="translate(509.10,314.85) scale(0.870,1)" text-anchor="middle" class="tk" style="font-size:9.30px">10</text>
<line x1="540.70" y1="303.80" x2="540.70" y2="306.00" stroke="#767676" stroke-width="1"/>
<text transform="translate(540.70,314.85) scale(0.870,1)" text-anchor="middle" class="tk" style="font-size:9.30px">20</text>
<line x1="572.30" y1="303.80" x2="572.30" y2="306.00" stroke="#767676" stroke-width="1"/>
<text transform="translate(572.30,314.85) scale(0.870,1)" text-anchor="middle" class="tk" style="font-size:9.30px">30</text>
<line x1="603.90" y1="303.80" x2="603.90" y2="306.00" stroke="#767676" stroke-width="1"/>
<text transform="translate(603.90,314.85) scale(0.870,1)" text-anchor="middle" class="tk" style="font-size:9.30px">40</text>
<line x1="635.50" y1="303.80" x2="635.50" y2="306.00" stroke="#767676" stroke-width="1"/>
<text transform="translate(635.50,314.85) scale(0.870,1)" text-anchor="middle" class="tk" style="font-size:9.30px">50</text>
<line x1="475.30" y1="295.02" x2="477.50" y2="295.02" stroke="#767676" stroke-width="1"/>
<text transform="translate(473.20,298.47) scale(0.870,1)" text-anchor="end" class="tk" style="font-size:9.30px">−300</text>
<line x1="475.30" y1="277.82" x2="477.50" y2="277.82" stroke="#767676" stroke-width="1"/>
<text transform="translate(473.20,281.27) scale(0.870,1)" text-anchor="end" class="tk" style="font-size:9.30px">−200</text>
<line x1="475.30" y1="260.61" x2="477.50" y2="260.61" stroke="#767676" stroke-width="1"/>
<text transform="translate(473.20,264.06) scale(0.870,1)" text-anchor="end" class="tk" style="font-size:9.30px">−100</text>
<line x1="475.30" y1="243.40" x2="477.50" y2="243.40" stroke="#767676" stroke-width="1"/>
<text transform="translate(473.20,246.85) scale(0.870,1)" text-anchor="end" class="tk" style="font-size:9.30px">0</text>
<line x1="475.30" y1="226.19" x2="477.50" y2="226.19" stroke="#767676" stroke-width="1"/>
<text transform="translate(473.20,229.64) scale(0.870,1)" text-anchor="end" class="tk" style="font-size:9.30px">100</text>
<line x1="475.30" y1="208.98" x2="477.50" y2="208.98" stroke="#767676" stroke-width="1"/>
<text transform="translate(473.20,212.43) scale(0.870,1)" text-anchor="end" class="tk" style="font-size:9.30px">200</text>
<line x1="475.30" y1="191.78" x2="477.50" y2="191.78" stroke="#767676" stroke-width="1"/>
<text transform="translate(473.20,195.23) scale(0.870,1)" text-anchor="end" class="tk" style="font-size:9.30px">300</text>
<text transform="translate(556.50,324.30) scale(0.960,1)" text-anchor="middle" class="lb">Time (s)</text>
<text transform="translate(452.20,243.40) scale(0.960,1) rotate(-90)" text-anchor="middle" class="lb" style="font-size:9.70px">Input Force (N)</text>
<rect x="479.10" y="174.40" width="155.30" height="11.85" rx="1.5" fill="#fff" stroke="#d8d8d8" stroke-width="0.9"/>
<line x1="482.50" y1="179.72" x2="496.60" y2="179.72" stroke="#e8a0a8" stroke-width="1.1"/>
<text transform="translate(502.20,182.42) scale(0.2500,0.2500)" class="lg" style="font-size:28.80px">Applied</text>
<line x1="538.70" y1="179.72" x2="552.80" y2="179.72" stroke="#777" stroke-width="1.1"/>
<text transform="translate(558.40,182.42) scale(0.2500,0.2500)" class="lg" style="font-size:28.80px">SaPINNs</text>
<rect x="599.20" y="177.42" width="14.10" height="4.6" fill="#cacaca"/>
<text transform="translate(618.30,182.42) scale(0.2500)" class="lg" style="font-size:28.80px;stroke-width:0.8px">2</text>
<text transform="translate(624.20,182.42) scale(0.2500)" class="lg" font-weight="bold" font-style="italic" style="font-size:28.80px">σ</text>
<path d="M625.40,177.92 l1.3,-1.3 l1.3,1.3" fill="none" stroke="#111" stroke-width="0.75"/>
<clipPath id="ca"><rect x="0" y="0" width="640" height="166.6"/></clipPath><text x="321.8" y="165.6" text-anchor="middle" class="cap" clip-path="url(#ca)" style="font-size:12.9px">(a)</text>
<text x="322" y="340.7" text-anchor="middle" class="cap">(b)</text>
</svg>
</body></html>
